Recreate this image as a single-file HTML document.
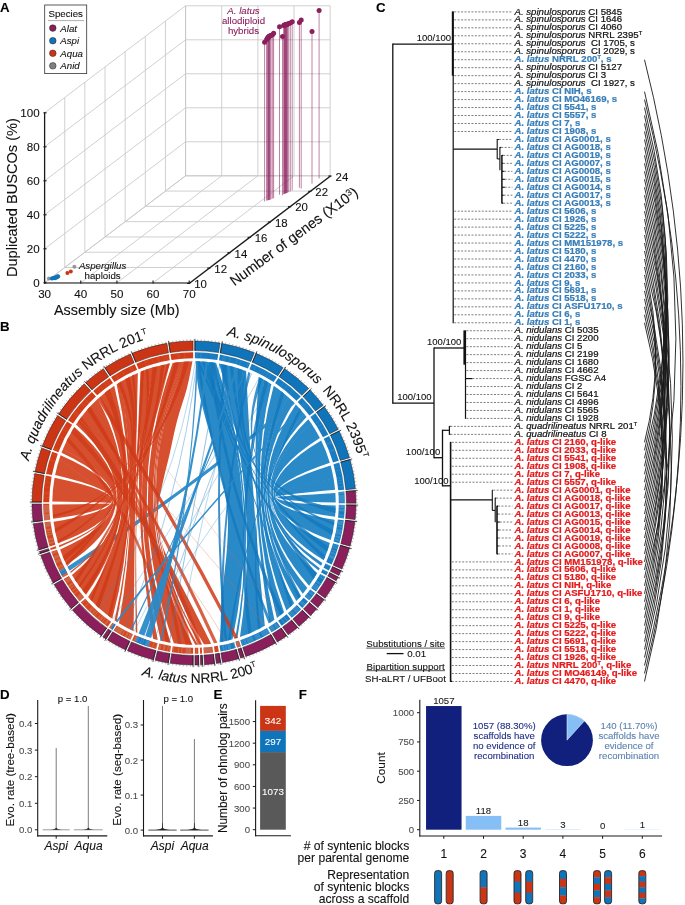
<!DOCTYPE html>
<html><head><meta charset="utf-8"><title>Figure</title>
<style>
html,body{margin:0;padding:0;background:#fff;}
body{width:685px;height:905px;overflow:hidden;font-family:"Liberation Sans",sans-serif;}
svg{display:block;will-change:transform;}
text{font-family:"Liberation Sans",sans-serif;}
</style></head><body>
<svg width="685" height="905" viewBox="0 0 685 905">
<rect width="685" height="905" fill="#fff"/>
<line x1="185.58" y1="175.8" x2="185.58" y2="5.8" stroke="#c8c8c8" stroke-width="0.85" />
<line x1="221.73" y1="175.8" x2="221.73" y2="5.8" stroke="#c8c8c8" stroke-width="0.85" />
<line x1="257.88" y1="175.8" x2="257.88" y2="5.8" stroke="#c8c8c8" stroke-width="0.85" />
<line x1="294.03" y1="175.8" x2="294.03" y2="5.8" stroke="#c8c8c8" stroke-width="0.85" />
<line x1="330.18" y1="175.8" x2="330.18" y2="5.8" stroke="#c8c8c8" stroke-width="0.85" />
<line x1="185.58" y1="175.8" x2="330.18" y2="175.8" stroke="#c8c8c8" stroke-width="0.85" />
<line x1="185.58" y1="141.8" x2="330.18" y2="141.8" stroke="#c8c8c8" stroke-width="0.85" />
<line x1="185.58" y1="107.8" x2="330.18" y2="107.8" stroke="#c8c8c8" stroke-width="0.85" />
<line x1="185.58" y1="73.8" x2="330.18" y2="73.8" stroke="#c8c8c8" stroke-width="0.85" />
<line x1="185.58" y1="39.8" x2="330.18" y2="39.8" stroke="#c8c8c8" stroke-width="0.85" />
<line x1="185.58" y1="5.8" x2="330.18" y2="5.8" stroke="#c8c8c8" stroke-width="0.85" />
<line x1="44.6" y1="282.8" x2="44.6" y2="112.8" stroke="#c8c8c8" stroke-width="0.85" />
<line x1="64.74" y1="267.51" x2="64.74" y2="97.51" stroke="#c8c8c8" stroke-width="0.85" />
<line x1="84.88" y1="252.23" x2="84.88" y2="82.23" stroke="#c8c8c8" stroke-width="0.85" />
<line x1="105.02" y1="236.94" x2="105.02" y2="66.94" stroke="#c8c8c8" stroke-width="0.85" />
<line x1="125.16" y1="221.66" x2="125.16" y2="51.66" stroke="#c8c8c8" stroke-width="0.85" />
<line x1="145.3" y1="206.37" x2="145.3" y2="36.37" stroke="#c8c8c8" stroke-width="0.85" />
<line x1="165.44" y1="191.08" x2="165.44" y2="21.08" stroke="#c8c8c8" stroke-width="0.85" />
<line x1="185.58" y1="175.8" x2="185.58" y2="5.8" stroke="#c8c8c8" stroke-width="0.85" />
<line x1="44.6" y1="282.8" x2="185.58" y2="175.8" stroke="#c8c8c8" stroke-width="0.85" />
<line x1="44.6" y1="248.8" x2="185.58" y2="141.8" stroke="#c8c8c8" stroke-width="0.85" />
<line x1="44.6" y1="214.8" x2="185.58" y2="107.8" stroke="#c8c8c8" stroke-width="0.85" />
<line x1="44.6" y1="180.8" x2="185.58" y2="73.8" stroke="#c8c8c8" stroke-width="0.85" />
<line x1="44.6" y1="146.8" x2="185.58" y2="39.8" stroke="#c8c8c8" stroke-width="0.85" />
<line x1="44.6" y1="112.8" x2="185.58" y2="5.8" stroke="#c8c8c8" stroke-width="0.85" />
<line x1="44.6" y1="282.8" x2="185.58" y2="175.8" stroke="#c8c8c8" stroke-width="0.85" />
<line x1="80.75" y1="282.8" x2="221.73" y2="175.8" stroke="#c8c8c8" stroke-width="0.85" />
<line x1="116.9" y1="282.8" x2="257.88" y2="175.8" stroke="#c8c8c8" stroke-width="0.85" />
<line x1="153.05" y1="282.8" x2="294.03" y2="175.8" stroke="#c8c8c8" stroke-width="0.85" />
<line x1="189.2" y1="282.8" x2="330.18" y2="175.8" stroke="#c8c8c8" stroke-width="0.85" />
<line x1="44.6" y1="282.8" x2="189.2" y2="282.8" stroke="#c8c8c8" stroke-width="0.85" />
<line x1="64.74" y1="267.51" x2="209.34" y2="267.51" stroke="#c8c8c8" stroke-width="0.85" />
<line x1="84.88" y1="252.23" x2="229.48" y2="252.23" stroke="#c8c8c8" stroke-width="0.85" />
<line x1="105.02" y1="236.94" x2="249.62" y2="236.94" stroke="#c8c8c8" stroke-width="0.85" />
<line x1="125.16" y1="221.66" x2="269.76" y2="221.66" stroke="#c8c8c8" stroke-width="0.85" />
<line x1="145.3" y1="206.37" x2="289.9" y2="206.37" stroke="#c8c8c8" stroke-width="0.85" />
<line x1="165.44" y1="191.08" x2="310.04" y2="191.08" stroke="#c8c8c8" stroke-width="0.85" />
<line x1="185.58" y1="175.8" x2="330.18" y2="175.8" stroke="#c8c8c8" stroke-width="0.85" />
<line x1="264.6" y1="42.2" x2="264.6" y2="201.5" stroke="#8a1f5c" stroke-opacity="0.55" stroke-width="1"/>
<line x1="266.7" y1="39.5" x2="266.7" y2="200.6" stroke="#8a1f5c" stroke-opacity="0.55" stroke-width="1"/>
<line x1="268" y1="37.6" x2="268" y2="200.2" stroke="#8a1f5c" stroke-opacity="0.55" stroke-width="1"/>
<line x1="268.8" y1="36.8" x2="268.8" y2="200" stroke="#8a1f5c" stroke-opacity="0.55" stroke-width="1"/>
<line x1="269.6" y1="36" x2="269.6" y2="199.8" stroke="#8a1f5c" stroke-opacity="0.55" stroke-width="1"/>
<line x1="271.1" y1="35.4" x2="271.1" y2="199.3" stroke="#8a1f5c" stroke-opacity="0.55" stroke-width="1"/>
<line x1="272.7" y1="34.5" x2="272.7" y2="198.6" stroke="#8a1f5c" stroke-opacity="0.55" stroke-width="1"/>
<line x1="273.6" y1="33.3" x2="273.6" y2="198.2" stroke="#8a1f5c" stroke-opacity="0.55" stroke-width="1"/>
<line x1="279.5" y1="26.7" x2="279.5" y2="194.7" stroke="#8a1f5c" stroke-opacity="0.55" stroke-width="1"/>
<line x1="282.5" y1="36.6" x2="282.5" y2="195.3" stroke="#8a1f5c" stroke-opacity="0.55" stroke-width="1"/>
<line x1="283.7" y1="25.4" x2="283.7" y2="194.2" stroke="#8a1f5c" stroke-opacity="0.55" stroke-width="1"/>
<line x1="284.6" y1="25.1" x2="284.6" y2="193.8" stroke="#8a1f5c" stroke-opacity="0.55" stroke-width="1"/>
<line x1="285.4" y1="24.8" x2="285.4" y2="193.4" stroke="#8a1f5c" stroke-opacity="0.55" stroke-width="1"/>
<line x1="286.2" y1="24.6" x2="286.2" y2="193.1" stroke="#8a1f5c" stroke-opacity="0.55" stroke-width="1"/>
<line x1="287" y1="24.4" x2="287" y2="192.8" stroke="#8a1f5c" stroke-opacity="0.55" stroke-width="1"/>
<line x1="288.7" y1="23.6" x2="288.7" y2="192.2" stroke="#8a1f5c" stroke-opacity="0.55" stroke-width="1"/>
<line x1="290.3" y1="23" x2="290.3" y2="191.4" stroke="#8a1f5c" stroke-opacity="0.55" stroke-width="1"/>
<line x1="292.2" y1="21.7" x2="292.2" y2="190.3" stroke="#8a1f5c" stroke-opacity="0.55" stroke-width="1"/>
<line x1="267.2" y1="38.6" x2="267.2" y2="200.4" stroke="#8a1f5c" stroke-opacity="0.55" stroke-width="1"/>
<line x1="268.4" y1="37.2" x2="268.4" y2="200.1" stroke="#8a1f5c" stroke-opacity="0.55" stroke-width="1"/>
<line x1="269.2" y1="36.4" x2="269.2" y2="199.9" stroke="#8a1f5c" stroke-opacity="0.55" stroke-width="1"/>
<line x1="270.2" y1="35.8" x2="270.2" y2="199.6" stroke="#8a1f5c" stroke-opacity="0.55" stroke-width="1"/>
<line x1="284.2" y1="25.2" x2="284.2" y2="194" stroke="#8a1f5c" stroke-opacity="0.55" stroke-width="1"/>
<line x1="285" y1="25" x2="285" y2="193.6" stroke="#8a1f5c" stroke-opacity="0.55" stroke-width="1"/>
<line x1="285.8" y1="24.7" x2="285.8" y2="193.3" stroke="#8a1f5c" stroke-opacity="0.55" stroke-width="1"/>
<line x1="286.6" y1="24.5" x2="286.6" y2="193" stroke="#8a1f5c" stroke-opacity="0.55" stroke-width="1"/>
<line x1="287.6" y1="24.1" x2="287.6" y2="192.6" stroke="#8a1f5c" stroke-opacity="0.55" stroke-width="1"/>
<line x1="299.4" y1="22.6" x2="299.4" y2="187.8" stroke="#8a1f5c" stroke-opacity="0.55" stroke-width="1"/>
<line x1="301.2" y1="19.9" x2="301.2" y2="188.7" stroke="#8a1f5c" stroke-opacity="0.55" stroke-width="1"/>
<line x1="312" y1="31.6" x2="312" y2="183.7" stroke="#8a1f5c" stroke-opacity="0.55" stroke-width="1"/>
<line x1="319.1" y1="10.5" x2="319.1" y2="178.5" stroke="#8a1f5c" stroke-opacity="0.55" stroke-width="1"/>
<circle cx="264.6" cy="42.2" r="2.5" fill="#8a1f5c"/>
<circle cx="266.7" cy="39.5" r="2.5" fill="#8a1f5c"/>
<circle cx="268" cy="37.6" r="2.5" fill="#8a1f5c"/>
<circle cx="268.8" cy="36.8" r="2.5" fill="#8a1f5c"/>
<circle cx="269.6" cy="36" r="2.5" fill="#8a1f5c"/>
<circle cx="271.1" cy="35.4" r="2.5" fill="#8a1f5c"/>
<circle cx="272.7" cy="34.5" r="2.5" fill="#8a1f5c"/>
<circle cx="273.6" cy="33.3" r="2.5" fill="#8a1f5c"/>
<circle cx="279.5" cy="26.7" r="2.5" fill="#8a1f5c"/>
<circle cx="282.5" cy="36.6" r="2.5" fill="#8a1f5c"/>
<circle cx="283.7" cy="25.4" r="2.5" fill="#8a1f5c"/>
<circle cx="284.6" cy="25.1" r="2.5" fill="#8a1f5c"/>
<circle cx="285.4" cy="24.8" r="2.5" fill="#8a1f5c"/>
<circle cx="286.2" cy="24.6" r="2.5" fill="#8a1f5c"/>
<circle cx="287" cy="24.4" r="2.5" fill="#8a1f5c"/>
<circle cx="288.7" cy="23.6" r="2.5" fill="#8a1f5c"/>
<circle cx="290.3" cy="23" r="2.5" fill="#8a1f5c"/>
<circle cx="292.2" cy="21.7" r="2.5" fill="#8a1f5c"/>
<circle cx="267.2" cy="38.6" r="2.5" fill="#8a1f5c"/>
<circle cx="268.4" cy="37.2" r="2.5" fill="#8a1f5c"/>
<circle cx="269.2" cy="36.4" r="2.5" fill="#8a1f5c"/>
<circle cx="270.2" cy="35.8" r="2.5" fill="#8a1f5c"/>
<circle cx="284.2" cy="25.2" r="2.5" fill="#8a1f5c"/>
<circle cx="285" cy="25" r="2.5" fill="#8a1f5c"/>
<circle cx="285.8" cy="24.7" r="2.5" fill="#8a1f5c"/>
<circle cx="286.6" cy="24.5" r="2.5" fill="#8a1f5c"/>
<circle cx="287.6" cy="24.1" r="2.5" fill="#8a1f5c"/>
<circle cx="299.4" cy="22.6" r="2.5" fill="#8a1f5c"/>
<circle cx="301.2" cy="19.9" r="2.5" fill="#8a1f5c"/>
<circle cx="312" cy="31.6" r="2.5" fill="#8a1f5c"/>
<circle cx="319.1" cy="10.5" r="2.5" fill="#8a1f5c"/>
<circle cx="48.9" cy="278.5" r="2" fill="#808080" fill-opacity="0.8"/>
<circle cx="57.6" cy="276" r="2" fill="#808080" fill-opacity="0.8"/>
<circle cx="74.4" cy="266.8" r="2" fill="#808080" fill-opacity="0.8"/>
<circle cx="51.8" cy="278.6" r="2" fill="#0f74ba"/>
<circle cx="52.8" cy="278.3" r="2" fill="#0f74ba"/>
<circle cx="53.6" cy="278" r="2" fill="#0f74ba"/>
<circle cx="54.5" cy="277.8" r="2" fill="#0f74ba"/>
<circle cx="55.4" cy="277.4" r="2" fill="#0f74ba"/>
<circle cx="56.3" cy="277.1" r="2" fill="#0f74ba"/>
<circle cx="57.2" cy="276.8" r="2" fill="#0f74ba"/>
<circle cx="58.2" cy="276.4" r="2" fill="#0f74ba"/>
<circle cx="55" cy="278.2" r="2" fill="#0f74ba"/>
<circle cx="56.8" cy="277.6" r="2" fill="#0f74ba"/>
<circle cx="67.4" cy="273.1" r="2" fill="#cb3414"/>
<circle cx="70.8" cy="271.5" r="2" fill="#cb3414"/>
<line x1="44.6" y1="283.4" x2="44.6" y2="112.4" stroke="#1a1a1a" stroke-width="1.3" />
<line x1="43.4" y1="282.8" x2="46.6" y2="282.8" stroke="#1a1a1a" stroke-width="1.1" />
<text x="39.6" y="286.9" font-family="Liberation Sans, sans-serif" font-size="11.6" text-anchor="end" fill="#111" stroke="#111" stroke-width="0.1">0</text>
<line x1="43.4" y1="248.8" x2="46.6" y2="248.8" stroke="#1a1a1a" stroke-width="1.1" />
<text x="39.6" y="252.9" font-family="Liberation Sans, sans-serif" font-size="11.6" text-anchor="end" fill="#111" stroke="#111" stroke-width="0.1">20</text>
<line x1="43.4" y1="214.8" x2="46.6" y2="214.8" stroke="#1a1a1a" stroke-width="1.1" />
<text x="39.6" y="218.9" font-family="Liberation Sans, sans-serif" font-size="11.6" text-anchor="end" fill="#111" stroke="#111" stroke-width="0.1">40</text>
<line x1="43.4" y1="180.8" x2="46.6" y2="180.8" stroke="#1a1a1a" stroke-width="1.1" />
<text x="39.6" y="184.9" font-family="Liberation Sans, sans-serif" font-size="11.6" text-anchor="end" fill="#111" stroke="#111" stroke-width="0.1">60</text>
<line x1="43.4" y1="146.8" x2="46.6" y2="146.8" stroke="#1a1a1a" stroke-width="1.1" />
<text x="39.6" y="150.9" font-family="Liberation Sans, sans-serif" font-size="11.6" text-anchor="end" fill="#111" stroke="#111" stroke-width="0.1">80</text>
<line x1="43.4" y1="112.8" x2="46.6" y2="112.8" stroke="#1a1a1a" stroke-width="1.1" />
<text x="39.6" y="116.9" font-family="Liberation Sans, sans-serif" font-size="11.6" text-anchor="end" fill="#111" stroke="#111" stroke-width="0.1">100</text>
<line x1="44" y1="283" x2="189.8" y2="283" stroke="#1a1a1a" stroke-width="1.1" />
<line x1="44.6" y1="283.6" x2="44.6" y2="280.4" stroke="#1a1a1a" stroke-width="1.1" />
<text x="44.6" y="298.2" font-family="Liberation Sans, sans-serif" font-size="11.6" text-anchor="middle" fill="#111" stroke="#111" stroke-width="0.1">30</text>
<line x1="80.75" y1="283.6" x2="80.75" y2="280.4" stroke="#1a1a1a" stroke-width="1.1" />
<text x="80.75" y="298.2" font-family="Liberation Sans, sans-serif" font-size="11.6" text-anchor="middle" fill="#111" stroke="#111" stroke-width="0.1">40</text>
<line x1="116.9" y1="283.6" x2="116.9" y2="280.4" stroke="#1a1a1a" stroke-width="1.1" />
<text x="116.9" y="298.2" font-family="Liberation Sans, sans-serif" font-size="11.6" text-anchor="middle" fill="#111" stroke="#111" stroke-width="0.1">50</text>
<line x1="153.05" y1="283.6" x2="153.05" y2="280.4" stroke="#1a1a1a" stroke-width="1.1" />
<text x="153.05" y="298.2" font-family="Liberation Sans, sans-serif" font-size="11.6" text-anchor="middle" fill="#111" stroke="#111" stroke-width="0.1">60</text>
<line x1="189.2" y1="283.6" x2="189.2" y2="280.4" stroke="#1a1a1a" stroke-width="1.1" />
<text x="189.2" y="298.2" font-family="Liberation Sans, sans-serif" font-size="11.6" text-anchor="middle" fill="#111" stroke="#111" stroke-width="0.1">70</text>
<line x1="189.2" y1="283.4" x2="330.6" y2="176" stroke="#1a1a1a" stroke-width="1.3" />
<line x1="187" y1="283.4" x2="190.2" y2="283.4" stroke="#1a1a1a" stroke-width="1.1" />
<text x="200.5" y="288.2" font-family="Liberation Sans, sans-serif" font-size="11.4" text-anchor="middle" fill="#111" stroke="#111" stroke-width="0.1">10</text>
<line x1="207.2" y1="268.06" x2="210.4" y2="268.06" stroke="#1a1a1a" stroke-width="1.1" />
<text x="220.7" y="272.86" font-family="Liberation Sans, sans-serif" font-size="11.4" text-anchor="middle" fill="#111" stroke="#111" stroke-width="0.1">12</text>
<line x1="227.4" y1="252.71" x2="230.6" y2="252.71" stroke="#1a1a1a" stroke-width="1.1" />
<text x="240.9" y="257.51" font-family="Liberation Sans, sans-serif" font-size="11.4" text-anchor="middle" fill="#111" stroke="#111" stroke-width="0.1">14</text>
<line x1="247.6" y1="237.37" x2="250.8" y2="237.37" stroke="#1a1a1a" stroke-width="1.1" />
<text x="261.1" y="242.17" font-family="Liberation Sans, sans-serif" font-size="11.4" text-anchor="middle" fill="#111" stroke="#111" stroke-width="0.1">16</text>
<line x1="267.8" y1="222.03" x2="271" y2="222.03" stroke="#1a1a1a" stroke-width="1.1" />
<text x="281.3" y="226.83" font-family="Liberation Sans, sans-serif" font-size="11.4" text-anchor="middle" fill="#111" stroke="#111" stroke-width="0.1">18</text>
<line x1="288" y1="206.69" x2="291.2" y2="206.69" stroke="#1a1a1a" stroke-width="1.1" />
<text x="301.5" y="211.49" font-family="Liberation Sans, sans-serif" font-size="11.4" text-anchor="middle" fill="#111" stroke="#111" stroke-width="0.1">20</text>
<line x1="308.2" y1="191.34" x2="311.4" y2="191.34" stroke="#1a1a1a" stroke-width="1.1" />
<text x="321.7" y="196.14" font-family="Liberation Sans, sans-serif" font-size="11.4" text-anchor="middle" fill="#111" stroke="#111" stroke-width="0.1">22</text>
<line x1="328.4" y1="176" x2="331.6" y2="176" stroke="#1a1a1a" stroke-width="1.1" />
<text x="341.9" y="180.8" font-family="Liberation Sans, sans-serif" font-size="11.4" text-anchor="middle" fill="#111" stroke="#111" stroke-width="0.1">24</text>
<text x="116.8" y="314.9" font-family="Liberation Sans, sans-serif" font-size="14.4" text-anchor="middle" fill="#111" stroke="#111" stroke-width="0.1">Assembly size (Mb)</text>
<text transform="translate(17.3,197.6) rotate(-90)" font-family="Liberation Sans, sans-serif" font-size="14.6" text-anchor="middle" fill="#111" stroke="#111" stroke-width="0.1">Duplicated BUSCOs (%)</text>
<text transform="translate(234.4,286.6) rotate(-36.5)" font-family="Liberation Sans, sans-serif" font-size="14.45" fill="#111" stroke="#111" stroke-width="0.1">Number of genes (X10<tspan font-size="9.2" dy="-4.6">3</tspan><tspan dy="4.6">)</tspan></text>
<rect x="44.7" y="5" width="42" height="68.6" fill="#fff" stroke="#333" stroke-width="0.8"/>
<text x="65.7" y="17.3" font-family="Liberation Sans, sans-serif" font-size="9.7" text-anchor="middle" fill="#111" stroke="#111" stroke-width="0.1">Species</text>
<line x1="48" y1="20.6" x2="84" y2="20.6" stroke="#999" stroke-width="0.8"/>
<circle cx="52.8" cy="28.1" r="3.3" fill="#8a1f5c" stroke="#222" stroke-width="0.5"/>
<text x="60.3" y="31.6" font-family="Liberation Sans, sans-serif" font-size="9.7" font-style="italic" fill="#111" stroke="#111" stroke-width="0.1">Alat</text>
<circle cx="52.8" cy="40.7" r="3.3" fill="#0f74ba" stroke="#222" stroke-width="0.5"/>
<text x="60.3" y="44.2" font-family="Liberation Sans, sans-serif" font-size="9.7" font-style="italic" fill="#111" stroke="#111" stroke-width="0.1">Aspi</text>
<circle cx="52.8" cy="53.3" r="3.3" fill="#cb3414" stroke="#222" stroke-width="0.5"/>
<text x="60.3" y="56.8" font-family="Liberation Sans, sans-serif" font-size="9.7" font-style="italic" fill="#111" stroke="#111" stroke-width="0.1">Aqua</text>
<circle cx="52.8" cy="65.8" r="3.3" fill="#808080" stroke="#222" stroke-width="0.5"/>
<text x="60.3" y="69.3" font-family="Liberation Sans, sans-serif" font-size="9.7" font-style="italic" fill="#111" stroke="#111" stroke-width="0.1">Anid</text>
<text x="243.5" y="14.2" font-family="Liberation Sans, sans-serif" font-size="9.7" text-anchor="middle" fill="#8a1f5c" font-style="italic" stroke="#8a1f5c" stroke-width="0.1">A. latus</text>
<text x="243.5" y="24.1" font-family="Liberation Sans, sans-serif" font-size="9.7" text-anchor="middle" fill="#8a1f5c" stroke="#8a1f5c" stroke-width="0.1">allodiploid</text>
<text x="243.5" y="33.6" font-family="Liberation Sans, sans-serif" font-size="9.7" text-anchor="middle" fill="#8a1f5c" stroke="#8a1f5c" stroke-width="0.1">hybrids</text>
<text x="102.6" y="269.3" font-family="Liberation Sans, sans-serif" font-size="9.7" text-anchor="middle" fill="#111" font-style="italic" stroke="#111" stroke-width="0.1">Aspergillus</text>
<text x="102.6" y="279.0" font-family="Liberation Sans, sans-serif" font-size="9.7" text-anchor="middle" fill="#111" stroke="#111" stroke-width="0.1">haploids</text>
<text x="0" y="11.6" font-family="Liberation Sans, sans-serif" font-size="13.3" font-weight="bold" fill="#000" stroke="#000" stroke-width="0.1">A</text>
<text x="0" y="331.2" font-family="Liberation Sans, sans-serif" font-size="13.3" font-weight="bold" fill="#000" stroke="#000" stroke-width="0.1">B</text>
<text x="376" y="12.3" font-family="Liberation Sans, sans-serif" font-size="13.3" font-weight="bold" fill="#000" stroke="#000" stroke-width="0.1">C</text>
<text x="0" y="699.2" font-family="Liberation Sans, sans-serif" font-size="13.3" font-weight="bold" fill="#000" stroke="#000" stroke-width="0.1">D</text>
<text x="213.6" y="699.2" font-family="Liberation Sans, sans-serif" font-size="13.3" font-weight="bold" fill="#000" stroke="#000" stroke-width="0.1">E</text>
<text x="298.8" y="699.2" font-family="Liberation Sans, sans-serif" font-size="13.3" font-weight="bold" fill="#000" stroke="#000" stroke-width="0.1">F</text>
<path d="M333.52 478.25 A141.7 141.7 0 0 1 335.09 489.86 Q216.6 501.14 335.34 492.92 A141.7 141.7 0 0 1 335.7 502.46 Q216.84 500.95 333.52 478.25 Z" fill="#2a8ac8" fill-opacity="1"/>
<path d="M330.64 465.47 A141.7 141.7 0 0 1 333.59 478.64 Q216.92 501.22 335.68 505.52 A141.7 141.7 0 0 1 335.03 516.78 Q217.76 500.97 330.64 465.47 Z" fill="#2a8ac8" fill-opacity="1"/>
<path d="M321.19 440.53 A141.7 141.7 0 0 1 329.85 462.71 Q218.04 500.96 334.7 519.83 A141.7 141.7 0 0 1 330.76 540.1 Q221.03 500.4 321.19 440.53 Z" fill="#2a8ac8" fill-opacity="1"/>
<path d="M311.11 423.22 A141.7 141.7 0 0 1 319.89 437.97 Q221.56 500.37 329.92 543.06 A141.7 141.7 0 0 1 323.67 560.14 Q225.2 500.14 311.11 423.22 Z" fill="#2a8ac8" fill-opacity="1"/>
<path d="M308.26 419.19 A141.7 141.7 0 0 1 311.33 423.55 Q225.54 500.49 322.4 562.93 A141.7 141.7 0 0 1 321.05 565.74 Q226.53 500.16 308.26 419.19 Z" fill="#2a8ac8" fill-opacity="1"/>
<path d="M304.18 413.89 A141.7 141.7 0 0 1 306.54 416.9 Q227.23 500.09 319.77 568.27 A141.7 141.7 0 0 1 318.56 570.56 Q228.04 499.88 304.18 413.89 Z" fill="#2a8ac8" fill-opacity="1"/>
<path d="M295.83 404.46 A141.7 141.7 0 0 1 304.42 414.2 Q228.39 500.24 317.18 573.03 A141.7 141.7 0 0 1 309.1 585.65 Q232.27 500.2 295.83 404.46 Z" fill="#2a8ac8" fill-opacity="1"/>
<path d="M287.84 396.82 A141.7 141.7 0 0 1 293.81 402.42 Q233.15 500.16 307.29 588.12 A141.7 141.7 0 0 1 302.74 593.86 Q235.48 499.86 287.84 396.82 Z" fill="#2a8ac8" fill-opacity="1"/>
<path d="M282.15 392.06 A141.7 141.7 0 0 1 288.13 397.09 Q235.93 500.34 300.75 596.19 A141.7 141.7 0 0 1 296.31 601.04 Q238.19 500.01 282.15 392.06 Z" fill="#2a8ac8" fill-opacity="1"/>
<path d="M273.73 385.86 A141.7 141.7 0 0 1 282.46 392.31 Q238.65 500.52 294.16 603.23 A141.7 141.7 0 0 1 286.44 610.4 Q242.16 500.27 273.73 385.86 Z" fill="#2a8ac8" fill-opacity="1"/>
<path d="M264.04 379.82 A141.7 141.7 0 0 1 271.34 384.27 Q243.15 500.25 284.09 612.37 A141.7 141.7 0 0 1 276.93 617.9 Q246.11 500.18 264.04 379.82 Z" fill="#2a8ac8" fill-opacity="1"/>
<path d="M258.64 376.9 A141.7 141.7 0 0 1 264.38 380.02 Q246.6 500.8 274.42 619.67 A141.7 141.7 0 0 1 269.55 622.88 Q248.69 500.57 258.64 376.9 Z" fill="#2a8ac8" fill-opacity="1"/>
<path d="M218.95 363.51 A141.7 141.7 0 0 1 246.12 371.23 Q251.86 498.75 264.81 625.74 A141.7 141.7 0 0 1 239.95 637.04 Q260.85 497.87 218.95 363.51 Z" fill="#2a8ac8" fill-opacity="1"/>
<path d="M211.35 362.37 A141.7 141.7 0 0 1 216.12 363.04 Q261.69 497.76 237.38 637.9 A141.7 141.7 0 0 1 235.13 638.6 Q262.7 497.08 211.35 362.37 Z" fill="#2a8ac8" fill-opacity="1"/>
<path d="M195.53 361.31 A141.7 141.7 0 0 1 211.74 362.41 Q263.1 497.81 232.53 639.36 A141.7 141.7 0 0 1 219.63 642.36 C219.86 638.8 220.44 630.23 221 621 C221.56 611.77 222 599.17 223 587 C224 574.83 226.22 560 227 548 C227.78 536 228.3 525.33 227.7 515 C227.1 504.67 225.35 496.08 223.4 486 C221.45 475.92 218.82 465.17 216 454.5 C213.18 443.83 209.42 432.92 206.5 422 C203.58 411.08 200.33 399.12 198.5 389 C196.67 378.88 196.03 365.92 195.53 361.31 Z" fill="#2a8ac8" fill-opacity="1"/>
<path d="M292.43 401.07 A141.7 141.7 0 0 1 294.89 403.5 Q186.95 493.5 69.59 570.83 A141.7 141.7 0 0 1 67.41 566.67 Q185.55 491.52 292.43 401.07 Z" fill="#2a8ac8" fill-opacity="0.95"/>
<path d="M53.18 518.75 A141.7 141.7 0 0 1 52.31 504.53 Q171.32 503 52.31 501.47 A141.7 141.7 0 0 1 54.57 477.76 Q170.6 502.21 53.18 518.75 Z" fill="#d6502f" fill-opacity="1"/>
<path d="M58.12 543.2 A141.7 141.7 0 0 1 53.55 521.79 Q170.37 502.22 55.11 474.94 A141.7 141.7 0 0 1 60.56 455.33 Q167.89 502.28 58.12 543.2 Z" fill="#d6502f" fill-opacity="1"/>
<path d="M59.35 547.14 A141.7 141.7 0 0 1 58.82 545.49 Q167.48 502.22 61.55 452.64 A141.7 141.7 0 0 1 63.03 448.91 Q167.02 501.99 59.35 547.14 Z" fill="#d6502f" fill-opacity="1"/>
<path d="M66.51 564.85 A141.7 141.7 0 0 1 60.12 549.41 Q166.84 502.25 62.88 449.27 A141.7 141.7 0 0 1 72.86 429.49 Q162.96 501.54 66.51 564.85 Z" fill="#d6502f" fill-opacity="1"/>
<path d="M70.82 573.05 A141.7 141.7 0 0 1 70.16 571.86 Q162.06 502.44 72.65 429.83 A141.7 141.7 0 0 1 74.44 426.95 Q161.5 502.2 70.82 573.05 Z" fill="#d6502f" fill-opacity="1"/>
<path d="M86.06 594.8 A141.7 141.7 0 0 1 71.93 574.96 Q160.87 502.1 76 424.54 A141.7 141.7 0 0 1 97.65 399.1 Q152.8 500.56 86.06 594.8 Z" fill="#d6502f" fill-opacity="1"/>
<path d="M112.28 618.76 A141.7 141.7 0 0 1 88.07 597.12 Q151.88 500.53 99.77 397.17 A141.7 141.7 0 0 1 114.27 385.86 Q143.49 502.57 112.28 618.76 Z" fill="#d6502f" fill-opacity="1"/>
<path d="M116.62 621.7 A141.7 141.7 0 0 1 114.56 620.34 Q142.54 502.54 116.66 384.27 A141.7 141.7 0 0 1 120.88 381.63 Q141.28 502.07 116.62 621.7 Z" fill="#d6502f" fill-opacity="1"/>
<path d="M133.62 631.19 A141.7 141.7 0 0 1 118.95 623.19 Q140.87 502.65 120.54 381.83 A141.7 141.7 0 0 1 137.86 372.9 Q134.75 502.03 133.62 631.19 Z" fill="#d6502f" fill-opacity="1"/>
<path d="M137.38 632.9 A141.7 141.7 0 0 1 135.8 632.2 Q133.87 501.91 140.51 371.79 A141.7 141.7 0 0 1 144.65 370.17 Q132.86 501.31 137.38 632.9 Z" fill="#d6502f" fill-opacity="1"/>
<path d="M157.76 639.99 A141.7 141.7 0 0 1 153.09 638.67 Q130.2 505.1 144.27 370.31 A141.7 141.7 0 0 1 153.85 367.11 Q127.81 503.95 157.76 639.99 Z" fill="#d6502f" fill-opacity="1"/>
<path d="M170.81 642.79 A141.7 141.7 0 0 1 160.73 640.74 Q127.41 504.77 153.47 367.22 A141.7 141.7 0 0 1 169.78 363.38 Q123.39 503.26 170.81 642.79 Z" fill="#d6502f" fill-opacity="1"/>
<path d="M192.47 644.69 A141.7 141.7 0 0 1 173.84 643.26 Q122.57 503.31 172.62 362.92 A141.7 141.7 0 0 1 183.44 361.69 Q118.86 505.4 192.47 644.69 Z" fill="#d6502f" fill-opacity="1"/>
<path d="M197.71 644.65 A141.7 141.7 0 0 1 195.24 644.69 Q118.62 506.25 183.04 361.72 A141.7 141.7 0 0 1 185.86 361.53 Q118.02 506.18 197.71 644.65 Z" fill="#d6502f" fill-opacity="1"/>
<path d="M201.54 644.5 A141.7 141.7 0 0 1 199.81 644.58 Q117.87 506.86 185.47 361.56 A141.7 141.7 0 0 1 187.56 361.45 Q117.46 506.78 201.54 644.5 Z" fill="#d6502f" fill-opacity="1"/>
<path d="M211.22 643.65 A141.7 141.7 0 0 1 203.93 644.35 Q117.29 507.55 187.17 361.46 A141.7 141.7 0 0 1 192.47 361.31 C191.56 365.76 189.58 378.05 187 388 C184.42 397.95 179.92 409.92 177 421 C174.08 432.08 172 443.67 169.5 454.5 C167 465.33 163.92 476.58 162 486 C160.08 495.42 158.17 501.83 158 511 C157.83 520.17 158.33 531 161 541 C163.67 551 169.17 560.83 174 571 C178.83 581.17 183.8 589.89 190 602 C196.2 614.11 207.68 636.71 211.22 643.65 Z" fill="#d6502f" fill-opacity="1"/>
<path d="M85.45 594.08 A141.7 141.7 0 0 1 82.34 590.24 Q152.44 498.27 104.83 392.88 A141.7 141.7 0 0 1 109.71 389.09 Q150.73 497.88 85.45 594.08 Z" fill="#cd3816" fill-opacity="0.78"/>
<path d="M64.55 560.63 A141.7 141.7 0 0 1 62.62 556.08 Q156.7 489.79 125.3 379.07 A141.7 141.7 0 0 1 129.67 376.74 Q155.29 489.29 64.55 560.63 Z" fill="#cd3816" fill-opacity="0.78"/>
<path d="M99.18 608.3 A141.7 141.7 0 0 1 95.57 604.93 Q141.44 490.38 152.57 367.49 A141.7 141.7 0 0 1 157.33 366.13 Q139.8 489.99 99.18 608.3 Z" fill="#cd3816" fill-opacity="0.78"/>
<path d="M76.53 582.24 A141.7 141.7 0 0 1 74.49 579.14 Q146.62 481.16 174.28 362.68 A141.7 141.7 0 0 1 179.19 362.08 Q145.39 480.33 76.53 582.24 Z" fill="#cd3816" fill-opacity="0.78"/>
<path d="M55.4 532.46 A141.7 141.7 0 0 1 54.67 528.82 Q158.6 475.59 184.12 361.65 A141.7 141.7 0 0 1 189.05 361.39 Q157.61 474.57 55.4 532.46 Z" fill="#cd3816" fill-opacity="0.78"/>
<path d="M58.14 543.24 A141.7 141.7 0 0 1 57.45 540.87 Q158 484.46 145.54 369.85 A141.7 141.7 0 0 1 148.33 368.86 Q157.29 484.01 58.14 543.24 Z" fill="#cd3816" fill-opacity="0.78"/>
<path d="M53.08 517.81 A141.7 141.7 0 0 1 52.8 514.86 Q164.81 488.54 117.86 383.49 A141.7 141.7 0 0 1 121.02 381.54 Q164.1 488.09 53.08 517.81 Z" fill="#cd3816" fill-opacity="0.78"/>
<path d="M67.19 566.23 A141.7 141.7 0 0 1 65.58 562.89 Q151.86 482.68 160.92 365.22 A141.7 141.7 0 0 1 164.54 364.4 Q150.76 482.14 67.19 566.23 Z" fill="#cd3816" fill-opacity="0.78"/>
<path d="M80.09 587.29 A141.7 141.7 0 0 1 78.64 585.29 Q149.44 491.68 131.88 375.64 A141.7 141.7 0 0 1 134.11 374.58 Q148.66 491.48 80.09 587.29 Z" fill="#cd3816" fill-opacity="0.78"/>
<path d="M92.07 601.43 A141.7 141.7 0 0 1 90.03 599.28 Q141.5 485.84 166.96 363.9 A141.7 141.7 0 0 1 169.88 363.37 Q140.54 485.53 92.07 601.43 Z" fill="#cd3816" fill-opacity="0.78"/>
<path d="M110.71 617.64 A141.7 141.7 0 0 1 107.93 615.57 Q139.77 495.67 140.92 371.62 A141.7 141.7 0 0 1 144.14 370.36 Q138.6 495.51 110.71 617.64 Z" fill="#cd3816" fill-opacity="0.78"/>
<path d="M201.91 644.48 A141.7 141.7 0 0 1 197.46 644.66 Q158.22 524.24 71.28 432.15 A141.7 141.7 0 0 1 74.09 427.49 Q160.4 522.79 201.91 644.48 Z" fill="#cf3a18" fill-opacity="0.72"/>
<path d="M191.53 644.68 A141.7 141.7 0 0 1 185.35 644.44 Q156.58 521.05 77.93 421.72 A141.7 141.7 0 0 1 81.58 416.74 Q159.53 519.63 191.53 644.68 Z" fill="#cf3a18" fill-opacity="0.72"/>
<path d="M181.65 644.16 A141.7 141.7 0 0 1 177.96 643.79 Q157.35 517.07 87.87 409.11 A141.7 141.7 0 0 1 90.37 406.36 Q159.21 516.36 181.65 644.16 Z" fill="#cf3a18" fill-opacity="0.72"/>
<path d="M169.39 642.55 A141.7 141.7 0 0 1 165.51 641.81 Q147.24 526.01 66.64 440.88 A141.7 141.7 0 0 1 68.42 437.35 Q148.95 525.17 169.39 642.55 Z" fill="#cf3a18" fill-opacity="0.72"/>
<path d="M238.02 637.69 A141.7 141.7 0 0 1 234.48 638.79 Q171.54 515.86 97.36 399.37 A141.7 141.7 0 0 1 100.29 396.71 Q174.13 514.36 238.02 637.69 Z" fill="#cf3a18" fill-opacity="0.85"/>
<path d="M217.39 642.76 A141.7 141.7 0 0 1 213.97 643.29 Q159.21 521.93 87.06 410.04 A141.7 141.7 0 0 1 89.36 407.45 Q161.5 520.68 217.39 642.76 Z" fill="#cf3a18" fill-opacity="0.8"/>
<path d="M201.42 361.49 A141.7 141.7 0 0 1 207.58 361.95 Q240.38 479.11 316.72 573.85 A141.7 141.7 0 0 1 313.51 579.14 Q242.24 478.15 201.42 361.49 Z" fill="#1277bd" fill-opacity="0.8"/>
<path d="M221.04 363.9 A141.7 141.7 0 0 1 227.08 365.22 Q228.7 480.68 333.1 530.04 A141.7 141.7 0 0 1 332.07 534.88 Q230.05 479.59 221.04 363.9 Z" fill="#1277bd" fill-opacity="0.8"/>
<path d="M229.48 365.81 A141.7 141.7 0 0 1 233.06 366.79 Q244.22 488.12 300.94 595.96 A141.7 141.7 0 0 1 298.47 598.73 Q245.43 487.77 229.48 365.81 Z" fill="#1277bd" fill-opacity="0.8"/>
<path d="M237.79 368.24 A141.7 141.7 0 0 1 242.46 369.85 Q231.25 484.83 328.76 546.79 A141.7 141.7 0 0 1 327.15 551.46 Q232.64 484.16 237.79 368.24 Z" fill="#1277bd" fill-opacity="0.8"/>
<path d="M259.43 377.31 A141.7 141.7 0 0 1 262.7 379.07 Q222.54 486.85 335.61 507.95 A141.7 141.7 0 0 1 335.35 512.88 Q223.56 486.45 259.43 377.31 Z" fill="#1277bd" fill-opacity="0.8"/>
<path d="M281.24 391.34 A141.7 141.7 0 0 1 284.13 393.66 Q245.07 508.14 260.52 628.11 A141.7 141.7 0 0 1 257.89 629.48 Q246.21 508.12 281.24 391.34 Z" fill="#1277bd" fill-opacity="0.8"/>
<path d="M299.3 408.18 A141.7 141.7 0 0 1 301.27 410.41 Q244.38 518.5 230.67 639.87 A141.7 141.7 0 0 1 227.8 640.61 Q245.34 518.8 299.3 408.18 Z" fill="#1277bd" fill-opacity="0.8"/>
<path d="M211.27 362.36 A141.7 141.7 0 0 1 214.7 362.82 Q235.34 479.32 325.38 556.08 A141.7 141.7 0 0 1 324.05 559.28 Q236.34 478.75 211.27 362.36 Z" fill="#1277bd" fill-opacity="0.8"/>
<path d="M196.97 361.33 A141.7 141.7 0 0 1 199.93 361.42 Q250.23 481.64 292.43 604.93 A141.7 141.7 0 0 1 290.28 606.97 Q251.15 481.29 196.97 361.33 Z" fill="#1277bd" fill-opacity="0.8"/>
<path d="M243.62 370.27 A141.7 141.7 0 0 1 245.7 371.07 Q226.17 484.2 334.32 522.72 A141.7 141.7 0 0 1 333.96 525.17 Q226.77 483.89 243.62 370.27 Z" fill="#1277bd" fill-opacity="0.8"/>
<path d="M208.81 362.08 A141.7 141.7 0 0 1 212.5 362.51 Q226.3 493.89 283.17 613.12 A141.7 141.7 0 0 1 280.26 615.42 Q224.32 494.45 208.81 362.08 Z" fill="#1277bd" fill-opacity="0.8"/>
<path d="M264.85 380.28 A141.7 141.7 0 0 1 268.04 382.18 Q233.5 505.59 251.63 632.45 A141.7 141.7 0 0 1 248.23 633.91 Q231.52 505.46 264.85 380.28 Z" fill="#1277bd" fill-opacity="0.8"/>
<path d="M196.47 361.32 A141.7 141.7 0 0 1 199.44 361.4 Q218.78 496.17 271.18 621.84 A141.7 141.7 0 0 1 268.67 623.43 Q217.14 496.63 196.47 361.32 Z" fill="#1277bd" fill-opacity="0.8"/>
<path d="M223.46 364.4 A141.7 141.7 0 0 1 225.88 364.93 Q213.49 502.91 227.08 640.78 A141.7 141.7 0 0 1 224.67 641.34 Q212.04 502.92 223.46 364.4 Z" fill="#1277bd" fill-opacity="0.8"/>
<path d="M248.23 372.09 A141.7 141.7 0 0 1 250.5 373.05 Q219.79 505.6 223.46 641.6 A141.7 141.7 0 0 1 221.04 642.1 Q218.38 505.45 248.23 372.09 Z" fill="#1277bd" fill-opacity="0.8"/>
<path d="M235.9 367.64 A141.7 141.7 0 0 1 238.02 368.31 Q193.44 502.8 144.38 635.73 A141.7 141.7 0 0 1 138.63 633.44 Q192.65 502.51 235.9 367.64 Z" fill="#2a8ac8" fill-opacity="0.95"/>
<path d="M205.86 361.8 A141.7 141.7 0 0 1 208.07 362 Q191.12 502.41 151.15 638.07 A141.7 141.7 0 0 1 145.3 636.07 Q190.32 502.19 205.86 361.8 Z" fill="#2a8ac8" fill-opacity="0.95"/>
<path d="M299.3 408.18 A141.7 141.7 0 0 1 300.45 409.48 Q202.97 510.72 117.45 622.24 A141.7 141.7 0 0 1 115.79 621.16 Q202.13 510 299.3 408.18 Z" fill="#2a8ac8" fill-opacity="0.95"/>
<path d="M196.47 361.32 A141.7 141.7 0 0 1 198.2 361.36 Q191.21 502.64 161.88 641.01 A141.7 141.7 0 0 1 160.2 640.61 Q190.87 502.59 196.47 361.32 Z" fill="#2a8ac8" fill-opacity="0.9"/>
<path d="M244.78 370.71 A141.7 141.7 0 0 1 246.16 371.25 Q193 502.56 131.88 630.36 A141.7 141.7 0 0 1 130.55 629.7 Q192.73 502.44 244.78 370.71 Z" fill="#2a8ac8" fill-opacity="0.9"/>
<path d="M196.97 361.33 Q180.85 499.45 125.3 626.93" fill="none" stroke="#2a8ac8" stroke-width="0.5" stroke-opacity="0.85"/>
<path d="M219.82 363.67 Q194.24 503.04 169.39 642.55" fill="none" stroke="#2a8ac8" stroke-width="0.6" stroke-opacity="0.85"/>
<path d="M242.46 369.85 Q200.73 504.55 179.19 643.92" fill="none" stroke="#2a8ac8" stroke-width="0.4" stroke-opacity="0.85"/>
<path d="M251.63 373.55 Q197.72 504.35 154.94 639.21" fill="none" stroke="#2a8ac8" stroke-width="0.5" stroke-opacity="0.85"/>
<path d="M259.43 377.31 Q190.83 501.08 112.72 619.07" fill="none" stroke="#2a8ac8" stroke-width="0.4" stroke-opacity="0.85"/>
<path d="M195.48 361.31 Q175.33 495.72 99.18 608.3" fill="none" stroke="#2a8ac8" stroke-width="0.4" stroke-opacity="0.85"/>
<path d="M271.18 384.16 Q197.46 504.92 134.11 631.42" fill="none" stroke="#2a8ac8" stroke-width="0.4" stroke-opacity="0.85"/>
<path d="M305.66 415.76 Q207.11 512.35 147.87 636.98" fill="none" stroke="#2a8ac8" stroke-width="0.4" stroke-opacity="0.85"/>
<path d="M79.36 419.71 Q180.86 514.83 264.85 625.72" fill="none" stroke="#e0694a" stroke-width="0.4" stroke-opacity="0.8"/>
<path d="M106.76 391.34 Q193.41 503.45 279.28 616.17" fill="none" stroke="#e0694a" stroke-width="0.3" stroke-opacity="0.8"/>
<path d="M59.24 459.21 Q163.13 531.28 225.88 641.07" fill="none" stroke="#e0694a" stroke-width="0.4" stroke-opacity="0.8"/>
<path d="M194.87 352.2 A150.8 150.8 0 0 1 218.29 354.17 L217.33 360.09 A144.8 144.8 0 0 0 194.83 358.2 Z" fill="#1a7cc0"/>
<path d="M220 354.46 A150.8 150.8 0 0 1 250.17 363.05 L247.94 368.62 A144.8 144.8 0 0 0 218.97 360.37 Z" fill="#1a7cc0"/>
<path d="M251.78 363.71 A150.8 150.8 0 0 1 276.95 377.06 L273.65 382.07 A144.8 144.8 0 0 0 249.48 369.25 Z" fill="#1a7cc0"/>
<path d="M278.39 378.03 A150.8 150.8 0 0 1 300.76 396.5 L296.51 400.74 A144.8 144.8 0 0 0 275.03 383 Z" fill="#1a7cc0"/>
<path d="M301.98 397.74 A150.8 150.8 0 0 1 314.23 411.97 L309.44 415.6 A144.8 144.8 0 0 0 297.69 401.92 Z" fill="#1a7cc0"/>
<path d="M315.27 413.36 A150.8 150.8 0 0 1 328.33 434.47 L322.98 437.19 A144.8 144.8 0 0 0 310.44 416.93 Z" fill="#1a7cc0"/>
<path d="M329.11 436.02 A150.8 150.8 0 0 1 338.79 460.85 L333.03 462.53 A144.8 144.8 0 0 0 323.73 438.68 Z" fill="#1a7cc0"/>
<path d="M339.27 462.52 A150.8 150.8 0 0 1 344.22 489.78 L338.24 490.3 A144.8 144.8 0 0 0 333.49 464.13 Z" fill="#1a7cc0"/>
<path d="M43.2 502.13 A150.8 150.8 0 0 1 45.71 475.6 L51.61 476.69 A144.8 144.8 0 0 0 49.2 502.17 Z" fill="#d23c19"/>
<path d="M46.04 473.89 A150.8 150.8 0 0 1 52.18 451.75 L57.82 453.78 A144.8 144.8 0 0 0 51.92 475.05 Z" fill="#d23c19"/>
<path d="M52.78 450.11 A150.8 150.8 0 0 1 67.06 421.6 L72.11 424.84 A144.8 144.8 0 0 0 58.4 452.22 Z" fill="#d23c19"/>
<path d="M68 420.14 A150.8 150.8 0 0 1 91.87 392.05 L95.93 396.46 A144.8 144.8 0 0 0 73.02 423.44 Z" fill="#d23c19"/>
<path d="M93.15 390.88 A150.8 150.8 0 0 1 109.61 378.03 L112.97 383 A144.8 144.8 0 0 0 97.17 395.34 Z" fill="#d23c19"/>
<path d="M111.05 377.06 A150.8 150.8 0 0 1 134.76 364.32 L137.12 369.84 A144.8 144.8 0 0 0 114.35 382.07 Z" fill="#d23c19"/>
<path d="M136.36 363.65 A150.8 150.8 0 0 1 168.77 354.32 L169.78 360.24 A144.8 144.8 0 0 0 138.66 369.19 Z" fill="#d23c19"/>
<path d="M170.49 354.04 A150.8 150.8 0 0 1 193.13 352.2 L193.17 358.2 A144.8 144.8 0 0 0 171.42 359.97 Z" fill="#d23c19"/>
<path d="M344.36 491.51 A150.8 150.8 0 0 1 344.8 503.18 L338.8 503.18 A144.8 144.8 0 0 0 338.38 491.97 Z" fill="#1a7cc0"/>
<path d="M344.79 504.92 A150.8 150.8 0 0 1 344.01 518.42 L338.04 517.81 A144.8 144.8 0 0 0 338.79 504.84 Z" fill="#1a7cc0"/>
<path d="M343.82 520.15 A150.8 150.8 0 0 1 339.34 543.22 L333.55 541.62 A144.8 144.8 0 0 0 337.86 519.47 Z" fill="#1a7cc0"/>
<path d="M338.86 544.89 A150.8 150.8 0 0 1 331.69 564.5 L326.21 562.06 A144.8 144.8 0 0 0 333.1 543.23 Z" fill="#1a7cc0"/>
<path d="M330.97 566.09 A150.8 150.8 0 0 1 328.87 570.45 L323.51 567.77 A144.8 144.8 0 0 0 325.52 563.58 Z" fill="#1a7cc0"/>
<path d="M328.09 572 A150.8 150.8 0 0 1 326.31 575.35 L321.05 572.47 A144.8 144.8 0 0 0 322.75 569.26 Z" fill="#1a7cc0"/>
<path d="M325.47 576.87 A150.8 150.8 0 0 1 316.05 591.57 L311.19 588.05 A144.8 144.8 0 0 0 320.24 573.93 Z" fill="#1a7cc0"/>
<path d="M315.02 592.97 A150.8 150.8 0 0 1 309.23 600.27 L304.65 596.4 A144.8 144.8 0 0 0 310.2 589.39 Z" fill="#1a7cc0"/>
<path d="M308.1 601.6 A150.8 150.8 0 0 1 302.35 607.89 L298.04 603.71 A144.8 144.8 0 0 0 303.56 597.67 Z" fill="#1a7cc0"/>
<path d="M301.13 609.13 A150.8 150.8 0 0 1 291.8 617.79 L287.91 613.22 A144.8 144.8 0 0 0 296.87 604.91 Z" fill="#1a7cc0"/>
<path d="M290.47 618.91 A150.8 150.8 0 0 1 281.63 625.72 L278.15 620.84 A144.8 144.8 0 0 0 286.63 614.3 Z" fill="#1a7cc0"/>
<path d="M280.21 626.72 A150.8 150.8 0 0 1 271.51 632.36 L268.43 627.21 A144.8 144.8 0 0 0 276.78 621.8 Z" fill="#1a7cc0"/>
<path d="M270.01 633.24 A150.8 150.8 0 0 1 242.17 645.9 L240.26 640.21 A144.8 144.8 0 0 0 266.99 628.06 Z" fill="#1a7cc0"/>
<path d="M240.52 646.44 A150.8 150.8 0 0 1 237.41 647.42 L235.68 641.67 A144.8 144.8 0 0 0 238.67 640.74 Z" fill="#1a7cc0"/>
<path d="M235.74 647.91 A150.8 150.8 0 0 1 220.52 651.45 L219.47 645.54 A144.8 144.8 0 0 0 234.08 642.14 Z" fill="#1a7cc0"/>
<path d="M218.81 651.74 A150.8 150.8 0 0 1 214.8 652.36 L213.98 646.42 A144.8 144.8 0 0 0 217.82 645.83 Z" fill="#d6461f"/>
<path d="M213.08 652.59 A150.8 150.8 0 0 1 203.81 653.48 L203.42 647.49 A144.8 144.8 0 0 0 212.32 646.64 Z" fill="#d6461f"/>
<path d="M202.08 653.58 A150.8 150.8 0 0 1 200.13 653.68 L199.89 647.68 A144.8 144.8 0 0 0 201.75 647.59 Z" fill="#d6461f"/>
<path d="M198.39 653.74 A150.8 150.8 0 0 1 194.87 653.8 L194.83 647.8 A144.8 144.8 0 0 0 198.22 647.74 Z" fill="#d6461f"/>
<path d="M193.13 653.8 A150.8 150.8 0 0 1 171.79 652.16 L172.67 646.22 A144.8 144.8 0 0 0 193.17 647.8 Z" fill="#d6461f"/>
<path d="M170.07 651.89 A150.8 150.8 0 0 1 157.85 649.4 L159.29 643.58 A144.8 144.8 0 0 0 171.02 645.97 Z" fill="#d6461f"/>
<path d="M156.17 648.98 A150.8 150.8 0 0 1 132.02 640.47 L134.48 635 A144.8 144.8 0 0 0 157.67 643.17 Z" fill="#d6461f"/>
<path d="M130.44 639.75 A150.8 150.8 0 0 1 113.49 630.51 L116.69 625.43 A144.8 144.8 0 0 0 132.97 634.31 Z" fill="#d6461f"/>
<path d="M112.02 629.57 A150.8 150.8 0 0 1 109.09 627.62 L112.46 622.66 A144.8 144.8 0 0 0 115.28 624.54 Z" fill="#d6461f"/>
<path d="M107.66 626.63 A150.8 150.8 0 0 1 80.76 602.59 L85.27 598.63 A144.8 144.8 0 0 0 111.09 621.71 Z" fill="#d6461f"/>
<path d="M79.62 601.28 A150.8 150.8 0 0 1 63.71 578.92 L68.89 575.9 A144.8 144.8 0 0 0 84.17 597.37 Z" fill="#d6461f"/>
<path d="M62.84 577.42 A150.8 150.8 0 0 1 51.27 551.67 L56.95 549.74 A144.8 144.8 0 0 0 68.06 574.46 Z" fill="#d6461f"/>
<path d="M50.72 550.03 A150.8 150.8 0 0 1 50.12 548.17 L55.85 546.37 A144.8 144.8 0 0 0 56.42 548.15 Z" fill="#d6461f"/>
<path d="M49.61 546.51 A150.8 150.8 0 0 1 44.43 522.24 L50.38 521.47 A144.8 144.8 0 0 0 55.36 544.78 Z" fill="#d6461f"/>
<path d="M44.22 520.52 A150.8 150.8 0 0 1 43.2 503.87 L49.2 503.83 A144.8 144.8 0 0 0 50.18 519.82 Z" fill="#d6461f"/>
<path d="M240.85 646.34 A150.8 150.8 0 0 1 237.08 647.52 L235.37 641.77 A144.8 144.8 0 0 0 238.99 640.63 Z" fill="#d6461f"/>
<path d="M148.4 646.74 A150.8 150.8 0 0 1 135.08 641.81 L137.42 636.29 A144.8 144.8 0 0 0 150.22 641.02 Z" fill="#1a7cc0"/>
<path d="M61.73 575.42 A150.8 150.8 0 0 1 59.28 570.76 L64.64 568.06 A144.8 144.8 0 0 0 66.99 572.54 Z" fill="#1a7cc0"/>
<path d="M112.53 629.9 A150.8 150.8 0 0 1 110.55 628.6 L113.87 623.61 A144.8 144.8 0 0 0 115.77 624.85 Z" fill="#1a7cc0"/>
<line x1="344.1" y1="492.06" x2="338.72" y2="492.45" stroke="#7fb6dd" stroke-width="0.45" stroke-opacity="0.8"/>
<line x1="344.18" y1="493.16" x2="338.79" y2="493.51" stroke="#7fb6dd" stroke-width="0.45" stroke-opacity="0.8"/>
<line x1="344.31" y1="495.36" x2="338.91" y2="495.63" stroke="#7fb6dd" stroke-width="0.45" stroke-opacity="0.8"/>
<line x1="344.36" y1="496.46" x2="338.96" y2="496.7" stroke="#7fb6dd" stroke-width="0.45" stroke-opacity="0.8"/>
<line x1="344.4" y1="497.56" x2="339.01" y2="497.76" stroke="#7fb6dd" stroke-width="0.45" stroke-opacity="0.8"/>
<line x1="344.44" y1="498.67" x2="339.04" y2="498.82" stroke="#7fb6dd" stroke-width="0.45" stroke-opacity="0.8"/>
<line x1="344.47" y1="499.77" x2="339.07" y2="499.89" stroke="#7fb6dd" stroke-width="0.45" stroke-opacity="0.8"/>
<line x1="344.48" y1="500.87" x2="339.09" y2="500.95" stroke="#7fb6dd" stroke-width="0.45" stroke-opacity="0.8"/>
<line x1="344.5" y1="501.98" x2="339.1" y2="502.01" stroke="#7fb6dd" stroke-width="0.45" stroke-opacity="0.8"/>
<line x1="344.48" y1="505.44" x2="339.08" y2="505.36" stroke="#7fb6dd" stroke-width="0.45" stroke-opacity="0.8"/>
<line x1="344.46" y1="506.55" x2="339.06" y2="506.42" stroke="#7fb6dd" stroke-width="0.45" stroke-opacity="0.8"/>
<line x1="344.43" y1="507.65" x2="339.03" y2="507.48" stroke="#7fb6dd" stroke-width="0.45" stroke-opacity="0.8"/>
<line x1="344.34" y1="509.85" x2="338.95" y2="509.61" stroke="#7fb6dd" stroke-width="0.45" stroke-opacity="0.8"/>
<line x1="344.29" y1="510.96" x2="338.9" y2="510.67" stroke="#7fb6dd" stroke-width="0.45" stroke-opacity="0.8"/>
<line x1="343.99" y1="515.36" x2="338.61" y2="514.91" stroke="#7fb6dd" stroke-width="0.45" stroke-opacity="0.8"/>
<line x1="343.79" y1="517.56" x2="338.42" y2="517.03" stroke="#7fb6dd" stroke-width="0.45" stroke-opacity="0.8"/>
<line x1="343.33" y1="521.73" x2="337.97" y2="521.06" stroke="#7fb6dd" stroke-width="0.45" stroke-opacity="0.8"/>
<line x1="343.19" y1="522.83" x2="337.84" y2="522.12" stroke="#7fb6dd" stroke-width="0.45" stroke-opacity="0.8"/>
<line x1="343.04" y1="523.92" x2="337.69" y2="523.17" stroke="#7fb6dd" stroke-width="0.45" stroke-opacity="0.8"/>
<line x1="342.88" y1="525.01" x2="337.54" y2="524.22" stroke="#7fb6dd" stroke-width="0.45" stroke-opacity="0.8"/>
<line x1="342.54" y1="527.19" x2="337.21" y2="526.32" stroke="#7fb6dd" stroke-width="0.45" stroke-opacity="0.8"/>
<line x1="341.98" y1="530.45" x2="336.67" y2="529.47" stroke="#7fb6dd" stroke-width="0.45" stroke-opacity="0.8"/>
<line x1="341.77" y1="531.54" x2="336.47" y2="530.51" stroke="#7fb6dd" stroke-width="0.45" stroke-opacity="0.8"/>
<line x1="341.56" y1="532.62" x2="336.26" y2="531.56" stroke="#7fb6dd" stroke-width="0.45" stroke-opacity="0.8"/>
<line x1="341.34" y1="533.7" x2="336.05" y2="532.6" stroke="#7fb6dd" stroke-width="0.45" stroke-opacity="0.8"/>
<line x1="341.11" y1="534.78" x2="335.83" y2="533.64" stroke="#7fb6dd" stroke-width="0.45" stroke-opacity="0.8"/>
<line x1="340.62" y1="536.93" x2="335.36" y2="535.71" stroke="#7fb6dd" stroke-width="0.45" stroke-opacity="0.8"/>
<line x1="340.37" y1="538.01" x2="335.12" y2="536.75" stroke="#7fb6dd" stroke-width="0.45" stroke-opacity="0.8"/>
<line x1="339.84" y1="540.15" x2="334.61" y2="538.82" stroke="#7fb6dd" stroke-width="0.45" stroke-opacity="0.8"/>
<line x1="339.57" y1="541.22" x2="334.34" y2="539.84" stroke="#7fb6dd" stroke-width="0.45" stroke-opacity="0.8"/>
<line x1="338.11" y1="546.37" x2="332.94" y2="544.82" stroke="#7fb6dd" stroke-width="0.45" stroke-opacity="0.8"/>
<line x1="337.46" y1="548.48" x2="332.32" y2="546.85" stroke="#7fb6dd" stroke-width="0.45" stroke-opacity="0.8"/>
<line x1="336.43" y1="551.63" x2="331.32" y2="549.88" stroke="#7fb6dd" stroke-width="0.45" stroke-opacity="0.8"/>
<line x1="335.7" y1="553.71" x2="330.62" y2="551.89" stroke="#7fb6dd" stroke-width="0.45" stroke-opacity="0.8"/>
<line x1="335.32" y1="554.75" x2="330.25" y2="552.89" stroke="#7fb6dd" stroke-width="0.45" stroke-opacity="0.8"/>
<line x1="334.55" y1="556.81" x2="329.51" y2="554.88" stroke="#7fb6dd" stroke-width="0.45" stroke-opacity="0.8"/>
<line x1="334.15" y1="557.84" x2="329.12" y2="555.87" stroke="#7fb6dd" stroke-width="0.45" stroke-opacity="0.8"/>
<line x1="333.75" y1="558.87" x2="328.73" y2="556.86" stroke="#7fb6dd" stroke-width="0.45" stroke-opacity="0.8"/>
<line x1="330.48" y1="566.44" x2="325.58" y2="564.16" stroke="#7fb6dd" stroke-width="0.45" stroke-opacity="0.8"/>
<line x1="327.58" y1="572.33" x2="322.79" y2="569.84" stroke="#7fb6dd" stroke-width="0.45" stroke-opacity="0.8"/>
<line x1="324.95" y1="577.18" x2="320.25" y2="574.52" stroke="#7fb6dd" stroke-width="0.45" stroke-opacity="0.8"/>
<line x1="323.85" y1="579.09" x2="319.19" y2="576.36" stroke="#7fb6dd" stroke-width="0.45" stroke-opacity="0.8"/>
<line x1="320.97" y1="583.8" x2="316.42" y2="580.9" stroke="#7fb6dd" stroke-width="0.45" stroke-opacity="0.8"/>
<line x1="320.38" y1="584.73" x2="315.84" y2="581.79" stroke="#7fb6dd" stroke-width="0.45" stroke-opacity="0.8"/>
<line x1="319.17" y1="586.57" x2="314.67" y2="583.57" stroke="#7fb6dd" stroke-width="0.45" stroke-opacity="0.8"/>
<line x1="318.55" y1="587.48" x2="314.08" y2="584.45" stroke="#7fb6dd" stroke-width="0.45" stroke-opacity="0.8"/>
<line x1="317.93" y1="588.4" x2="313.48" y2="585.33" stroke="#7fb6dd" stroke-width="0.45" stroke-opacity="0.8"/>
<line x1="317.3" y1="589.3" x2="312.87" y2="586.21" stroke="#7fb6dd" stroke-width="0.45" stroke-opacity="0.8"/>
<line x1="316.66" y1="590.2" x2="312.26" y2="587.07" stroke="#7fb6dd" stroke-width="0.45" stroke-opacity="0.8"/>
<line x1="313.8" y1="594.1" x2="309.5" y2="590.83" stroke="#7fb6dd" stroke-width="0.45" stroke-opacity="0.8"/>
<line x1="313.13" y1="594.97" x2="308.85" y2="591.67" stroke="#7fb6dd" stroke-width="0.45" stroke-opacity="0.8"/>
<line x1="312.45" y1="595.84" x2="308.2" y2="592.51" stroke="#7fb6dd" stroke-width="0.45" stroke-opacity="0.8"/>
<line x1="311.08" y1="597.57" x2="306.88" y2="594.18" stroke="#7fb6dd" stroke-width="0.45" stroke-opacity="0.8"/>
<line x1="310.38" y1="598.43" x2="306.2" y2="595" stroke="#7fb6dd" stroke-width="0.45" stroke-opacity="0.8"/>
<line x1="309.68" y1="599.28" x2="305.53" y2="595.82" stroke="#7fb6dd" stroke-width="0.45" stroke-opacity="0.8"/>
<line x1="305.33" y1="604.27" x2="301.34" y2="600.64" stroke="#7fb6dd" stroke-width="0.45" stroke-opacity="0.8"/>
<line x1="304.59" y1="605.08" x2="300.62" y2="601.42" stroke="#7fb6dd" stroke-width="0.45" stroke-opacity="0.8"/>
<line x1="303.84" y1="605.89" x2="299.89" y2="602.2" stroke="#7fb6dd" stroke-width="0.45" stroke-opacity="0.8"/>
<line x1="299.77" y1="610.07" x2="295.97" y2="606.23" stroke="#7fb6dd" stroke-width="0.45" stroke-opacity="0.8"/>
<line x1="298.98" y1="610.84" x2="295.21" y2="606.97" stroke="#7fb6dd" stroke-width="0.45" stroke-opacity="0.8"/>
<line x1="298.19" y1="611.61" x2="294.45" y2="607.71" stroke="#7fb6dd" stroke-width="0.45" stroke-opacity="0.8"/>
<line x1="297.39" y1="612.37" x2="293.68" y2="608.44" stroke="#7fb6dd" stroke-width="0.45" stroke-opacity="0.8"/>
<line x1="296.58" y1="613.12" x2="292.9" y2="609.17" stroke="#7fb6dd" stroke-width="0.45" stroke-opacity="0.8"/>
<line x1="294.96" y1="614.61" x2="291.34" y2="610.61" stroke="#7fb6dd" stroke-width="0.45" stroke-opacity="0.8"/>
<line x1="294.14" y1="615.35" x2="290.54" y2="611.32" stroke="#7fb6dd" stroke-width="0.45" stroke-opacity="0.8"/>
<line x1="293.31" y1="616.08" x2="289.75" y2="612.03" stroke="#7fb6dd" stroke-width="0.45" stroke-opacity="0.8"/>
<line x1="292.48" y1="616.81" x2="288.95" y2="612.72" stroke="#7fb6dd" stroke-width="0.45" stroke-opacity="0.8"/>
<line x1="287.3" y1="621.09" x2="283.95" y2="616.86" stroke="#7fb6dd" stroke-width="0.45" stroke-opacity="0.8"/>
<line x1="284.68" y1="623.12" x2="281.42" y2="618.81" stroke="#7fb6dd" stroke-width="0.45" stroke-opacity="0.8"/>
<line x1="278.7" y1="627.4" x2="275.66" y2="622.94" stroke="#7fb6dd" stroke-width="0.45" stroke-opacity="0.8"/>
<line x1="277.79" y1="628.02" x2="274.78" y2="623.53" stroke="#7fb6dd" stroke-width="0.45" stroke-opacity="0.8"/>
<line x1="276.87" y1="628.63" x2="273.9" y2="624.12" stroke="#7fb6dd" stroke-width="0.45" stroke-opacity="0.8"/>
<line x1="275.02" y1="629.83" x2="272.11" y2="625.28" stroke="#7fb6dd" stroke-width="0.45" stroke-opacity="0.8"/>
<line x1="274.09" y1="630.42" x2="271.21" y2="625.85" stroke="#7fb6dd" stroke-width="0.45" stroke-opacity="0.8"/>
<line x1="273.15" y1="631.01" x2="270.31" y2="626.41" stroke="#7fb6dd" stroke-width="0.45" stroke-opacity="0.8"/>
<line x1="272.21" y1="631.58" x2="269.4" y2="626.97" stroke="#7fb6dd" stroke-width="0.45" stroke-opacity="0.8"/>
<line x1="269.41" y1="633.24" x2="266.7" y2="628.57" stroke="#7fb6dd" stroke-width="0.45" stroke-opacity="0.8"/>
<line x1="268.45" y1="633.79" x2="265.78" y2="629.1" stroke="#7fb6dd" stroke-width="0.45" stroke-opacity="0.8"/>
<line x1="267.49" y1="634.34" x2="264.85" y2="629.62" stroke="#7fb6dd" stroke-width="0.45" stroke-opacity="0.8"/>
<line x1="266.53" y1="634.87" x2="263.92" y2="630.14" stroke="#7fb6dd" stroke-width="0.45" stroke-opacity="0.8"/>
<line x1="265.56" y1="635.4" x2="262.99" y2="630.65" stroke="#7fb6dd" stroke-width="0.45" stroke-opacity="0.8"/>
<line x1="264.59" y1="635.92" x2="262.05" y2="631.15" stroke="#7fb6dd" stroke-width="0.45" stroke-opacity="0.8"/>
<line x1="263.61" y1="636.43" x2="261.11" y2="631.65" stroke="#7fb6dd" stroke-width="0.45" stroke-opacity="0.8"/>
<line x1="260.66" y1="637.93" x2="258.27" y2="633.09" stroke="#7fb6dd" stroke-width="0.45" stroke-opacity="0.8"/>
<line x1="259.67" y1="638.42" x2="257.31" y2="633.56" stroke="#7fb6dd" stroke-width="0.45" stroke-opacity="0.8"/>
<line x1="258.67" y1="638.9" x2="256.35" y2="634.02" stroke="#7fb6dd" stroke-width="0.45" stroke-opacity="0.8"/>
<line x1="257.68" y1="639.37" x2="255.39" y2="634.47" stroke="#7fb6dd" stroke-width="0.45" stroke-opacity="0.8"/>
<line x1="256.67" y1="639.83" x2="254.43" y2="634.92" stroke="#7fb6dd" stroke-width="0.45" stroke-opacity="0.8"/>
<line x1="253.65" y1="641.17" x2="251.51" y2="636.22" stroke="#7fb6dd" stroke-width="0.45" stroke-opacity="0.8"/>
<line x1="252.64" y1="641.61" x2="250.53" y2="636.63" stroke="#7fb6dd" stroke-width="0.45" stroke-opacity="0.8"/>
<line x1="251.62" y1="642.03" x2="249.55" y2="637.05" stroke="#7fb6dd" stroke-width="0.45" stroke-opacity="0.8"/>
<line x1="250.6" y1="642.45" x2="248.57" y2="637.45" stroke="#7fb6dd" stroke-width="0.45" stroke-opacity="0.8"/>
<line x1="249.57" y1="642.86" x2="247.58" y2="637.85" stroke="#7fb6dd" stroke-width="0.45" stroke-opacity="0.8"/>
<line x1="248.55" y1="643.27" x2="246.59" y2="638.23" stroke="#7fb6dd" stroke-width="0.45" stroke-opacity="0.8"/>
<line x1="246.48" y1="644.05" x2="244.6" y2="638.99" stroke="#7fb6dd" stroke-width="0.45" stroke-opacity="0.8"/>
<line x1="245.45" y1="644.43" x2="243.6" y2="639.36" stroke="#7fb6dd" stroke-width="0.45" stroke-opacity="0.8"/>
<line x1="243.37" y1="645.17" x2="241.6" y2="640.07" stroke="#7fb6dd" stroke-width="0.45" stroke-opacity="0.8"/>
<line x1="239.93" y1="646.32" x2="238.28" y2="641.18" stroke="#7fb6dd" stroke-width="0.45" stroke-opacity="0.8"/>
<line x1="238.88" y1="646.65" x2="237.27" y2="641.5" stroke="#7fb6dd" stroke-width="0.45" stroke-opacity="0.8"/>
<line x1="237.83" y1="646.98" x2="236.25" y2="641.81" stroke="#7fb6dd" stroke-width="0.45" stroke-opacity="0.8"/>
<line x1="235.16" y1="647.76" x2="233.68" y2="642.57" stroke="#7fb6dd" stroke-width="0.45" stroke-opacity="0.8"/>
<line x1="230.89" y1="648.91" x2="229.57" y2="643.67" stroke="#7fb6dd" stroke-width="0.45" stroke-opacity="0.8"/>
<line x1="229.82" y1="649.17" x2="228.54" y2="643.93" stroke="#7fb6dd" stroke-width="0.45" stroke-opacity="0.8"/>
<line x1="228.75" y1="649.43" x2="227.5" y2="644.18" stroke="#7fb6dd" stroke-width="0.45" stroke-opacity="0.8"/>
<line x1="226.6" y1="649.93" x2="225.43" y2="644.66" stroke="#7fb6dd" stroke-width="0.45" stroke-opacity="0.8"/>
<line x1="224.44" y1="650.39" x2="223.35" y2="645.1" stroke="#7fb6dd" stroke-width="0.45" stroke-opacity="0.8"/>
<line x1="223.36" y1="650.61" x2="222.31" y2="645.31" stroke="#7fb6dd" stroke-width="0.45" stroke-opacity="0.8"/>
<line x1="211.43" y1="652.49" x2="210.8" y2="647.12" stroke="#b9b0b0" stroke-width="0.45" stroke-opacity="0.8"/>
<line x1="210.33" y1="652.61" x2="209.75" y2="647.24" stroke="#b9b0b0" stroke-width="0.45" stroke-opacity="0.8"/>
<line x1="209.24" y1="652.73" x2="208.69" y2="647.35" stroke="#b9b0b0" stroke-width="0.45" stroke-opacity="0.8"/>
<line x1="208.14" y1="652.83" x2="207.63" y2="647.46" stroke="#b9b0b0" stroke-width="0.45" stroke-opacity="0.8"/>
<line x1="207.04" y1="652.93" x2="206.57" y2="647.55" stroke="#b9b0b0" stroke-width="0.45" stroke-opacity="0.8"/>
<line x1="205.94" y1="653.03" x2="205.51" y2="647.64" stroke="#b9b0b0" stroke-width="0.45" stroke-opacity="0.8"/>
<line x1="204.84" y1="653.11" x2="204.45" y2="647.72" stroke="#b9b0b0" stroke-width="0.45" stroke-opacity="0.8"/>
<line x1="196.76" y1="653.47" x2="196.66" y2="648.08" stroke="#b9b0b0" stroke-width="0.45" stroke-opacity="0.8"/>
<line x1="190.4" y1="653.46" x2="190.53" y2="648.06" stroke="#b9b0b0" stroke-width="0.45" stroke-opacity="0.8"/>
<line x1="189.3" y1="653.43" x2="189.47" y2="648.03" stroke="#b9b0b0" stroke-width="0.45" stroke-opacity="0.8"/>
<line x1="188.2" y1="653.39" x2="188.4" y2="647.99" stroke="#b9b0b0" stroke-width="0.45" stroke-opacity="0.8"/>
<line x1="187.09" y1="653.34" x2="187.34" y2="647.95" stroke="#b9b0b0" stroke-width="0.45" stroke-opacity="0.8"/>
<line x1="185.99" y1="653.29" x2="186.28" y2="647.89" stroke="#b9b0b0" stroke-width="0.45" stroke-opacity="0.8"/>
<line x1="181.59" y1="652.99" x2="182.04" y2="647.61" stroke="#b9b0b0" stroke-width="0.45" stroke-opacity="0.8"/>
<line x1="178.29" y1="652.68" x2="178.86" y2="647.31" stroke="#b9b0b0" stroke-width="0.45" stroke-opacity="0.8"/>
<line x1="172.82" y1="652" x2="173.58" y2="646.66" stroke="#b9b0b0" stroke-width="0.45" stroke-opacity="0.8"/>
<line x1="169.6" y1="651.51" x2="170.48" y2="646.18" stroke="#b9b0b0" stroke-width="0.45" stroke-opacity="0.8"/>
<line x1="167.43" y1="651.14" x2="168.38" y2="645.82" stroke="#b9b0b0" stroke-width="0.45" stroke-opacity="0.8"/>
<line x1="164.18" y1="650.52" x2="165.25" y2="645.22" stroke="#b9b0b0" stroke-width="0.45" stroke-opacity="0.8"/>
<line x1="163.09" y1="650.29" x2="164.2" y2="645.01" stroke="#b9b0b0" stroke-width="0.45" stroke-opacity="0.8"/>
<line x1="159.86" y1="649.58" x2="161.09" y2="644.32" stroke="#b9b0b0" stroke-width="0.45" stroke-opacity="0.8"/>
<line x1="158.79" y1="649.32" x2="160.05" y2="644.07" stroke="#b9b0b0" stroke-width="0.45" stroke-opacity="0.8"/>
<line x1="155.73" y1="648.55" x2="157.11" y2="643.33" stroke="#b9b0b0" stroke-width="0.45" stroke-opacity="0.8"/>
<line x1="152.54" y1="647.68" x2="154.03" y2="642.49" stroke="#b9b0b0" stroke-width="0.45" stroke-opacity="0.8"/>
<line x1="148.32" y1="646.4" x2="149.96" y2="641.25" stroke="#7fb6dd" stroke-width="0.45" stroke-opacity="0.8"/>
<line x1="147.27" y1="646.06" x2="148.94" y2="640.93" stroke="#7fb6dd" stroke-width="0.45" stroke-opacity="0.8"/>
<line x1="146.22" y1="645.71" x2="147.94" y2="640.59" stroke="#7fb6dd" stroke-width="0.45" stroke-opacity="0.8"/>
<line x1="145.18" y1="645.36" x2="146.93" y2="640.25" stroke="#7fb6dd" stroke-width="0.45" stroke-opacity="0.8"/>
<line x1="142.06" y1="644.25" x2="143.92" y2="639.18" stroke="#7fb6dd" stroke-width="0.45" stroke-opacity="0.8"/>
<line x1="139.99" y1="643.48" x2="141.93" y2="638.44" stroke="#7fb6dd" stroke-width="0.45" stroke-opacity="0.8"/>
<line x1="136.92" y1="642.25" x2="138.96" y2="637.26" stroke="#7fb6dd" stroke-width="0.45" stroke-opacity="0.8"/>
<line x1="135.9" y1="641.83" x2="137.98" y2="636.85" stroke="#7fb6dd" stroke-width="0.45" stroke-opacity="0.8"/>
<line x1="134.88" y1="641.4" x2="137" y2="636.44" stroke="#b9b0b0" stroke-width="0.45" stroke-opacity="0.8"/>
<line x1="133.87" y1="640.97" x2="136.03" y2="636.01" stroke="#b9b0b0" stroke-width="0.45" stroke-opacity="0.8"/>
<line x1="130.09" y1="639.25" x2="132.38" y2="634.37" stroke="#b9b0b0" stroke-width="0.45" stroke-opacity="0.8"/>
<line x1="129.09" y1="638.78" x2="131.42" y2="633.91" stroke="#b9b0b0" stroke-width="0.45" stroke-opacity="0.8"/>
<line x1="128.1" y1="638.3" x2="130.46" y2="633.45" stroke="#b9b0b0" stroke-width="0.45" stroke-opacity="0.8"/>
<line x1="126.12" y1="637.32" x2="128.56" y2="632.5" stroke="#b9b0b0" stroke-width="0.45" stroke-opacity="0.8"/>
<line x1="125.14" y1="636.82" x2="127.61" y2="632.02" stroke="#b9b0b0" stroke-width="0.45" stroke-opacity="0.8"/>
<line x1="122.21" y1="635.27" x2="124.79" y2="630.53" stroke="#b9b0b0" stroke-width="0.45" stroke-opacity="0.8"/>
<line x1="120.28" y1="634.21" x2="122.92" y2="629.5" stroke="#b9b0b0" stroke-width="0.45" stroke-opacity="0.8"/>
<line x1="119.32" y1="633.66" x2="122" y2="628.98" stroke="#b9b0b0" stroke-width="0.45" stroke-opacity="0.8"/>
<line x1="118.36" y1="633.11" x2="121.08" y2="628.44" stroke="#b9b0b0" stroke-width="0.45" stroke-opacity="0.8"/>
<line x1="117.41" y1="632.56" x2="120.16" y2="627.91" stroke="#b9b0b0" stroke-width="0.45" stroke-opacity="0.8"/>
<line x1="116.46" y1="631.99" x2="119.25" y2="627.36" stroke="#b9b0b0" stroke-width="0.45" stroke-opacity="0.8"/>
<line x1="115.52" y1="631.42" x2="118.34" y2="626.81" stroke="#b9b0b0" stroke-width="0.45" stroke-opacity="0.8"/>
<line x1="114.58" y1="630.84" x2="117.43" y2="626.25" stroke="#b9b0b0" stroke-width="0.45" stroke-opacity="0.8"/>
<line x1="110.82" y1="628.43" x2="113.81" y2="623.93" stroke="#b9b0b0" stroke-width="0.45" stroke-opacity="0.8"/>
<line x1="109.91" y1="627.81" x2="112.92" y2="623.34" stroke="#b9b0b0" stroke-width="0.45" stroke-opacity="0.8"/>
<line x1="105.6" y1="624.8" x2="108.77" y2="620.43" stroke="#b9b0b0" stroke-width="0.45" stroke-opacity="0.8"/>
<line x1="104.71" y1="624.15" x2="107.92" y2="619.81" stroke="#b9b0b0" stroke-width="0.45" stroke-opacity="0.8"/>
<line x1="102.07" y1="622.16" x2="105.37" y2="617.88" stroke="#b9b0b0" stroke-width="0.45" stroke-opacity="0.8"/>
<line x1="100.33" y1="620.8" x2="103.69" y2="616.57" stroke="#b9b0b0" stroke-width="0.45" stroke-opacity="0.8"/>
<line x1="99.47" y1="620.11" x2="102.86" y2="615.91" stroke="#b9b0b0" stroke-width="0.45" stroke-opacity="0.8"/>
<line x1="97.76" y1="618.71" x2="101.22" y2="614.56" stroke="#b9b0b0" stroke-width="0.45" stroke-opacity="0.8"/>
<line x1="94.41" y1="615.84" x2="97.99" y2="611.79" stroke="#b9b0b0" stroke-width="0.45" stroke-opacity="0.8"/>
<line x1="92.77" y1="614.37" x2="96.4" y2="610.37" stroke="#b9b0b0" stroke-width="0.45" stroke-opacity="0.8"/>
<line x1="91.96" y1="613.62" x2="95.62" y2="609.65" stroke="#b9b0b0" stroke-width="0.45" stroke-opacity="0.8"/>
<line x1="90.35" y1="612.11" x2="94.06" y2="608.2" stroke="#b9b0b0" stroke-width="0.45" stroke-opacity="0.8"/>
<line x1="89.55" y1="611.35" x2="93.3" y2="607.46" stroke="#b9b0b0" stroke-width="0.45" stroke-opacity="0.8"/>
<line x1="88.76" y1="610.58" x2="92.53" y2="606.72" stroke="#b9b0b0" stroke-width="0.45" stroke-opacity="0.8"/>
<line x1="84.89" y1="606.65" x2="88.8" y2="602.94" stroke="#b9b0b0" stroke-width="0.45" stroke-opacity="0.8"/>
<line x1="81.89" y1="603.41" x2="85.92" y2="599.81" stroke="#b9b0b0" stroke-width="0.45" stroke-opacity="0.8"/>
<line x1="79.51" y1="600.68" x2="83.62" y2="597.18" stroke="#b9b0b0" stroke-width="0.45" stroke-opacity="0.8"/>
<line x1="78.79" y1="599.84" x2="82.93" y2="596.37" stroke="#b9b0b0" stroke-width="0.45" stroke-opacity="0.8"/>
<line x1="78.09" y1="598.99" x2="82.25" y2="595.55" stroke="#b9b0b0" stroke-width="0.45" stroke-opacity="0.8"/>
<line x1="77.39" y1="598.14" x2="81.57" y2="594.73" stroke="#b9b0b0" stroke-width="0.45" stroke-opacity="0.8"/>
<line x1="76.69" y1="597.28" x2="80.9" y2="593.9" stroke="#b9b0b0" stroke-width="0.45" stroke-opacity="0.8"/>
<line x1="73.98" y1="593.8" x2="78.29" y2="590.55" stroke="#b9b0b0" stroke-width="0.45" stroke-opacity="0.8"/>
<line x1="72.01" y1="591.14" x2="76.39" y2="587.98" stroke="#b9b0b0" stroke-width="0.45" stroke-opacity="0.8"/>
<line x1="70.1" y1="588.44" x2="74.55" y2="585.37" stroke="#b9b0b0" stroke-width="0.45" stroke-opacity="0.8"/>
<line x1="68.86" y1="586.61" x2="73.35" y2="583.61" stroke="#b9b0b0" stroke-width="0.45" stroke-opacity="0.8"/>
<line x1="68.25" y1="585.69" x2="72.77" y2="582.73" stroke="#b9b0b0" stroke-width="0.45" stroke-opacity="0.8"/>
<line x1="66.47" y1="582.91" x2="71.04" y2="580.04" stroke="#b9b0b0" stroke-width="0.45" stroke-opacity="0.8"/>
<line x1="65.88" y1="581.97" x2="70.48" y2="579.14" stroke="#b9b0b0" stroke-width="0.45" stroke-opacity="0.8"/>
<line x1="65.31" y1="581.03" x2="69.93" y2="578.23" stroke="#b9b0b0" stroke-width="0.45" stroke-opacity="0.8"/>
<line x1="64.74" y1="580.09" x2="69.38" y2="577.32" stroke="#b9b0b0" stroke-width="0.45" stroke-opacity="0.8"/>
<line x1="62.84" y1="576.81" x2="67.55" y2="574.16" stroke="#b9b0b0" stroke-width="0.45" stroke-opacity="0.8"/>
<line x1="62.31" y1="575.85" x2="67.03" y2="573.24" stroke="#b9b0b0" stroke-width="0.45" stroke-opacity="0.8"/>
<line x1="61.25" y1="573.91" x2="66.02" y2="571.37" stroke="#7fb6dd" stroke-width="0.45" stroke-opacity="0.8"/>
<line x1="60.23" y1="571.96" x2="65.03" y2="569.48" stroke="#7fb6dd" stroke-width="0.45" stroke-opacity="0.8"/>
<line x1="59.73" y1="570.97" x2="64.54" y2="568.54" stroke="#7fb6dd" stroke-width="0.45" stroke-opacity="0.8"/>
<line x1="59.23" y1="569.99" x2="64.07" y2="567.58" stroke="#b9b0b0" stroke-width="0.45" stroke-opacity="0.8"/>
<line x1="58.26" y1="568.01" x2="63.13" y2="565.67" stroke="#b9b0b0" stroke-width="0.45" stroke-opacity="0.8"/>
<line x1="57.79" y1="567.01" x2="62.68" y2="564.71" stroke="#b9b0b0" stroke-width="0.45" stroke-opacity="0.8"/>
<line x1="55.97" y1="562.99" x2="60.92" y2="560.84" stroke="#b9b0b0" stroke-width="0.45" stroke-opacity="0.8"/>
<line x1="55.54" y1="561.97" x2="60.5" y2="559.86" stroke="#b9b0b0" stroke-width="0.45" stroke-opacity="0.8"/>
<line x1="55.11" y1="560.96" x2="60.09" y2="558.88" stroke="#b9b0b0" stroke-width="0.45" stroke-opacity="0.8"/>
<line x1="54.27" y1="558.92" x2="59.29" y2="556.91" stroke="#b9b0b0" stroke-width="0.45" stroke-opacity="0.8"/>
<line x1="53.87" y1="557.89" x2="58.89" y2="555.92" stroke="#b9b0b0" stroke-width="0.45" stroke-opacity="0.8"/>
<line x1="53.47" y1="556.86" x2="58.51" y2="554.93" stroke="#b9b0b0" stroke-width="0.45" stroke-opacity="0.8"/>
<line x1="52.32" y1="553.76" x2="57.4" y2="551.94" stroke="#b9b0b0" stroke-width="0.45" stroke-opacity="0.8"/>
<line x1="51.95" y1="552.72" x2="57.05" y2="550.93" stroke="#b9b0b0" stroke-width="0.45" stroke-opacity="0.8"/>
<line x1="49.14" y1="543.8" x2="54.33" y2="542.34" stroke="#b9b0b0" stroke-width="0.45" stroke-opacity="0.8"/>
<line x1="48.84" y1="542.74" x2="54.05" y2="541.31" stroke="#b9b0b0" stroke-width="0.45" stroke-opacity="0.8"/>
<line x1="48.27" y1="540.61" x2="53.5" y2="539.26" stroke="#b9b0b0" stroke-width="0.45" stroke-opacity="0.8"/>
<line x1="48" y1="539.54" x2="53.24" y2="538.23" stroke="#b9b0b0" stroke-width="0.45" stroke-opacity="0.8"/>
<line x1="46.99" y1="535.24" x2="52.27" y2="534.08" stroke="#b9b0b0" stroke-width="0.45" stroke-opacity="0.8"/>
<line x1="46.54" y1="533.08" x2="51.83" y2="532" stroke="#b9b0b0" stroke-width="0.45" stroke-opacity="0.8"/>
<line x1="46.11" y1="530.92" x2="51.42" y2="529.92" stroke="#b9b0b0" stroke-width="0.45" stroke-opacity="0.8"/>
<line x1="45.91" y1="529.83" x2="51.22" y2="528.87" stroke="#b9b0b0" stroke-width="0.45" stroke-opacity="0.8"/>
<line x1="45.36" y1="526.57" x2="50.69" y2="525.72" stroke="#b9b0b0" stroke-width="0.45" stroke-opacity="0.8"/>
<line x1="45.19" y1="525.48" x2="50.53" y2="524.67" stroke="#b9b0b0" stroke-width="0.45" stroke-opacity="0.8"/>
<line x1="45.03" y1="524.39" x2="50.37" y2="523.62" stroke="#b9b0b0" stroke-width="0.45" stroke-opacity="0.8"/>
<line x1="44.87" y1="523.3" x2="50.23" y2="522.57" stroke="#b9b0b0" stroke-width="0.45" stroke-opacity="0.8"/>
<line x1="44.46" y1="519.96" x2="49.82" y2="519.35" stroke="#b9b0b0" stroke-width="0.45" stroke-opacity="0.8"/>
<line x1="44.34" y1="518.86" x2="49.71" y2="518.29" stroke="#b9b0b0" stroke-width="0.45" stroke-opacity="0.8"/>
<line x1="44.23" y1="517.76" x2="49.6" y2="517.23" stroke="#b9b0b0" stroke-width="0.45" stroke-opacity="0.8"/>
<line x1="44.12" y1="516.67" x2="49.5" y2="516.18" stroke="#b9b0b0" stroke-width="0.45" stroke-opacity="0.8"/>
<line x1="44.03" y1="515.57" x2="49.41" y2="515.12" stroke="#b9b0b0" stroke-width="0.45" stroke-opacity="0.8"/>
<line x1="43.94" y1="514.47" x2="49.32" y2="514.06" stroke="#b9b0b0" stroke-width="0.45" stroke-opacity="0.8"/>
<line x1="43.79" y1="512.27" x2="49.18" y2="511.93" stroke="#b9b0b0" stroke-width="0.45" stroke-opacity="0.8"/>
<line x1="43.72" y1="511.17" x2="49.11" y2="510.87" stroke="#b9b0b0" stroke-width="0.45" stroke-opacity="0.8"/>
<line x1="43.67" y1="510.06" x2="49.06" y2="509.81" stroke="#b9b0b0" stroke-width="0.45" stroke-opacity="0.8"/>
<line x1="43.62" y1="508.96" x2="49.01" y2="508.75" stroke="#b9b0b0" stroke-width="0.45" stroke-opacity="0.8"/>
<line x1="43.58" y1="507.86" x2="48.98" y2="507.68" stroke="#b9b0b0" stroke-width="0.45" stroke-opacity="0.8"/>
<line x1="43.55" y1="506.76" x2="48.95" y2="506.62" stroke="#b9b0b0" stroke-width="0.45" stroke-opacity="0.8"/>
<line x1="43.52" y1="505.65" x2="48.92" y2="505.56" stroke="#b9b0b0" stroke-width="0.45" stroke-opacity="0.8"/>
<line x1="196.97" y1="352.53" x2="196.86" y2="357.93" stroke="#4f9fd4" stroke-width="0.45" stroke-opacity="0.7"/>
<line x1="200.91" y1="352.66" x2="200.66" y2="358.05" stroke="#4f9fd4" stroke-width="0.45" stroke-opacity="0.7"/>
<line x1="223.31" y1="355.38" x2="222.26" y2="360.68" stroke="#4f9fd4" stroke-width="0.45" stroke-opacity="0.7"/>
<line x1="224.6" y1="355.64" x2="223.5" y2="360.93" stroke="#4f9fd4" stroke-width="0.45" stroke-opacity="0.7"/>
<line x1="225.88" y1="355.92" x2="224.74" y2="361.19" stroke="#4f9fd4" stroke-width="0.45" stroke-opacity="0.7"/>
<line x1="229.72" y1="356.8" x2="228.44" y2="362.05" stroke="#4f9fd4" stroke-width="0.45" stroke-opacity="0.7"/>
<line x1="231" y1="357.12" x2="229.67" y2="362.35" stroke="#4f9fd4" stroke-width="0.45" stroke-opacity="0.7"/>
<line x1="237.32" y1="358.87" x2="235.77" y2="364.04" stroke="#4f9fd4" stroke-width="0.45" stroke-opacity="0.7"/>
<line x1="241.08" y1="360.05" x2="239.39" y2="365.18" stroke="#4f9fd4" stroke-width="0.45" stroke-opacity="0.7"/>
<line x1="248.5" y1="362.71" x2="246.54" y2="367.75" stroke="#4f9fd4" stroke-width="0.45" stroke-opacity="0.7"/>
<line x1="256" y1="365.87" x2="253.78" y2="370.79" stroke="#4f9fd4" stroke-width="0.45" stroke-opacity="0.7"/>
<line x1="260.75" y1="368.11" x2="258.36" y2="372.95" stroke="#4f9fd4" stroke-width="0.45" stroke-opacity="0.7"/>
<line x1="263.1" y1="369.3" x2="260.62" y2="374.1" stroke="#4f9fd4" stroke-width="0.45" stroke-opacity="0.7"/>
<line x1="265.42" y1="370.53" x2="262.86" y2="375.28" stroke="#4f9fd4" stroke-width="0.45" stroke-opacity="0.7"/>
<line x1="267.72" y1="371.79" x2="265.08" y2="376.5" stroke="#4f9fd4" stroke-width="0.45" stroke-opacity="0.7"/>
<line x1="268.86" y1="372.44" x2="266.18" y2="377.13" stroke="#4f9fd4" stroke-width="0.45" stroke-opacity="0.7"/>
<line x1="271.13" y1="373.77" x2="268.36" y2="378.4" stroke="#4f9fd4" stroke-width="0.45" stroke-opacity="0.7"/>
<line x1="284.22" y1="382.54" x2="280.98" y2="386.86" stroke="#4f9fd4" stroke-width="0.45" stroke-opacity="0.7"/>
<line x1="287.34" y1="384.94" x2="283.99" y2="389.18" stroke="#4f9fd4" stroke-width="0.45" stroke-opacity="0.7"/>
<line x1="293.39" y1="389.99" x2="289.82" y2="394.04" stroke="#4f9fd4" stroke-width="0.45" stroke-opacity="0.7"/>
<line x1="305.01" y1="401.38" x2="301.03" y2="405.03" stroke="#4f9fd4" stroke-width="0.45" stroke-opacity="0.7"/>
<line x1="305.9" y1="402.35" x2="301.88" y2="405.97" stroke="#4f9fd4" stroke-width="0.45" stroke-opacity="0.7"/>
<line x1="306.77" y1="403.33" x2="302.72" y2="406.91" stroke="#4f9fd4" stroke-width="0.45" stroke-opacity="0.7"/>
<line x1="308.49" y1="405.32" x2="304.38" y2="408.82" stroke="#4f9fd4" stroke-width="0.45" stroke-opacity="0.7"/>
<line x1="315.49" y1="414.18" x2="311.13" y2="417.36" stroke="#4f9fd4" stroke-width="0.45" stroke-opacity="0.7"/>
<line x1="319.98" y1="420.66" x2="315.46" y2="423.61" stroke="#4f9fd4" stroke-width="0.45" stroke-opacity="0.7"/>
<line x1="322.09" y1="423.98" x2="317.49" y2="426.82" stroke="#4f9fd4" stroke-width="0.45" stroke-opacity="0.7"/>
<line x1="324.11" y1="427.36" x2="319.44" y2="430.08" stroke="#4f9fd4" stroke-width="0.45" stroke-opacity="0.7"/>
<line x1="331.41" y1="441.62" x2="326.48" y2="443.82" stroke="#4f9fd4" stroke-width="0.45" stroke-opacity="0.7"/>
<line x1="331.94" y1="442.82" x2="326.99" y2="444.98" stroke="#4f9fd4" stroke-width="0.45" stroke-opacity="0.7"/>
<line x1="334.44" y1="448.89" x2="329.4" y2="450.84" stroke="#4f9fd4" stroke-width="0.45" stroke-opacity="0.7"/>
<line x1="334.9" y1="450.12" x2="329.85" y2="452.02" stroke="#4f9fd4" stroke-width="0.45" stroke-opacity="0.7"/>
<line x1="339.19" y1="463.36" x2="333.98" y2="464.79" stroke="#4f9fd4" stroke-width="0.45" stroke-opacity="0.7"/>
<line x1="339.86" y1="465.9" x2="334.62" y2="467.23" stroke="#4f9fd4" stroke-width="0.45" stroke-opacity="0.7"/>
<line x1="340.78" y1="469.73" x2="335.51" y2="470.93" stroke="#4f9fd4" stroke-width="0.45" stroke-opacity="0.7"/>
<line x1="342.32" y1="477.46" x2="337" y2="478.38" stroke="#4f9fd4" stroke-width="0.45" stroke-opacity="0.7"/>
<line x1="342.74" y1="480.05" x2="337.4" y2="480.88" stroke="#4f9fd4" stroke-width="0.45" stroke-opacity="0.7"/>
<line x1="343.12" y1="482.65" x2="337.77" y2="483.38" stroke="#4f9fd4" stroke-width="0.45" stroke-opacity="0.7"/>
<line x1="343.6" y1="486.56" x2="338.23" y2="487.15" stroke="#4f9fd4" stroke-width="0.45" stroke-opacity="0.7"/>
<line x1="43.6" y1="497.41" x2="49" y2="497.61" stroke="#e2643f" stroke-width="0.45" stroke-opacity="0.7"/>
<line x1="43.8" y1="493.47" x2="49.19" y2="493.81" stroke="#e2643f" stroke-width="0.45" stroke-opacity="0.7"/>
<line x1="43.89" y1="492.16" x2="49.28" y2="492.55" stroke="#e2643f" stroke-width="0.45" stroke-opacity="0.7"/>
<line x1="44.36" y1="486.93" x2="49.73" y2="487.51" stroke="#e2643f" stroke-width="0.45" stroke-opacity="0.7"/>
<line x1="45.01" y1="481.72" x2="50.36" y2="482.48" stroke="#e2643f" stroke-width="0.45" stroke-opacity="0.7"/>
<line x1="45.62" y1="477.82" x2="50.94" y2="478.73" stroke="#e2643f" stroke-width="0.45" stroke-opacity="0.7"/>
<line x1="49.65" y1="460.43" x2="54.83" y2="461.96" stroke="#e2643f" stroke-width="0.45" stroke-opacity="0.7"/>
<line x1="50.02" y1="459.17" x2="55.19" y2="460.75" stroke="#e2643f" stroke-width="0.45" stroke-opacity="0.7"/>
<line x1="51.64" y1="454.18" x2="56.75" y2="455.93" stroke="#e2643f" stroke-width="0.45" stroke-opacity="0.7"/>
<line x1="53.81" y1="448.26" x2="58.84" y2="450.22" stroke="#e2643f" stroke-width="0.45" stroke-opacity="0.7"/>
<line x1="59.11" y1="436.25" x2="63.95" y2="438.64" stroke="#e2643f" stroke-width="0.45" stroke-opacity="0.7"/>
<line x1="62.79" y1="429.28" x2="67.5" y2="431.92" stroke="#e2643f" stroke-width="0.45" stroke-opacity="0.7"/>
<line x1="64.1" y1="427" x2="68.76" y2="429.73" stroke="#e2643f" stroke-width="0.45" stroke-opacity="0.7"/>
<line x1="73.22" y1="413.2" x2="77.56" y2="416.43" stroke="#e2643f" stroke-width="0.45" stroke-opacity="0.7"/>
<line x1="74.01" y1="412.15" x2="78.32" y2="415.41" stroke="#e2643f" stroke-width="0.45" stroke-opacity="0.7"/>
<line x1="74.81" y1="411.11" x2="79.09" y2="414.41" stroke="#e2643f" stroke-width="0.45" stroke-opacity="0.7"/>
<line x1="77.25" y1="408.02" x2="81.44" y2="411.43" stroke="#e2643f" stroke-width="0.45" stroke-opacity="0.7"/>
<line x1="80.64" y1="404.01" x2="84.71" y2="407.56" stroke="#e2643f" stroke-width="0.45" stroke-opacity="0.7"/>
<line x1="81.51" y1="403.02" x2="85.54" y2="406.61" stroke="#e2643f" stroke-width="0.45" stroke-opacity="0.7"/>
<line x1="82.39" y1="402.04" x2="86.39" y2="405.66" stroke="#e2643f" stroke-width="0.45" stroke-opacity="0.7"/>
<line x1="84.16" y1="400.11" x2="88.11" y2="403.8" stroke="#e2643f" stroke-width="0.45" stroke-opacity="0.7"/>
<line x1="85.07" y1="399.16" x2="88.98" y2="402.88" stroke="#e2643f" stroke-width="0.45" stroke-opacity="0.7"/>
<line x1="96.92" y1="388" x2="100.4" y2="392.12" stroke="#e2643f" stroke-width="0.45" stroke-opacity="0.7"/>
<line x1="99.96" y1="385.5" x2="103.34" y2="389.71" stroke="#e2643f" stroke-width="0.45" stroke-opacity="0.7"/>
<line x1="104.12" y1="382.29" x2="107.35" y2="386.62" stroke="#e2643f" stroke-width="0.45" stroke-opacity="0.7"/>
<line x1="106.24" y1="380.74" x2="109.39" y2="385.12" stroke="#e2643f" stroke-width="0.45" stroke-opacity="0.7"/>
<line x1="115.21" y1="374.77" x2="118.03" y2="379.37" stroke="#e2643f" stroke-width="0.45" stroke-opacity="0.7"/>
<line x1="116.33" y1="374.09" x2="119.12" y2="378.72" stroke="#e2643f" stroke-width="0.45" stroke-opacity="0.7"/>
<line x1="122.03" y1="370.83" x2="124.61" y2="375.57" stroke="#e2643f" stroke-width="0.45" stroke-opacity="0.7"/>
<line x1="129.04" y1="367.24" x2="131.37" y2="372.11" stroke="#e2643f" stroke-width="0.45" stroke-opacity="0.7"/>
<line x1="130.23" y1="366.68" x2="132.52" y2="371.57" stroke="#e2643f" stroke-width="0.45" stroke-opacity="0.7"/>
<line x1="131.42" y1="366.13" x2="133.67" y2="371.04" stroke="#e2643f" stroke-width="0.45" stroke-opacity="0.7"/>
<line x1="144.58" y1="360.85" x2="146.35" y2="365.95" stroke="#e2643f" stroke-width="0.45" stroke-opacity="0.7"/>
<line x1="147.07" y1="360" x2="148.75" y2="365.14" stroke="#e2643f" stroke-width="0.45" stroke-opacity="0.7"/>
<line x1="152.09" y1="358.45" x2="153.59" y2="363.64" stroke="#e2643f" stroke-width="0.45" stroke-opacity="0.7"/>
<line x1="157.16" y1="357.08" x2="158.48" y2="362.31" stroke="#e2643f" stroke-width="0.45" stroke-opacity="0.7"/>
<line x1="158.43" y1="356.76" x2="159.71" y2="362.01" stroke="#e2643f" stroke-width="0.45" stroke-opacity="0.7"/>
<line x1="163.56" y1="355.61" x2="164.65" y2="360.9" stroke="#e2643f" stroke-width="0.45" stroke-opacity="0.7"/>
<line x1="166.13" y1="355.1" x2="167.13" y2="360.41" stroke="#e2643f" stroke-width="0.45" stroke-opacity="0.7"/>
<line x1="177.82" y1="353.37" x2="178.4" y2="358.74" stroke="#e2643f" stroke-width="0.45" stroke-opacity="0.7"/>
<line x1="179.13" y1="353.24" x2="179.66" y2="358.61" stroke="#e2643f" stroke-width="0.45" stroke-opacity="0.7"/>
<line x1="184.37" y1="352.81" x2="184.71" y2="358.2" stroke="#e2643f" stroke-width="0.45" stroke-opacity="0.7"/>
<path d="M194.93 341 A162.0 162.0 0 0 1 220.1 343.12 L218.55 352.59 A152.4 152.4 0 0 0 194.88 350.6 Z" fill="#0f74ba" stroke="#1a1a1a" stroke-width="0.5"/>
<line x1="194.95" y1="338.8" x2="194.88" y2="350.9" stroke="#1a1a1a" stroke-width="0.7"/>
<path d="M221.94 343.43 A162.0 162.0 0 0 1 254.35 352.66 L250.77 361.57 A152.4 152.4 0 0 0 220.28 352.88 Z" fill="#0f74ba" stroke="#1a1a1a" stroke-width="0.5"/>
<line x1="222.32" y1="341.26" x2="220.23" y2="353.18" stroke="#1a1a1a" stroke-width="0.7"/>
<path d="M256.07 353.36 A162.0 162.0 0 0 1 283.11 367.71 L277.83 375.73 A152.4 152.4 0 0 0 252.39 362.23 Z" fill="#0f74ba" stroke="#1a1a1a" stroke-width="0.5"/>
<line x1="256.92" y1="351.33" x2="252.28" y2="362.51" stroke="#1a1a1a" stroke-width="0.7"/>
<path d="M284.66 368.74 A162.0 162.0 0 0 1 308.69 388.59 L301.89 395.37 A152.4 152.4 0 0 0 279.29 376.7 Z" fill="#0f74ba" stroke="#1a1a1a" stroke-width="0.5"/>
<line x1="285.89" y1="366.92" x2="279.12" y2="376.95" stroke="#1a1a1a" stroke-width="0.7"/>
<path d="M310 389.92 A162.0 162.0 0 0 1 323.16 405.21 L315.5 411.01 A152.4 152.4 0 0 0 303.13 396.62 Z" fill="#0f74ba" stroke="#1a1a1a" stroke-width="0.5"/>
<line x1="311.58" y1="388.38" x2="302.91" y2="396.83" stroke="#1a1a1a" stroke-width="0.7"/>
<path d="M324.28 406.71 A162.0 162.0 0 0 1 338.3 429.38 L329.75 433.74 A152.4 152.4 0 0 0 316.56 412.41 Z" fill="#0f74ba" stroke="#1a1a1a" stroke-width="0.5"/>
<line x1="326.04" y1="405.4" x2="316.31" y2="412.59" stroke="#1a1a1a" stroke-width="0.7"/>
<path d="M339.14 431.05 A162.0 162.0 0 0 1 349.54 457.72 L340.33 460.41 A152.4 152.4 0 0 0 330.54 435.31 Z" fill="#0f74ba" stroke="#1a1a1a" stroke-width="0.5"/>
<line x1="341.11" y1="430.07" x2="330.27" y2="435.44" stroke="#1a1a1a" stroke-width="0.7"/>
<path d="M350.06 459.52 A162.0 162.0 0 0 1 355.38 488.8 L345.81 489.64 A152.4 152.4 0 0 0 340.81 462.09 Z" fill="#0f74ba" stroke="#1a1a1a" stroke-width="0.5"/>
<line x1="352.17" y1="458.93" x2="340.52" y2="462.17" stroke="#1a1a1a" stroke-width="0.7"/>
<path d="M32 502.07 A162.0 162.0 0 0 1 34.7 473.56 L44.14 475.31 A152.4 152.4 0 0 0 41.6 502.12 Z" fill="#cb3414" stroke="#1a1a1a" stroke-width="0.5"/>
<line x1="29.8" y1="502.05" x2="41.9" y2="502.12" stroke="#1a1a1a" stroke-width="0.7"/>
<path d="M35.05 471.73 A162.0 162.0 0 0 1 41.64 447.94 L50.67 451.2 A152.4 152.4 0 0 0 44.47 473.58 Z" fill="#cb3414" stroke="#1a1a1a" stroke-width="0.5"/>
<line x1="32.89" y1="471.3" x2="44.76" y2="473.64" stroke="#1a1a1a" stroke-width="0.7"/>
<path d="M42.29 446.19 A162.0 162.0 0 0 1 57.63 415.55 L65.71 420.73 A152.4 152.4 0 0 0 51.28 449.55 Z" fill="#cb3414" stroke="#1a1a1a" stroke-width="0.5"/>
<line x1="40.23" y1="445.42" x2="51.56" y2="449.66" stroke="#1a1a1a" stroke-width="0.7"/>
<path d="M58.65 413.99 A162.0 162.0 0 0 1 84.28 383.81 L90.79 390.87 A152.4 152.4 0 0 0 66.67 419.26 Z" fill="#cb3414" stroke="#1a1a1a" stroke-width="0.5"/>
<line x1="56.81" y1="412.78" x2="66.92" y2="419.43" stroke="#1a1a1a" stroke-width="0.7"/>
<path d="M85.66 382.55 A162.0 162.0 0 0 1 103.34 368.74 L108.71 376.7 A152.4 152.4 0 0 0 92.08 389.69 Z" fill="#cb3414" stroke="#1a1a1a" stroke-width="0.5"/>
<line x1="84.19" y1="380.92" x2="92.28" y2="389.91" stroke="#1a1a1a" stroke-width="0.7"/>
<path d="M104.89 367.71 A162.0 162.0 0 0 1 130.36 354.02 L134.13 362.85 A152.4 152.4 0 0 0 110.17 375.73 Z" fill="#cb3414" stroke="#1a1a1a" stroke-width="0.5"/>
<line x1="103.68" y1="365.87" x2="110.34" y2="375.98" stroke="#1a1a1a" stroke-width="0.7"/>
<path d="M132.08 353.3 A162.0 162.0 0 0 1 166.9 343.28 L168.51 352.75 A152.4 152.4 0 0 0 135.75 362.17 Z" fill="#cb3414" stroke="#1a1a1a" stroke-width="0.5"/>
<line x1="131.24" y1="351.27" x2="135.87" y2="362.45" stroke="#1a1a1a" stroke-width="0.7"/>
<path d="M168.74 342.98 A162.0 162.0 0 0 1 193.07 341 L193.12 350.6 A152.4 152.4 0 0 0 170.24 352.46 Z" fill="#cb3414" stroke="#1a1a1a" stroke-width="0.5"/>
<line x1="168.4" y1="340.81" x2="170.28" y2="352.76" stroke="#1a1a1a" stroke-width="0.7"/>
<path d="M355.53 490.66 A162.0 162.0 0 0 1 356 503.2 L346.4 503.19 A152.4 152.4 0 0 0 345.96 491.39 Z" fill="#8a1f5c" stroke="#1a1a1a" stroke-width="0.5"/>
<line x1="357.72" y1="490.49" x2="345.66" y2="491.41" stroke="#1a1a1a" stroke-width="0.7"/>
<path d="M355.99 505.06 A162.0 162.0 0 0 1 355.15 519.57 L345.6 518.59 A152.4 152.4 0 0 0 346.39 504.94 Z" fill="#8a1f5c" stroke="#1a1a1a" stroke-width="0.5"/>
<line x1="358.19" y1="505.09" x2="346.09" y2="504.94" stroke="#1a1a1a" stroke-width="0.7"/>
<path d="M354.95 521.42 A162.0 162.0 0 0 1 350.13 546.21 L340.88 543.65 A152.4 152.4 0 0 0 345.41 520.33 Z" fill="#8a1f5c" stroke="#1a1a1a" stroke-width="0.5"/>
<line x1="357.13" y1="521.67" x2="345.11" y2="520.3" stroke="#1a1a1a" stroke-width="0.7"/>
<path d="M349.62 548.01 A162.0 162.0 0 0 1 341.91 569.07 L333.15 565.16 A152.4 152.4 0 0 0 340.4 545.34 Z" fill="#8a1f5c" stroke="#1a1a1a" stroke-width="0.5"/>
<line x1="351.74" y1="548.62" x2="340.11" y2="545.26" stroke="#1a1a1a" stroke-width="0.7"/>
<path d="M341.14 570.77 A162.0 162.0 0 0 1 338.89 575.46 L330.3 571.17 A152.4 152.4 0 0 0 332.42 566.76 Z" fill="#8a1f5c" stroke="#1a1a1a" stroke-width="0.5"/>
<line x1="343.14" y1="571.69" x2="332.15" y2="566.63" stroke="#1a1a1a" stroke-width="0.7"/>
<path d="M338.05 577.13 A162.0 162.0 0 0 1 336.14 580.72 L327.72 576.12 A152.4 152.4 0 0 0 329.51 572.73 Z" fill="#8a1f5c" stroke="#1a1a1a" stroke-width="0.5"/>
<line x1="340" y1="578.13" x2="329.24" y2="572.6" stroke="#1a1a1a" stroke-width="0.7"/>
<path d="M335.23 582.35 A162.0 162.0 0 0 1 325.11 598.15 L317.34 592.51 A152.4 152.4 0 0 0 326.86 577.65 Z" fill="#8a1f5c" stroke="#1a1a1a" stroke-width="0.5"/>
<line x1="337.15" y1="583.43" x2="326.6" y2="577.5" stroke="#1a1a1a" stroke-width="0.7"/>
<path d="M324.01 599.66 A162.0 162.0 0 0 1 317.79 607.5 L310.45 601.31 A152.4 152.4 0 0 0 316.3 593.93 Z" fill="#8a1f5c" stroke="#1a1a1a" stroke-width="0.5"/>
<line x1="325.77" y1="600.97" x2="316.06" y2="593.75" stroke="#1a1a1a" stroke-width="0.7"/>
<path d="M316.58 608.92 A162.0 162.0 0 0 1 310.4 615.68 L303.5 609 A152.4 152.4 0 0 0 309.31 602.64 Z" fill="#8a1f5c" stroke="#1a1a1a" stroke-width="0.5"/>
<line x1="318.24" y1="610.36" x2="309.09" y2="602.45" stroke="#1a1a1a" stroke-width="0.7"/>
<path d="M309.09 617.01 A162.0 162.0 0 0 1 299.06 626.31 L292.83 619.01 A152.4 152.4 0 0 0 302.27 610.25 Z" fill="#8a1f5c" stroke="#1a1a1a" stroke-width="0.5"/>
<line x1="310.65" y1="618.56" x2="302.06" y2="610.04" stroke="#1a1a1a" stroke-width="0.7"/>
<path d="M297.63 627.52 A162.0 162.0 0 0 1 288.14 634.84 L282.56 627.02 A152.4 152.4 0 0 0 291.49 620.14 Z" fill="#8a1f5c" stroke="#1a1a1a" stroke-width="0.5"/>
<line x1="299.04" y1="629.21" x2="291.3" y2="619.91" stroke="#1a1a1a" stroke-width="0.7"/>
<path d="M286.62 635.91 A162.0 162.0 0 0 1 277.27 641.96 L272.33 633.73 A152.4 152.4 0 0 0 281.13 628.04 Z" fill="#8a1f5c" stroke="#1a1a1a" stroke-width="0.5"/>
<line x1="287.88" y1="637.72" x2="280.96" y2="627.79" stroke="#1a1a1a" stroke-width="0.7"/>
<path d="M275.66 642.91 A162.0 162.0 0 0 1 245.75 656.51 L242.69 647.41 A152.4 152.4 0 0 0 270.82 634.62 Z" fill="#8a1f5c" stroke="#1a1a1a" stroke-width="0.5"/>
<line x1="276.77" y1="644.81" x2="270.67" y2="634.36" stroke="#1a1a1a" stroke-width="0.7"/>
<path d="M243.98 657.1 A162.0 162.0 0 0 1 240.63 658.14 L237.87 648.95 A152.4 152.4 0 0 0 241.02 647.97 Z" fill="#8a1f5c" stroke="#1a1a1a" stroke-width="0.5"/>
<line x1="244.66" y1="659.19" x2="240.93" y2="647.68" stroke="#1a1a1a" stroke-width="0.7"/>
<path d="M238.84 658.67 A162.0 162.0 0 0 1 222.49 662.47 L220.8 653.02 A152.4 152.4 0 0 0 236.19 649.44 Z" fill="#8a1f5c" stroke="#1a1a1a" stroke-width="0.5"/>
<line x1="239.45" y1="660.78" x2="236.1" y2="649.16" stroke="#1a1a1a" stroke-width="0.7"/>
<path d="M220.65 662.79 A162.0 162.0 0 0 1 216.35 663.45 L215.03 653.94 A152.4 152.4 0 0 0 219.07 653.32 Z" fill="#8a1f5c" stroke="#1a1a1a" stroke-width="0.5"/>
<line x1="221.02" y1="664.96" x2="219.03" y2="653.03" stroke="#1a1a1a" stroke-width="0.7"/>
<path d="M214.5 663.7 A162.0 162.0 0 0 1 204.54 664.66 L203.91 655.08 A152.4 152.4 0 0 0 213.29 654.17 Z" fill="#8a1f5c" stroke="#1a1a1a" stroke-width="0.5"/>
<line x1="214.78" y1="665.88" x2="213.25" y2="653.88" stroke="#1a1a1a" stroke-width="0.7"/>
<path d="M202.68 664.77 A162.0 162.0 0 0 1 200.59 664.87 L200.2 655.27 A152.4 152.4 0 0 0 202.16 655.18 Z" fill="#8a1f5c" stroke="#1a1a1a" stroke-width="0.5"/>
<line x1="202.79" y1="666.96" x2="202.15" y2="654.88" stroke="#1a1a1a" stroke-width="0.7"/>
<path d="M198.72 664.93 A162.0 162.0 0 0 1 194.93 665 L194.88 655.4 A152.4 152.4 0 0 0 198.44 655.34 Z" fill="#8a1f5c" stroke="#1a1a1a" stroke-width="0.5"/>
<line x1="198.79" y1="667.13" x2="198.43" y2="655.04" stroke="#1a1a1a" stroke-width="0.7"/>
<path d="M193.07 665 A162.0 162.0 0 0 1 170.14 663.23 L171.55 653.74 A152.4 152.4 0 0 0 193.12 655.4 Z" fill="#8a1f5c" stroke="#1a1a1a" stroke-width="0.5"/>
<line x1="193.05" y1="667.2" x2="193.12" y2="655.1" stroke="#1a1a1a" stroke-width="0.7"/>
<path d="M168.29 662.95 A162.0 162.0 0 0 1 155.17 660.28 L157.47 650.96 A152.4 152.4 0 0 0 169.82 653.47 Z" fill="#8a1f5c" stroke="#1a1a1a" stroke-width="0.5"/>
<line x1="167.95" y1="665.12" x2="169.87" y2="653.17" stroke="#1a1a1a" stroke-width="0.7"/>
<path d="M153.36 659.82 A162.0 162.0 0 0 1 127.41 650.68 L131.36 641.93 A152.4 152.4 0 0 0 155.76 650.53 Z" fill="#8a1f5c" stroke="#1a1a1a" stroke-width="0.5"/>
<line x1="152.8" y1="661.95" x2="155.84" y2="650.24" stroke="#1a1a1a" stroke-width="0.7"/>
<path d="M125.72 649.91 A162.0 162.0 0 0 1 107.51 639.98 L112.63 631.86 A152.4 152.4 0 0 0 129.76 641.2 Z" fill="#8a1f5c" stroke="#1a1a1a" stroke-width="0.5"/>
<line x1="124.79" y1="651.9" x2="129.89" y2="640.93" stroke="#1a1a1a" stroke-width="0.7"/>
<path d="M105.93 638.97 A162.0 162.0 0 0 1 102.78 636.88 L108.18 628.94 A152.4 152.4 0 0 0 111.15 630.91 Z" fill="#8a1f5c" stroke="#1a1a1a" stroke-width="0.5"/>
<line x1="104.74" y1="640.82" x2="111.32" y2="630.66" stroke="#1a1a1a" stroke-width="0.7"/>
<path d="M101.24 635.82 A162.0 162.0 0 0 1 72.35 609.98 L79.56 603.64 A152.4 152.4 0 0 0 106.74 627.95 Z" fill="#8a1f5c" stroke="#1a1a1a" stroke-width="0.5"/>
<line x1="99.98" y1="637.62" x2="106.91" y2="627.7" stroke="#1a1a1a" stroke-width="0.7"/>
<path d="M71.13 608.58 A162.0 162.0 0 0 1 54.03 584.56 L62.32 579.73 A152.4 152.4 0 0 0 78.41 602.32 Z" fill="#8a1f5c" stroke="#1a1a1a" stroke-width="0.5"/>
<line x1="69.46" y1="610.01" x2="78.64" y2="602.12" stroke="#1a1a1a" stroke-width="0.7"/>
<path d="M53.1 582.94 A162.0 162.0 0 0 1 40.67 555.29 L49.76 552.19 A152.4 152.4 0 0 0 61.45 578.21 Z" fill="#8a1f5c" stroke="#1a1a1a" stroke-width="0.5"/>
<line x1="51.19" y1="584.03" x2="61.71" y2="578.06" stroke="#1a1a1a" stroke-width="0.7"/>
<path d="M40.08 553.52 A162.0 162.0 0 0 1 39.44 551.53 L48.6 548.65 A152.4 152.4 0 0 0 49.2 550.52 Z" fill="#8a1f5c" stroke="#1a1a1a" stroke-width="0.5"/>
<line x1="37.99" y1="554.2" x2="49.48" y2="550.43" stroke="#1a1a1a" stroke-width="0.7"/>
<path d="M38.89 549.74 A162.0 162.0 0 0 1 33.32 523.67 L42.85 522.44 A152.4 152.4 0 0 0 48.08 546.97 Z" fill="#8a1f5c" stroke="#1a1a1a" stroke-width="0.5"/>
<line x1="36.78" y1="550.38" x2="48.37" y2="546.89" stroke="#1a1a1a" stroke-width="0.7"/>
<path d="M33.1 521.82 A162.0 162.0 0 0 1 32 503.93 L41.6 503.88 A152.4 152.4 0 0 0 42.63 520.7 Z" fill="#8a1f5c" stroke="#1a1a1a" stroke-width="0.5"/>
<line x1="30.91" y1="522.07" x2="42.93" y2="520.67" stroke="#1a1a1a" stroke-width="0.7"/>
<path d="M194 340.8L194 339.3M197.54 340.84L197.57 339.34M201.08 340.95L201.14 339.46M204.61 341.15L204.71 339.65M208.14 341.42L208.27 339.92M211.66 341.76L211.82 340.27M215.17 342.19L215.37 340.7M218.67 342.69L218.9 341.21M222.17 343.26L222.43 341.79M225.64 343.92L225.94 342.45M229.11 344.64L229.43 343.18M232.55 345.45L232.91 343.99M235.98 346.33L236.37 344.88M239.39 347.28L239.81 345.84M242.77 348.31L243.23 346.88M246.14 349.41L246.62 347.99M249.48 350.58L249.99 349.17M252.79 351.83L253.33 350.43M256.07 353.15L256.65 351.76M259.33 354.54L259.93 353.16M262.55 356L263.18 354.64M265.74 357.53L266.4 356.18M268.9 359.13L269.59 357.8M272.02 360.79L272.74 359.48M275.1 362.53L275.85 361.23M278.15 364.33L278.92 363.05M281.15 366.2L281.96 364.94M284.11 368.14L284.95 366.89M287.03 370.13L287.89 368.9M289.91 372.19L290.8 370.99M292.74 374.32L293.65 373.13M295.52 376.5L296.46 375.33M298.26 378.75L299.22 377.6M300.95 381.05L301.93 379.92M303.58 383.41L304.59 382.31M306.16 385.83L307.2 384.75M308.69 388.31L309.75 387.25M311.17 390.84L312.25 389.8M313.59 393.42L314.69 392.41M315.95 396.05L317.08 395.07M318.25 398.74L319.4 397.78M320.5 401.48L321.67 400.54M322.68 404.26L323.87 403.35M324.81 407.09L326.01 406.2M326.87 409.97L328.1 409.11M328.86 412.89L330.11 412.05M330.8 415.85L332.06 415.04M332.67 418.85L333.95 418.08M334.47 421.9L335.77 421.15M336.21 424.98L337.52 424.26M337.87 428.1L339.2 427.41M339.47 431.26L340.82 430.6M341 434.45L342.36 433.82M342.46 437.67L343.84 437.07M343.85 440.93L345.24 440.35M345.17 444.21L346.57 443.67M346.42 447.52L347.83 447.01M347.59 450.86L349.01 450.38M348.69 454.23L350.12 453.77M349.72 457.61L351.16 457.19M350.67 461.02L352.12 460.63M351.55 464.45L353.01 464.09M352.36 467.89L353.82 467.57M353.08 471.36L354.55 471.06M353.74 474.83L355.21 474.57M354.31 478.33L355.79 478.1M354.81 481.83L356.3 481.63M355.24 485.34L356.73 485.18M355.58 488.86L357.08 488.73M355.85 492.39L357.35 492.29M356.05 495.92L357.54 495.86M356.16 499.46L357.66 499.43M356.2 503L357.7 503M356.16 506.54L357.66 506.57M356.05 510.08L357.54 510.14M355.85 513.61L357.35 513.71M355.58 517.14L357.08 517.27M355.24 520.66L356.73 520.82M354.81 524.17L356.3 524.37M354.31 527.67L355.79 527.9M353.74 531.17L355.21 531.43M353.08 534.64L354.55 534.94M352.36 538.11L353.82 538.43M351.55 541.55L353.01 541.91M350.67 544.98L352.12 545.37M349.72 548.39L351.16 548.81M348.69 551.77L350.12 552.23M347.59 555.14L349.01 555.62M346.42 558.48L347.83 558.99M345.17 561.79L346.57 562.33M343.85 565.07L345.24 565.65M342.46 568.33L343.84 568.93M341 571.55L342.36 572.18M339.47 574.74L340.82 575.4M337.87 577.9L339.2 578.59M336.21 581.02L337.52 581.74M334.47 584.1L335.77 584.85M332.67 587.15L333.95 587.92M330.8 590.15L332.06 590.96M328.86 593.11L330.11 593.95M326.87 596.03L328.1 596.89M324.81 598.91L326.01 599.8M322.68 601.74L323.87 602.65M320.5 604.52L321.67 605.46M318.25 607.26L319.4 608.22M315.95 609.95L317.08 610.93M313.59 612.58L314.69 613.59M311.17 615.16L312.25 616.2M308.69 617.69L309.75 618.75M306.16 620.17L307.2 621.25M303.58 622.59L304.59 623.69M300.95 624.95L301.93 626.08M298.26 627.25L299.22 628.4M295.52 629.5L296.46 630.67M292.74 631.68L293.65 632.87M289.91 633.81L290.8 635.01M287.03 635.87L287.89 637.1M284.11 637.86L284.95 639.11M281.15 639.8L281.96 641.06M278.15 641.67L278.92 642.95M275.1 643.47L275.85 644.77M272.02 645.21L272.74 646.52M268.9 646.87L269.59 648.2M265.74 648.47L266.4 649.82M262.55 650L263.18 651.36M259.33 651.46L259.93 652.84M256.07 652.85L256.65 654.24M252.79 654.17L253.33 655.57M249.48 655.42L249.99 656.83M246.14 656.59L246.62 658.01M242.77 657.69L243.23 659.12M239.39 658.72L239.81 660.16M235.98 659.67L236.37 661.12M232.55 660.55L232.91 662.01M229.11 661.36L229.43 662.82M225.64 662.08L225.94 663.55M222.17 662.74L222.43 664.21M218.67 663.31L218.9 664.79M215.17 663.81L215.37 665.3M211.66 664.24L211.82 665.73M208.14 664.58L208.27 666.08M204.61 664.85L204.71 666.35M201.08 665.05L201.14 666.54M197.54 665.16L197.57 666.66M194 665.2L194 666.7M190.46 665.16L190.43 666.66M186.92 665.05L186.86 666.54M183.39 664.85L183.29 666.35M179.86 664.58L179.73 666.08M176.34 664.24L176.18 665.73M172.83 663.81L172.63 665.3M169.33 663.31L169.1 664.79M165.83 662.74L165.57 664.21M162.36 662.08L162.06 663.55M158.89 661.36L158.57 662.82M155.45 660.55L155.09 662.01M152.02 659.67L151.63 661.12M148.61 658.72L148.19 660.16M145.23 657.69L144.77 659.12M141.86 656.59L141.38 658.01M138.52 655.42L138.01 656.83M135.21 654.17L134.67 655.57M131.93 652.85L131.35 654.24M128.67 651.46L128.07 652.84M125.45 650L124.82 651.36M122.26 648.47L121.6 649.82M119.1 646.87L118.41 648.2M115.98 645.21L115.26 646.52M112.9 643.47L112.15 644.77M109.85 641.67L109.08 642.95M106.85 639.8L106.04 641.06M103.89 637.86L103.05 639.11M100.97 635.87L100.11 637.1M98.09 633.81L97.2 635.01M95.26 631.68L94.35 632.87M92.48 629.5L91.54 630.67M89.74 627.25L88.78 628.4M87.05 624.95L86.07 626.08M84.42 622.59L83.41 623.69M81.84 620.17L80.8 621.25M79.31 617.69L78.25 618.75M76.83 615.16L75.75 616.2M74.41 612.58L73.31 613.59M72.05 609.95L70.92 610.93M69.75 607.26L68.6 608.22M67.5 604.52L66.33 605.46M65.32 601.74L64.13 602.65M63.19 598.91L61.99 599.8M61.13 596.03L59.9 596.89M59.14 593.11L57.89 593.95M57.2 590.15L55.94 590.96M55.33 587.15L54.05 587.92M53.53 584.1L52.23 584.85M51.79 581.02L50.48 581.74M50.13 577.9L48.8 578.59M48.53 574.74L47.18 575.4M47 571.55L45.64 572.18M45.54 568.33L44.16 568.93M44.15 565.07L42.76 565.65M42.83 561.79L41.43 562.33M41.58 558.48L40.17 558.99M40.41 555.14L38.99 555.62M39.31 551.77L37.88 552.23M38.28 548.39L36.84 548.81M37.33 544.98L35.88 545.37M36.45 541.55L34.99 541.91M35.64 538.11L34.18 538.43M34.92 534.64L33.45 534.94M34.26 531.17L32.79 531.43M33.69 527.67L32.21 527.9M33.19 524.17L31.7 524.37M32.76 520.66L31.27 520.82M32.42 517.14L30.92 517.27M32.15 513.61L30.65 513.71M31.95 510.08L30.46 510.14M31.84 506.54L30.34 506.57M31.8 503L30.3 503M31.84 499.46L30.34 499.43M31.95 495.92L30.46 495.86M32.15 492.39L30.65 492.29M32.42 488.86L30.92 488.73M32.76 485.34L31.27 485.18M33.19 481.83L31.7 481.63M33.69 478.33L32.21 478.1M34.26 474.83L32.79 474.57M34.92 471.36L33.45 471.06M35.64 467.89L34.18 467.57M36.45 464.45L34.99 464.09M37.33 461.02L35.88 460.63M38.28 457.61L36.84 457.19M39.31 454.23L37.88 453.77M40.41 450.86L38.99 450.38M41.58 447.52L40.17 447.01M42.83 444.21L41.43 443.67M44.15 440.93L42.76 440.35M45.54 437.67L44.16 437.07M47 434.45L45.64 433.82M48.53 431.26L47.18 430.6M50.13 428.1L48.8 427.41M51.79 424.98L50.48 424.26M53.53 421.9L52.23 421.15M55.33 418.85L54.05 418.08M57.2 415.85L55.94 415.04M59.14 412.89L57.89 412.05M61.13 409.97L59.9 409.11M63.19 407.09L61.99 406.2M65.32 404.26L64.13 403.35M67.5 401.48L66.33 400.54M69.75 398.74L68.6 397.78M72.05 396.05L70.92 395.07M74.41 393.42L73.31 392.41M76.83 390.84L75.75 389.8M79.31 388.31L78.25 387.25M81.84 385.83L80.8 384.75M84.42 383.41L83.41 382.31M87.05 381.05L86.07 379.92M89.74 378.75L88.78 377.6M92.48 376.5L91.54 375.33M95.26 374.32L94.35 373.13M98.09 372.19L97.2 370.99M100.97 370.13L100.11 368.9M103.89 368.14L103.05 366.89M106.85 366.2L106.04 364.94M109.85 364.33L109.08 363.05M112.9 362.53L112.15 361.23M115.98 360.79L115.26 359.48M119.1 359.13L118.41 357.8M122.26 357.53L121.6 356.18M125.45 356L124.82 354.64M128.67 354.54L128.07 353.16M131.93 353.15L131.35 351.76M135.21 351.83L134.67 350.43M138.52 350.58L138.01 349.17M141.86 349.41L141.38 347.99M145.23 348.31L144.77 346.88M148.61 347.28L148.19 345.84M152.02 346.33L151.63 344.88M155.45 345.45L155.09 343.99M158.89 344.64L158.57 343.18M162.36 343.92L162.06 342.45M165.83 343.26L165.57 341.79M169.33 342.69L169.1 341.21M172.83 342.19L172.63 340.7M176.34 341.76L176.18 340.27M179.86 341.42L179.73 339.92M183.39 341.15L183.29 339.65M186.92 340.95L186.86 339.46M190.46 340.84L190.43 339.34" stroke="#333" stroke-width="0.35" fill="none"/>
<defs><path id="tq" d="M24.77 482.22 A170.5 170.5 0 0 1 191.02 332.53" fill="none"/><path id="ts" d="M202.92 332.73 A170.5 170.5 0 0 1 364.4 497.05" fill="none"/><path id="tl" d="M115.09 664.78 A180.0 180.0 0 0 0 284 658.88" fill="none"/></defs>
<text font-family="Liberation Sans, sans-serif" font-size="14.1" fill="#111" stroke="#111" stroke-width="0.1"><textPath href="#tq" startOffset="21.6"><tspan font-style="italic">A. quadrilineatus</tspan> NRRL 201<tspan font-size="8.2" dy="-5.4">T</tspan></textPath></text>
<text font-family="Liberation Sans, sans-serif" font-size="14.1" fill="#111" stroke="#111" stroke-width="0.1"><textPath href="#ts" startOffset="24.1"><tspan font-style="italic">A. spinulosporus</tspan>&#160;&#160;NRRL 2395<tspan font-size="8.2" dy="-5.4">T</tspan></textPath></text>
<text font-family="Liberation Sans, sans-serif" font-size="13.8" fill="#111" stroke="#111" stroke-width="0.1"><textPath href="#tl" startOffset="50%" text-anchor="middle"><tspan font-style="italic">A. latus</tspan> NRRL 200<tspan font-size="8.2" dy="-5.4">T</tspan></textPath></text>
<line x1="454.2" y1="11.9" x2="512.4" y2="11.9" stroke="#7d7d7d" stroke-width="1" stroke-dasharray="2 1.45"/>
<line x1="454.2" y1="19.87" x2="512.4" y2="19.87" stroke="#7d7d7d" stroke-width="1" stroke-dasharray="2 1.45"/>
<line x1="454.2" y1="27.84" x2="512.4" y2="27.84" stroke="#7d7d7d" stroke-width="1" stroke-dasharray="2 1.45"/>
<line x1="454.2" y1="35.81" x2="512.4" y2="35.81" stroke="#7d7d7d" stroke-width="1" stroke-dasharray="2 1.45"/>
<line x1="454.2" y1="43.78" x2="512.4" y2="43.78" stroke="#7d7d7d" stroke-width="1" stroke-dasharray="2 1.45"/>
<line x1="454.2" y1="51.76" x2="512.4" y2="51.76" stroke="#7d7d7d" stroke-width="1" stroke-dasharray="2 1.45"/>
<line x1="454.2" y1="59.73" x2="512.4" y2="59.73" stroke="#7d7d7d" stroke-width="1" stroke-dasharray="2 1.45"/>
<line x1="454.2" y1="67.7" x2="512.4" y2="67.7" stroke="#7d7d7d" stroke-width="1" stroke-dasharray="2 1.45"/>
<line x1="454.2" y1="75.67" x2="512.4" y2="75.67" stroke="#7d7d7d" stroke-width="1" stroke-dasharray="2 1.45"/>
<line x1="454.2" y1="83.64" x2="512.4" y2="83.64" stroke="#7d7d7d" stroke-width="1" stroke-dasharray="2 1.45"/>
<line x1="454.2" y1="91.61" x2="512.4" y2="91.61" stroke="#7d7d7d" stroke-width="1" stroke-dasharray="2 1.45"/>
<line x1="454.2" y1="99.58" x2="512.4" y2="99.58" stroke="#7d7d7d" stroke-width="1" stroke-dasharray="2 1.45"/>
<line x1="454.2" y1="107.55" x2="512.4" y2="107.55" stroke="#7d7d7d" stroke-width="1" stroke-dasharray="2 1.45"/>
<line x1="454.2" y1="115.52" x2="512.4" y2="115.52" stroke="#7d7d7d" stroke-width="1" stroke-dasharray="2 1.45"/>
<line x1="454.2" y1="123.49" x2="512.4" y2="123.49" stroke="#7d7d7d" stroke-width="1" stroke-dasharray="2 1.45"/>
<line x1="454.2" y1="131.47" x2="512.4" y2="131.47" stroke="#7d7d7d" stroke-width="1" stroke-dasharray="2 1.45"/>
<line x1="498.9" y1="139.44" x2="512.4" y2="139.44" stroke="#7d7d7d" stroke-width="1" stroke-dasharray="2 1.45"/>
<line x1="501.2" y1="147.41" x2="512.4" y2="147.41" stroke="#7d7d7d" stroke-width="1" stroke-dasharray="2 1.45"/>
<line x1="503.2" y1="155.38" x2="512.4" y2="155.38" stroke="#7d7d7d" stroke-width="1" stroke-dasharray="2 1.45"/>
<line x1="503.2" y1="163.35" x2="512.4" y2="163.35" stroke="#7d7d7d" stroke-width="1" stroke-dasharray="2 1.45"/>
<line x1="504.2" y1="171.32" x2="512.4" y2="171.32" stroke="#7d7d7d" stroke-width="1" stroke-dasharray="2 1.45"/>
<line x1="504.8" y1="179.29" x2="512.4" y2="179.29" stroke="#7d7d7d" stroke-width="1" stroke-dasharray="2 1.45"/>
<line x1="504.8" y1="187.26" x2="512.4" y2="187.26" stroke="#7d7d7d" stroke-width="1" stroke-dasharray="2 1.45"/>
<line x1="503.7" y1="195.23" x2="512.4" y2="195.23" stroke="#7d7d7d" stroke-width="1" stroke-dasharray="2 1.45"/>
<line x1="503.2" y1="203.2" x2="512.4" y2="203.2" stroke="#7d7d7d" stroke-width="1" stroke-dasharray="2 1.45"/>
<line x1="454.2" y1="211.18" x2="512.4" y2="211.18" stroke="#7d7d7d" stroke-width="1" stroke-dasharray="2 1.45"/>
<line x1="454.2" y1="219.15" x2="512.4" y2="219.15" stroke="#7d7d7d" stroke-width="1" stroke-dasharray="2 1.45"/>
<line x1="454.2" y1="227.12" x2="512.4" y2="227.12" stroke="#7d7d7d" stroke-width="1" stroke-dasharray="2 1.45"/>
<line x1="454.2" y1="235.09" x2="512.4" y2="235.09" stroke="#7d7d7d" stroke-width="1" stroke-dasharray="2 1.45"/>
<line x1="454.2" y1="243.06" x2="512.4" y2="243.06" stroke="#7d7d7d" stroke-width="1" stroke-dasharray="2 1.45"/>
<line x1="454.2" y1="251.03" x2="512.4" y2="251.03" stroke="#7d7d7d" stroke-width="1" stroke-dasharray="2 1.45"/>
<line x1="454.2" y1="259" x2="512.4" y2="259" stroke="#7d7d7d" stroke-width="1" stroke-dasharray="2 1.45"/>
<line x1="454.2" y1="266.97" x2="512.4" y2="266.97" stroke="#7d7d7d" stroke-width="1" stroke-dasharray="2 1.45"/>
<line x1="454.2" y1="274.94" x2="512.4" y2="274.94" stroke="#7d7d7d" stroke-width="1" stroke-dasharray="2 1.45"/>
<line x1="454.2" y1="282.91" x2="512.4" y2="282.91" stroke="#7d7d7d" stroke-width="1" stroke-dasharray="2 1.45"/>
<line x1="454.2" y1="290.88" x2="512.4" y2="290.88" stroke="#7d7d7d" stroke-width="1" stroke-dasharray="2 1.45"/>
<line x1="454.2" y1="298.86" x2="512.4" y2="298.86" stroke="#7d7d7d" stroke-width="1" stroke-dasharray="2 1.45"/>
<line x1="454.2" y1="306.83" x2="512.4" y2="306.83" stroke="#7d7d7d" stroke-width="1" stroke-dasharray="2 1.45"/>
<line x1="454.2" y1="314.8" x2="512.4" y2="314.8" stroke="#7d7d7d" stroke-width="1" stroke-dasharray="2 1.45"/>
<line x1="454.2" y1="322.77" x2="512.4" y2="322.77" stroke="#7d7d7d" stroke-width="1" stroke-dasharray="2 1.45"/>
<line x1="466.4" y1="330.74" x2="512.4" y2="330.74" stroke="#7d7d7d" stroke-width="1" stroke-dasharray="2 1.45"/>
<line x1="466.4" y1="338.71" x2="512.4" y2="338.71" stroke="#7d7d7d" stroke-width="1" stroke-dasharray="2 1.45"/>
<line x1="466.4" y1="346.68" x2="512.4" y2="346.68" stroke="#7d7d7d" stroke-width="1" stroke-dasharray="2 1.45"/>
<line x1="466.4" y1="354.65" x2="512.4" y2="354.65" stroke="#7d7d7d" stroke-width="1" stroke-dasharray="2 1.45"/>
<line x1="466.4" y1="362.62" x2="512.4" y2="362.62" stroke="#7d7d7d" stroke-width="1" stroke-dasharray="2 1.45"/>
<line x1="466.4" y1="370.59" x2="512.4" y2="370.59" stroke="#7d7d7d" stroke-width="1" stroke-dasharray="2 1.45"/>
<line x1="472.4" y1="378.57" x2="512.4" y2="378.57" stroke="#7d7d7d" stroke-width="1" stroke-dasharray="2 1.45"/>
<line x1="466.4" y1="386.54" x2="512.4" y2="386.54" stroke="#7d7d7d" stroke-width="1" stroke-dasharray="2 1.45"/>
<line x1="466.4" y1="394.51" x2="512.4" y2="394.51" stroke="#7d7d7d" stroke-width="1" stroke-dasharray="2 1.45"/>
<line x1="466.4" y1="402.48" x2="512.4" y2="402.48" stroke="#7d7d7d" stroke-width="1" stroke-dasharray="2 1.45"/>
<line x1="466.4" y1="410.45" x2="512.4" y2="410.45" stroke="#7d7d7d" stroke-width="1" stroke-dasharray="2 1.45"/>
<line x1="466.4" y1="418.42" x2="512.4" y2="418.42" stroke="#7d7d7d" stroke-width="1" stroke-dasharray="2 1.45"/>
<line x1="450.4" y1="426.39" x2="512.4" y2="426.39" stroke="#7d7d7d" stroke-width="1" stroke-dasharray="2 1.45"/>
<line x1="450.4" y1="434.36" x2="512.4" y2="434.36" stroke="#7d7d7d" stroke-width="1" stroke-dasharray="2 1.45"/>
<line x1="451.8" y1="442.33" x2="512.4" y2="442.33" stroke="#7d7d7d" stroke-width="1" stroke-dasharray="2 1.45"/>
<line x1="451.8" y1="450.31" x2="512.4" y2="450.31" stroke="#7d7d7d" stroke-width="1" stroke-dasharray="2 1.45"/>
<line x1="451.8" y1="458.28" x2="512.4" y2="458.28" stroke="#7d7d7d" stroke-width="1" stroke-dasharray="2 1.45"/>
<line x1="451.8" y1="466.25" x2="512.4" y2="466.25" stroke="#7d7d7d" stroke-width="1" stroke-dasharray="2 1.45"/>
<line x1="451.8" y1="474.22" x2="512.4" y2="474.22" stroke="#7d7d7d" stroke-width="1" stroke-dasharray="2 1.45"/>
<line x1="451.8" y1="482.19" x2="512.4" y2="482.19" stroke="#7d7d7d" stroke-width="1" stroke-dasharray="2 1.45"/>
<line x1="493.2" y1="490.16" x2="512.4" y2="490.16" stroke="#7d7d7d" stroke-width="1" stroke-dasharray="2 1.45"/>
<line x1="496.2" y1="498.13" x2="512.4" y2="498.13" stroke="#7d7d7d" stroke-width="1" stroke-dasharray="2 1.45"/>
<line x1="498" y1="506.1" x2="512.4" y2="506.1" stroke="#7d7d7d" stroke-width="1" stroke-dasharray="2 1.45"/>
<line x1="498" y1="514.07" x2="512.4" y2="514.07" stroke="#7d7d7d" stroke-width="1" stroke-dasharray="2 1.45"/>
<line x1="499.8" y1="522.04" x2="512.4" y2="522.04" stroke="#7d7d7d" stroke-width="1" stroke-dasharray="2 1.45"/>
<line x1="498.8" y1="530.01" x2="512.4" y2="530.01" stroke="#7d7d7d" stroke-width="1" stroke-dasharray="2 1.45"/>
<line x1="498.3" y1="537.99" x2="512.4" y2="537.99" stroke="#7d7d7d" stroke-width="1" stroke-dasharray="2 1.45"/>
<line x1="498.6" y1="545.96" x2="512.4" y2="545.96" stroke="#7d7d7d" stroke-width="1" stroke-dasharray="2 1.45"/>
<line x1="498" y1="553.93" x2="512.4" y2="553.93" stroke="#7d7d7d" stroke-width="1" stroke-dasharray="2 1.45"/>
<line x1="451.8" y1="561.9" x2="512.4" y2="561.9" stroke="#7d7d7d" stroke-width="1" stroke-dasharray="2 1.45"/>
<line x1="451.8" y1="569.87" x2="512.4" y2="569.87" stroke="#7d7d7d" stroke-width="1" stroke-dasharray="2 1.45"/>
<line x1="451.8" y1="577.84" x2="512.4" y2="577.84" stroke="#7d7d7d" stroke-width="1" stroke-dasharray="2 1.45"/>
<line x1="451.8" y1="585.81" x2="512.4" y2="585.81" stroke="#7d7d7d" stroke-width="1" stroke-dasharray="2 1.45"/>
<line x1="451.8" y1="593.78" x2="512.4" y2="593.78" stroke="#7d7d7d" stroke-width="1" stroke-dasharray="2 1.45"/>
<line x1="451.8" y1="601.75" x2="512.4" y2="601.75" stroke="#7d7d7d" stroke-width="1" stroke-dasharray="2 1.45"/>
<line x1="451.8" y1="609.73" x2="512.4" y2="609.73" stroke="#7d7d7d" stroke-width="1" stroke-dasharray="2 1.45"/>
<line x1="451.8" y1="617.7" x2="512.4" y2="617.7" stroke="#7d7d7d" stroke-width="1" stroke-dasharray="2 1.45"/>
<line x1="451.8" y1="625.67" x2="512.4" y2="625.67" stroke="#7d7d7d" stroke-width="1" stroke-dasharray="2 1.45"/>
<line x1="451.8" y1="633.64" x2="512.4" y2="633.64" stroke="#7d7d7d" stroke-width="1" stroke-dasharray="2 1.45"/>
<line x1="451.8" y1="641.61" x2="512.4" y2="641.61" stroke="#7d7d7d" stroke-width="1" stroke-dasharray="2 1.45"/>
<line x1="451.8" y1="649.58" x2="512.4" y2="649.58" stroke="#7d7d7d" stroke-width="1" stroke-dasharray="2 1.45"/>
<line x1="451.8" y1="657.55" x2="512.4" y2="657.55" stroke="#7d7d7d" stroke-width="1" stroke-dasharray="2 1.45"/>
<line x1="451.8" y1="665.52" x2="512.4" y2="665.52" stroke="#7d7d7d" stroke-width="1" stroke-dasharray="2 1.45"/>
<line x1="451.8" y1="673.49" x2="512.4" y2="673.49" stroke="#7d7d7d" stroke-width="1" stroke-dasharray="2 1.45"/>
<line x1="451.8" y1="681.46" x2="512.4" y2="681.46" stroke="#7d7d7d" stroke-width="1" stroke-dasharray="2 1.45"/>
<line x1="392.8" y1="43.6" x2="392.8" y2="403.7" stroke="#111" stroke-width="1.3"/>
<line x1="392.8" y1="44.2" x2="453.2" y2="44.2" stroke="#111" stroke-width="1.3"/>
<line x1="453.2" y1="11.4" x2="453.2" y2="323.27" stroke="#111" stroke-width="1.2"/>
<line x1="452.7" y1="11.4" x2="452.7" y2="75.7" stroke="#111" stroke-width="1.8"/>
<line x1="453.2" y1="149.2" x2="497.2" y2="149.2" stroke="#111" stroke-width="1.3"/>
<line x1="497.2" y1="139.04" x2="497.2" y2="158.9" stroke="#111" stroke-width="1.1"/>
<line x1="497.2" y1="139.44" x2="498.9" y2="139.44" stroke="#111" stroke-width="1.1"/>
<line x1="497.2" y1="158.9" x2="499.9" y2="158.9" stroke="#111" stroke-width="1.1"/>
<line x1="499.9" y1="147.01" x2="499.9" y2="170.3" stroke="#111" stroke-width="1.1"/>
<line x1="499.9" y1="147.41" x2="501.2" y2="147.41" stroke="#111" stroke-width="1.1"/>
<line x1="501.9" y1="154.98" x2="501.9" y2="203.6" stroke="#111" stroke-width="1.5"/>
<line x1="501.9" y1="155.38" x2="503.2" y2="155.38" stroke="#111" stroke-width="1.1"/>
<line x1="501.9" y1="163.35" x2="503.2" y2="163.35" stroke="#111" stroke-width="1.1"/>
<line x1="501.9" y1="171.32" x2="504.2" y2="171.32" stroke="#111" stroke-width="1.1"/>
<line x1="501.9" y1="179.29" x2="504.8" y2="179.29" stroke="#111" stroke-width="1.1"/>
<line x1="501.9" y1="187.26" x2="504.8" y2="187.26" stroke="#111" stroke-width="1.1"/>
<line x1="501.9" y1="195.23" x2="503.7" y2="195.23" stroke="#111" stroke-width="1.1"/>
<line x1="501.9" y1="203.2" x2="503.2" y2="203.2" stroke="#111" stroke-width="1.1"/>
<line x1="392.8" y1="403.1" x2="434" y2="403.1" stroke="#111" stroke-width="1.3"/>
<line x1="434" y1="347.4" x2="434" y2="458.3" stroke="#111" stroke-width="1.3"/>
<line x1="434" y1="348" x2="464.3" y2="348" stroke="#111" stroke-width="1.3"/>
<line x1="464.3" y1="330.34" x2="464.3" y2="364.7" stroke="#111" stroke-width="1.8"/>
<line x1="465.5" y1="330.34" x2="465.5" y2="418.82" stroke="#111" stroke-width="1.2"/>
<line x1="465.5" y1="378.57" x2="472.4" y2="378.57" stroke="#111" stroke-width="1.2"/>
<line x1="434" y1="457.7" x2="442.5" y2="457.7" stroke="#111" stroke-width="1.3"/>
<line x1="442.5" y1="429.7" x2="442.5" y2="486.4" stroke="#111" stroke-width="1.3"/>
<line x1="442.5" y1="430.3" x2="449.4" y2="430.3" stroke="#111" stroke-width="1.2"/>
<line x1="449.4" y1="425.89" x2="449.4" y2="434.86" stroke="#111" stroke-width="1.2"/>
<line x1="449.4" y1="426.39" x2="450.4" y2="426.39" stroke="#111" stroke-width="1.1"/>
<line x1="449.4" y1="434.36" x2="450.4" y2="434.36" stroke="#111" stroke-width="1.1"/>
<line x1="442.5" y1="485.8" x2="450.6" y2="485.8" stroke="#111" stroke-width="1.3"/>
<line x1="450.6" y1="441.83" x2="450.6" y2="681.96" stroke="#111" stroke-width="1.6"/>
<line x1="450.6" y1="681.46" x2="452" y2="681.46" stroke="#111" stroke-width="1.2"/>
<line x1="450.6" y1="499.9" x2="492.3" y2="499.9" stroke="#111" stroke-width="1.3"/>
<line x1="492.3" y1="489.76" x2="492.3" y2="510.4" stroke="#111" stroke-width="1.1"/>
<line x1="492.3" y1="510.4" x2="495.2" y2="510.4" stroke="#111" stroke-width="1.1"/>
<line x1="495.2" y1="497.73" x2="495.2" y2="522.3" stroke="#111" stroke-width="1.1"/>
<line x1="497" y1="505.7" x2="497" y2="554.33" stroke="#111" stroke-width="1.6"/>
<line x1="497" y1="506.1" x2="498" y2="506.1" stroke="#111" stroke-width="1.1"/>
<line x1="497" y1="514.07" x2="498" y2="514.07" stroke="#111" stroke-width="1.1"/>
<line x1="497" y1="522.04" x2="499.8" y2="522.04" stroke="#111" stroke-width="1.1"/>
<line x1="497" y1="530.01" x2="498.8" y2="530.01" stroke="#111" stroke-width="1.1"/>
<line x1="497" y1="537.99" x2="498.3" y2="537.99" stroke="#111" stroke-width="1.1"/>
<line x1="497" y1="545.96" x2="498.6" y2="545.96" stroke="#111" stroke-width="1.1"/>
<line x1="497" y1="553.93" x2="498" y2="553.93" stroke="#111" stroke-width="1.1"/>
<line x1="495.2" y1="498.13" x2="496.2" y2="498.13" stroke="#111" stroke-width="1.1"/>
<text x="451" y="41.2" font-family="Liberation Sans, sans-serif" font-size="9.5" text-anchor="end" fill="#111" stroke="#111" stroke-width="0.1">100/100</text>
<text x="431.6" y="399.8" font-family="Liberation Sans, sans-serif" font-size="9.5" text-anchor="end" fill="#111" stroke="#111" stroke-width="0.1">100/100</text>
<text x="461.4" y="344.7" font-family="Liberation Sans, sans-serif" font-size="9.5" text-anchor="end" fill="#111" stroke="#111" stroke-width="0.1">100/100</text>
<text x="440.2" y="455.0" font-family="Liberation Sans, sans-serif" font-size="9.5" text-anchor="end" fill="#111" stroke="#111" stroke-width="0.1">100/100</text>
<text x="448.6" y="483.6" font-family="Liberation Sans, sans-serif" font-size="9.5" text-anchor="end" fill="#111" stroke="#111" stroke-width="0.1">100/100</text>
<text x="514.5" y="14.5" font-family="Liberation Sans, sans-serif" font-size="9.65" fill="#111" stroke="#111" stroke-width="0.22" xml:space="preserve"><tspan font-style="italic">A. spinulosporus</tspan>&#160;CI&#160;5845</text>
<text x="514.5" y="22.47" font-family="Liberation Sans, sans-serif" font-size="9.65" fill="#111" stroke="#111" stroke-width="0.22" xml:space="preserve"><tspan font-style="italic">A. spinulosporus</tspan>&#160;CI&#160;1646</text>
<text x="514.5" y="30.44" font-family="Liberation Sans, sans-serif" font-size="9.65" fill="#111" stroke="#111" stroke-width="0.22" xml:space="preserve"><tspan font-style="italic">A. spinulosporus</tspan>&#160;CI&#160;4060</text>
<text x="514.5" y="38.41" font-family="Liberation Sans, sans-serif" font-size="9.65" fill="#111" stroke="#111" stroke-width="0.22" xml:space="preserve"><tspan font-style="italic">A. spinulosporus</tspan>&#160;NRRL&#160;2395<tspan font-size="5.6" dy="-3.4">T</tspan><tspan dy="3.4"></tspan></text>
<text x="514.5" y="46.38" font-family="Liberation Sans, sans-serif" font-size="9.65" fill="#111" stroke="#111" stroke-width="0.22" xml:space="preserve"><tspan font-style="italic">A. spinulosporus</tspan>&#160;&#160;CI&#160;1705,&#160;s</text>
<text x="514.5" y="54.36" font-family="Liberation Sans, sans-serif" font-size="9.65" fill="#111" stroke="#111" stroke-width="0.22" xml:space="preserve"><tspan font-style="italic">A. spinulosporus</tspan>&#160;&#160;CI&#160;2029,&#160;s</text>
<text x="514.5" y="62.33" font-family="Liberation Sans, sans-serif" font-size="9.65" fill="#377eb8" stroke="#377eb8" stroke-width="0.22" font-weight="bold" xml:space="preserve"><tspan font-style="italic">A. latus</tspan>&#160;NRRL&#160;200<tspan font-size="5.6" dy="-3.4">T</tspan><tspan dy="3.4">,&#160;s</tspan></text>
<text x="514.5" y="70.3" font-family="Liberation Sans, sans-serif" font-size="9.65" fill="#111" stroke="#111" stroke-width="0.22" xml:space="preserve"><tspan font-style="italic">A. spinulosporus</tspan>&#160;CI&#160;5127</text>
<text x="514.5" y="78.27" font-family="Liberation Sans, sans-serif" font-size="9.65" fill="#111" stroke="#111" stroke-width="0.22" xml:space="preserve"><tspan font-style="italic">A. spinulosporus</tspan>&#160;CI&#160;3</text>
<text x="514.5" y="86.24" font-family="Liberation Sans, sans-serif" font-size="9.65" fill="#111" stroke="#111" stroke-width="0.22" xml:space="preserve"><tspan font-style="italic">A. spinulosporus</tspan>&#160;&#160;CI&#160;1927,&#160;s</text>
<text x="514.5" y="94.21" font-family="Liberation Sans, sans-serif" font-size="9.65" fill="#377eb8" stroke="#377eb8" stroke-width="0.22" font-weight="bold" xml:space="preserve"><tspan font-style="italic">A. latus</tspan>&#160;CI&#160;NIH,&#160;s</text>
<text x="514.5" y="102.18" font-family="Liberation Sans, sans-serif" font-size="9.65" fill="#377eb8" stroke="#377eb8" stroke-width="0.22" font-weight="bold" xml:space="preserve"><tspan font-style="italic">A. latus</tspan>&#160;CI&#160;MO46169,&#160;s</text>
<text x="514.5" y="110.15" font-family="Liberation Sans, sans-serif" font-size="9.65" fill="#377eb8" stroke="#377eb8" stroke-width="0.22" font-weight="bold" xml:space="preserve"><tspan font-style="italic">A. latus</tspan>&#160;CI&#160;5541,&#160;s</text>
<text x="514.5" y="118.12" font-family="Liberation Sans, sans-serif" font-size="9.65" fill="#377eb8" stroke="#377eb8" stroke-width="0.22" font-weight="bold" xml:space="preserve"><tspan font-style="italic">A. latus</tspan>&#160;CI&#160;5557,&#160;s</text>
<text x="514.5" y="126.09" font-family="Liberation Sans, sans-serif" font-size="9.65" fill="#377eb8" stroke="#377eb8" stroke-width="0.22" font-weight="bold" xml:space="preserve"><tspan font-style="italic">A. latus</tspan>&#160;CI&#160;7,&#160;s</text>
<text x="514.5" y="134.06" font-family="Liberation Sans, sans-serif" font-size="9.65" fill="#377eb8" stroke="#377eb8" stroke-width="0.22" font-weight="bold" xml:space="preserve"><tspan font-style="italic">A. latus</tspan>&#160;CI&#160;1908,&#160;s</text>
<text x="514.5" y="142.04" font-family="Liberation Sans, sans-serif" font-size="9.65" fill="#377eb8" stroke="#377eb8" stroke-width="0.22" font-weight="bold" xml:space="preserve"><tspan font-style="italic">A. latus</tspan>&#160;CI&#160;AG0001,&#160;s</text>
<text x="514.5" y="150.01" font-family="Liberation Sans, sans-serif" font-size="9.65" fill="#377eb8" stroke="#377eb8" stroke-width="0.22" font-weight="bold" xml:space="preserve"><tspan font-style="italic">A. latus</tspan>&#160;CI&#160;AG0018,&#160;s</text>
<text x="514.5" y="157.98" font-family="Liberation Sans, sans-serif" font-size="9.65" fill="#377eb8" stroke="#377eb8" stroke-width="0.22" font-weight="bold" xml:space="preserve"><tspan font-style="italic">A. latus</tspan>&#160;CI&#160;AG0019,&#160;s</text>
<text x="514.5" y="165.95" font-family="Liberation Sans, sans-serif" font-size="9.65" fill="#377eb8" stroke="#377eb8" stroke-width="0.22" font-weight="bold" xml:space="preserve"><tspan font-style="italic">A. latus</tspan>&#160;CI&#160;AG0007,&#160;s</text>
<text x="514.5" y="173.92" font-family="Liberation Sans, sans-serif" font-size="9.65" fill="#377eb8" stroke="#377eb8" stroke-width="0.22" font-weight="bold" xml:space="preserve"><tspan font-style="italic">A. latus</tspan>&#160;CI&#160;AG0008,&#160;s</text>
<text x="514.5" y="181.89" font-family="Liberation Sans, sans-serif" font-size="9.65" fill="#377eb8" stroke="#377eb8" stroke-width="0.22" font-weight="bold" xml:space="preserve"><tspan font-style="italic">A. latus</tspan>&#160;CI&#160;AG0015,&#160;s</text>
<text x="514.5" y="189.86" font-family="Liberation Sans, sans-serif" font-size="9.65" fill="#377eb8" stroke="#377eb8" stroke-width="0.22" font-weight="bold" xml:space="preserve"><tspan font-style="italic">A. latus</tspan>&#160;CI&#160;AG0014,&#160;s</text>
<text x="514.5" y="197.83" font-family="Liberation Sans, sans-serif" font-size="9.65" fill="#377eb8" stroke="#377eb8" stroke-width="0.22" font-weight="bold" xml:space="preserve"><tspan font-style="italic">A. latus</tspan>&#160;CI&#160;AG0017,&#160;s</text>
<text x="514.5" y="205.8" font-family="Liberation Sans, sans-serif" font-size="9.65" fill="#377eb8" stroke="#377eb8" stroke-width="0.22" font-weight="bold" xml:space="preserve"><tspan font-style="italic">A. latus</tspan>&#160;CI&#160;AG0013,&#160;s</text>
<text x="514.5" y="213.78" font-family="Liberation Sans, sans-serif" font-size="9.65" fill="#377eb8" stroke="#377eb8" stroke-width="0.22" font-weight="bold" xml:space="preserve"><tspan font-style="italic">A. latus</tspan>&#160;CI&#160;5606,&#160;s</text>
<text x="514.5" y="221.75" font-family="Liberation Sans, sans-serif" font-size="9.65" fill="#377eb8" stroke="#377eb8" stroke-width="0.22" font-weight="bold" xml:space="preserve"><tspan font-style="italic">A. latus</tspan>&#160;CI&#160;1926,&#160;s</text>
<text x="514.5" y="229.72" font-family="Liberation Sans, sans-serif" font-size="9.65" fill="#377eb8" stroke="#377eb8" stroke-width="0.22" font-weight="bold" xml:space="preserve"><tspan font-style="italic">A. latus</tspan>&#160;CI&#160;5225,&#160;s</text>
<text x="514.5" y="237.69" font-family="Liberation Sans, sans-serif" font-size="9.65" fill="#377eb8" stroke="#377eb8" stroke-width="0.22" font-weight="bold" xml:space="preserve"><tspan font-style="italic">A. latus</tspan>&#160;CI&#160;5222,&#160;s</text>
<text x="514.5" y="245.66" font-family="Liberation Sans, sans-serif" font-size="9.65" fill="#377eb8" stroke="#377eb8" stroke-width="0.22" font-weight="bold" xml:space="preserve"><tspan font-style="italic">A. latus</tspan>&#160;CI&#160;MM151978,&#160;s</text>
<text x="514.5" y="253.63" font-family="Liberation Sans, sans-serif" font-size="9.65" fill="#377eb8" stroke="#377eb8" stroke-width="0.22" font-weight="bold" xml:space="preserve"><tspan font-style="italic">A. latus</tspan>&#160;CI&#160;5180,&#160;s</text>
<text x="514.5" y="261.6" font-family="Liberation Sans, sans-serif" font-size="9.65" fill="#377eb8" stroke="#377eb8" stroke-width="0.22" font-weight="bold" xml:space="preserve"><tspan font-style="italic">A. latus</tspan>&#160;CI&#160;4470,&#160;s</text>
<text x="514.5" y="269.57" font-family="Liberation Sans, sans-serif" font-size="9.65" fill="#377eb8" stroke="#377eb8" stroke-width="0.22" font-weight="bold" xml:space="preserve"><tspan font-style="italic">A. latus</tspan>&#160;CI&#160;2160,&#160;s</text>
<text x="514.5" y="277.54" font-family="Liberation Sans, sans-serif" font-size="9.65" fill="#377eb8" stroke="#377eb8" stroke-width="0.22" font-weight="bold" xml:space="preserve"><tspan font-style="italic">A. latus</tspan>&#160;CI&#160;2033,&#160;s</text>
<text x="514.5" y="285.51" font-family="Liberation Sans, sans-serif" font-size="9.65" fill="#377eb8" stroke="#377eb8" stroke-width="0.22" font-weight="bold" xml:space="preserve"><tspan font-style="italic">A. latus</tspan>&#160;CI&#160;9,&#160;s</text>
<text x="514.5" y="293.49" font-family="Liberation Sans, sans-serif" font-size="9.65" fill="#377eb8" stroke="#377eb8" stroke-width="0.22" font-weight="bold" xml:space="preserve"><tspan font-style="italic">A. latus</tspan>&#160;CI&#160;5691,&#160;s</text>
<text x="514.5" y="301.46" font-family="Liberation Sans, sans-serif" font-size="9.65" fill="#377eb8" stroke="#377eb8" stroke-width="0.22" font-weight="bold" xml:space="preserve"><tspan font-style="italic">A. latus</tspan>&#160;CI&#160;5518,&#160;s</text>
<text x="514.5" y="309.43" font-family="Liberation Sans, sans-serif" font-size="9.65" fill="#377eb8" stroke="#377eb8" stroke-width="0.22" font-weight="bold" xml:space="preserve"><tspan font-style="italic">A. latus</tspan>&#160;CI&#160;ASFU1710,&#160;s</text>
<text x="514.5" y="317.4" font-family="Liberation Sans, sans-serif" font-size="9.65" fill="#377eb8" stroke="#377eb8" stroke-width="0.22" font-weight="bold" xml:space="preserve"><tspan font-style="italic">A. latus</tspan>&#160;CI&#160;6,&#160;s</text>
<text x="514.5" y="325.37" font-family="Liberation Sans, sans-serif" font-size="9.65" fill="#377eb8" stroke="#377eb8" stroke-width="0.22" font-weight="bold" xml:space="preserve"><tspan font-style="italic">A. latus</tspan>&#160;CI&#160;1,&#160;s</text>
<text x="514.5" y="333.34" font-family="Liberation Sans, sans-serif" font-size="9.65" fill="#111" stroke="#111" stroke-width="0.22" xml:space="preserve"><tspan font-style="italic">A. nidulans</tspan>&#160;CI&#160;5035</text>
<text x="514.5" y="341.31" font-family="Liberation Sans, sans-serif" font-size="9.65" fill="#111" stroke="#111" stroke-width="0.22" xml:space="preserve"><tspan font-style="italic">A. nidulans</tspan>&#160;CI&#160;2200</text>
<text x="514.5" y="349.28" font-family="Liberation Sans, sans-serif" font-size="9.65" fill="#111" stroke="#111" stroke-width="0.22" xml:space="preserve"><tspan font-style="italic">A. nidulans</tspan>&#160;CI&#160;5</text>
<text x="514.5" y="357.25" font-family="Liberation Sans, sans-serif" font-size="9.65" fill="#111" stroke="#111" stroke-width="0.22" xml:space="preserve"><tspan font-style="italic">A. nidulans</tspan>&#160;CI&#160;2199</text>
<text x="514.5" y="365.22" font-family="Liberation Sans, sans-serif" font-size="9.65" fill="#111" stroke="#111" stroke-width="0.22" xml:space="preserve"><tspan font-style="italic">A. nidulans</tspan>&#160;CI&#160;1680</text>
<text x="514.5" y="373.19" font-family="Liberation Sans, sans-serif" font-size="9.65" fill="#111" stroke="#111" stroke-width="0.22" xml:space="preserve"><tspan font-style="italic">A. nidulans</tspan>&#160;CI&#160;4662</text>
<text x="514.5" y="381.17" font-family="Liberation Sans, sans-serif" font-size="9.65" fill="#111" stroke="#111" stroke-width="0.22" xml:space="preserve"><tspan font-style="italic">A. nidulans</tspan>&#160;FGSC&#160;A4</text>
<text x="514.5" y="389.14" font-family="Liberation Sans, sans-serif" font-size="9.65" fill="#111" stroke="#111" stroke-width="0.22" xml:space="preserve"><tspan font-style="italic">A. nidulans</tspan>&#160;CI&#160;2</text>
<text x="514.5" y="397.11" font-family="Liberation Sans, sans-serif" font-size="9.65" fill="#111" stroke="#111" stroke-width="0.22" xml:space="preserve"><tspan font-style="italic">A. nidulans</tspan>&#160;CI&#160;5641</text>
<text x="514.5" y="405.08" font-family="Liberation Sans, sans-serif" font-size="9.65" fill="#111" stroke="#111" stroke-width="0.22" xml:space="preserve"><tspan font-style="italic">A. nidulans</tspan>&#160;CI&#160;4996</text>
<text x="514.5" y="413.05" font-family="Liberation Sans, sans-serif" font-size="9.65" fill="#111" stroke="#111" stroke-width="0.22" xml:space="preserve"><tspan font-style="italic">A. nidulans</tspan>&#160;CI&#160;5565</text>
<text x="514.5" y="421.02" font-family="Liberation Sans, sans-serif" font-size="9.65" fill="#111" stroke="#111" stroke-width="0.22" xml:space="preserve"><tspan font-style="italic">A. nidulans</tspan>&#160;CI&#160;1928</text>
<text x="514.5" y="428.99" font-family="Liberation Sans, sans-serif" font-size="9.65" fill="#111" stroke="#111" stroke-width="0.22" xml:space="preserve"><tspan font-style="italic">A. quadrilineatus</tspan>&#160;NRRL&#160;201<tspan font-size="5.6" dy="-3.4">T</tspan><tspan dy="3.4"></tspan></text>
<text x="514.5" y="436.96" font-family="Liberation Sans, sans-serif" font-size="9.65" fill="#111" stroke="#111" stroke-width="0.22" xml:space="preserve"><tspan font-style="italic">A. quadrilineatus</tspan>&#160;CI&#160;8</text>
<text x="514.5" y="444.93" font-family="Liberation Sans, sans-serif" font-size="9.65" fill="#e41a1c" stroke="#e41a1c" stroke-width="0.22" font-weight="bold" xml:space="preserve"><tspan font-style="italic">A. latus</tspan>&#160;CI&#160;2160,&#160;q-like</text>
<text x="514.5" y="452.91" font-family="Liberation Sans, sans-serif" font-size="9.65" fill="#e41a1c" stroke="#e41a1c" stroke-width="0.22" font-weight="bold" xml:space="preserve"><tspan font-style="italic">A. latus</tspan>&#160;CI&#160;2033,&#160;q-like</text>
<text x="514.5" y="460.88" font-family="Liberation Sans, sans-serif" font-size="9.65" fill="#e41a1c" stroke="#e41a1c" stroke-width="0.22" font-weight="bold" xml:space="preserve"><tspan font-style="italic">A. latus</tspan>&#160;CI&#160;5541,&#160;q-like</text>
<text x="514.5" y="468.85" font-family="Liberation Sans, sans-serif" font-size="9.65" fill="#e41a1c" stroke="#e41a1c" stroke-width="0.22" font-weight="bold" xml:space="preserve"><tspan font-style="italic">A. latus</tspan>&#160;CI&#160;1908,&#160;q-like</text>
<text x="514.5" y="476.82" font-family="Liberation Sans, sans-serif" font-size="9.65" fill="#e41a1c" stroke="#e41a1c" stroke-width="0.22" font-weight="bold" xml:space="preserve"><tspan font-style="italic">A. latus</tspan>&#160;CI&#160;7,&#160;q-like</text>
<text x="514.5" y="484.79" font-family="Liberation Sans, sans-serif" font-size="9.65" fill="#e41a1c" stroke="#e41a1c" stroke-width="0.22" font-weight="bold" xml:space="preserve"><tspan font-style="italic">A. latus</tspan>&#160;CI&#160;5557,&#160;q-like</text>
<text x="514.5" y="492.76" font-family="Liberation Sans, sans-serif" font-size="9.65" fill="#e41a1c" stroke="#e41a1c" stroke-width="0.22" font-weight="bold" xml:space="preserve"><tspan font-style="italic">A. latus</tspan>&#160;CI&#160;AG0001,&#160;q-like</text>
<text x="514.5" y="500.73" font-family="Liberation Sans, sans-serif" font-size="9.65" fill="#e41a1c" stroke="#e41a1c" stroke-width="0.22" font-weight="bold" xml:space="preserve"><tspan font-style="italic">A. latus</tspan>&#160;CI&#160;AG0018,&#160;q-like</text>
<text x="514.5" y="508.7" font-family="Liberation Sans, sans-serif" font-size="9.65" fill="#e41a1c" stroke="#e41a1c" stroke-width="0.22" font-weight="bold" xml:space="preserve"><tspan font-style="italic">A. latus</tspan>&#160;CI&#160;AG0017,&#160;q-like</text>
<text x="514.5" y="516.67" font-family="Liberation Sans, sans-serif" font-size="9.65" fill="#e41a1c" stroke="#e41a1c" stroke-width="0.22" font-weight="bold" xml:space="preserve"><tspan font-style="italic">A. latus</tspan>&#160;CI&#160;AG0013,&#160;q-like</text>
<text x="514.5" y="524.64" font-family="Liberation Sans, sans-serif" font-size="9.65" fill="#e41a1c" stroke="#e41a1c" stroke-width="0.22" font-weight="bold" xml:space="preserve"><tspan font-style="italic">A. latus</tspan>&#160;CI&#160;AG0015,&#160;q-like</text>
<text x="514.5" y="532.62" font-family="Liberation Sans, sans-serif" font-size="9.65" fill="#e41a1c" stroke="#e41a1c" stroke-width="0.22" font-weight="bold" xml:space="preserve"><tspan font-style="italic">A. latus</tspan>&#160;CI&#160;AG0014,&#160;q-like</text>
<text x="514.5" y="540.59" font-family="Liberation Sans, sans-serif" font-size="9.65" fill="#e41a1c" stroke="#e41a1c" stroke-width="0.22" font-weight="bold" xml:space="preserve"><tspan font-style="italic">A. latus</tspan>&#160;CI&#160;AG0019,&#160;q-like</text>
<text x="514.5" y="548.56" font-family="Liberation Sans, sans-serif" font-size="9.65" fill="#e41a1c" stroke="#e41a1c" stroke-width="0.22" font-weight="bold" xml:space="preserve"><tspan font-style="italic">A. latus</tspan>&#160;CI&#160;AG0008,&#160;q-like</text>
<text x="514.5" y="556.53" font-family="Liberation Sans, sans-serif" font-size="9.65" fill="#e41a1c" stroke="#e41a1c" stroke-width="0.22" font-weight="bold" xml:space="preserve"><tspan font-style="italic">A. latus</tspan>&#160;CI&#160;AG0007,&#160;q-like</text>
<text x="514.5" y="564.5" font-family="Liberation Sans, sans-serif" font-size="9.65" fill="#e41a1c" stroke="#e41a1c" stroke-width="0.22" font-weight="bold" xml:space="preserve"><tspan font-style="italic">A. latus</tspan>&#160;CI&#160;MM151978,&#160;q-like</text>
<text x="514.5" y="572.47" font-family="Liberation Sans, sans-serif" font-size="9.65" fill="#e41a1c" stroke="#e41a1c" stroke-width="0.22" font-weight="bold" xml:space="preserve"><tspan font-style="italic">A. latus</tspan>&#160;CI&#160;5606,&#160;q-like</text>
<text x="514.5" y="580.44" font-family="Liberation Sans, sans-serif" font-size="9.65" fill="#e41a1c" stroke="#e41a1c" stroke-width="0.22" font-weight="bold" xml:space="preserve"><tspan font-style="italic">A. latus</tspan>&#160;CI&#160;5180,&#160;q-like</text>
<text x="514.5" y="588.41" font-family="Liberation Sans, sans-serif" font-size="9.65" fill="#e41a1c" stroke="#e41a1c" stroke-width="0.22" font-weight="bold" xml:space="preserve"><tspan font-style="italic">A. latus</tspan>&#160;CI&#160;NIH,&#160;q-like</text>
<text x="514.5" y="596.38" font-family="Liberation Sans, sans-serif" font-size="9.65" fill="#e41a1c" stroke="#e41a1c" stroke-width="0.22" font-weight="bold" xml:space="preserve"><tspan font-style="italic">A. latus</tspan>&#160;CI&#160;ASFU1710,&#160;q-like</text>
<text x="514.5" y="604.35" font-family="Liberation Sans, sans-serif" font-size="9.65" fill="#e41a1c" stroke="#e41a1c" stroke-width="0.22" font-weight="bold" xml:space="preserve"><tspan font-style="italic">A. latus</tspan>&#160;CI&#160;6,&#160;q-like</text>
<text x="514.5" y="612.33" font-family="Liberation Sans, sans-serif" font-size="9.65" fill="#e41a1c" stroke="#e41a1c" stroke-width="0.22" font-weight="bold" xml:space="preserve"><tspan font-style="italic">A. latus</tspan>&#160;CI&#160;1,&#160;q-like</text>
<text x="514.5" y="620.3" font-family="Liberation Sans, sans-serif" font-size="9.65" fill="#e41a1c" stroke="#e41a1c" stroke-width="0.22" font-weight="bold" xml:space="preserve"><tspan font-style="italic">A. latus</tspan>&#160;CI&#160;9,&#160;q-like</text>
<text x="514.5" y="628.27" font-family="Liberation Sans, sans-serif" font-size="9.65" fill="#e41a1c" stroke="#e41a1c" stroke-width="0.22" font-weight="bold" xml:space="preserve"><tspan font-style="italic">A. latus</tspan>&#160;CI&#160;5225,&#160;q-like</text>
<text x="514.5" y="636.24" font-family="Liberation Sans, sans-serif" font-size="9.65" fill="#e41a1c" stroke="#e41a1c" stroke-width="0.22" font-weight="bold" xml:space="preserve"><tspan font-style="italic">A. latus</tspan>&#160;CI&#160;5222,&#160;q-like</text>
<text x="514.5" y="644.21" font-family="Liberation Sans, sans-serif" font-size="9.65" fill="#e41a1c" stroke="#e41a1c" stroke-width="0.22" font-weight="bold" xml:space="preserve"><tspan font-style="italic">A. latus</tspan>&#160;CI&#160;5691,&#160;q-like</text>
<text x="514.5" y="652.18" font-family="Liberation Sans, sans-serif" font-size="9.65" fill="#e41a1c" stroke="#e41a1c" stroke-width="0.22" font-weight="bold" xml:space="preserve"><tspan font-style="italic">A. latus</tspan>&#160;CI&#160;5518,&#160;q-like</text>
<text x="514.5" y="660.15" font-family="Liberation Sans, sans-serif" font-size="9.65" fill="#e41a1c" stroke="#e41a1c" stroke-width="0.22" font-weight="bold" xml:space="preserve"><tspan font-style="italic">A. latus</tspan>&#160;CI&#160;1926,&#160;q-like</text>
<text x="514.5" y="668.12" font-family="Liberation Sans, sans-serif" font-size="9.65" fill="#e41a1c" stroke="#e41a1c" stroke-width="0.22" font-weight="bold" xml:space="preserve"><tspan font-style="italic">A. latus</tspan>&#160;NRRL&#160;200<tspan font-size="5.6" dy="-3.4">T</tspan><tspan dy="3.4">,&#160;q-like</tspan></text>
<text x="514.5" y="676.09" font-family="Liberation Sans, sans-serif" font-size="9.65" fill="#e41a1c" stroke="#e41a1c" stroke-width="0.22" font-weight="bold" xml:space="preserve"><tspan font-style="italic">A. latus</tspan>&#160;CI&#160;MO46149,&#160;q-like</text>
<text x="514.5" y="684.06" font-family="Liberation Sans, sans-serif" font-size="9.65" fill="#e41a1c" stroke="#e41a1c" stroke-width="0.22" font-weight="bold" xml:space="preserve"><tspan font-style="italic">A. latus</tspan>&#160;CI&#160;4470,&#160;q-like</text>
<path d="M644.5 59.73 Q721.44 362.62 644.5 665.52" fill="none" stroke="#1a1a1a" stroke-width="0.9"/>
<path d="M644.5 91.61 Q707.26 338.71 644.5 585.81" fill="none" stroke="#1a1a1a" stroke-width="0.9"/>
<path d="M644.5 99.58 Q717.39 386.54 644.5 673.49" fill="none" stroke="#1a1a1a" stroke-width="0.9"/>
<path d="M644.5 107.55 Q689.04 282.91 644.5 458.28" fill="none" stroke="#1a1a1a" stroke-width="0.9"/>
<path d="M644.5 115.52 Q691.07 298.86 644.5 482.19" fill="none" stroke="#1a1a1a" stroke-width="0.9"/>
<path d="M644.5 123.49 Q689.04 298.86 644.5 474.22" fill="none" stroke="#1a1a1a" stroke-width="0.9"/>
<path d="M644.5 131.47 Q687.02 298.86 644.5 466.25" fill="none" stroke="#1a1a1a" stroke-width="0.9"/>
<path d="M644.5 139.44 Q689.04 314.8 644.5 490.16" fill="none" stroke="#1a1a1a" stroke-width="0.9"/>
<path d="M644.5 147.41 Q689.04 322.77 644.5 498.13" fill="none" stroke="#1a1a1a" stroke-width="0.9"/>
<path d="M644.5 155.38 Q693.09 346.68 644.5 537.99" fill="none" stroke="#1a1a1a" stroke-width="0.9"/>
<path d="M644.5 163.35 Q694.1 358.64 644.5 553.93" fill="none" stroke="#1a1a1a" stroke-width="0.9"/>
<path d="M644.5 171.32 Q692.08 358.64 644.5 545.96" fill="none" stroke="#1a1a1a" stroke-width="0.9"/>
<path d="M644.5 179.29 Q688.03 350.67 644.5 522.04" fill="none" stroke="#1a1a1a" stroke-width="0.9"/>
<path d="M644.5 187.26 Q688.03 358.64 644.5 530.01" fill="none" stroke="#1a1a1a" stroke-width="0.9"/>
<path d="M644.5 195.23 Q683.98 350.67 644.5 506.1" fill="none" stroke="#1a1a1a" stroke-width="0.9"/>
<path d="M644.5 203.2 Q683.98 358.64 644.5 514.07" fill="none" stroke="#1a1a1a" stroke-width="0.9"/>
<path d="M644.5 211.18 Q690.05 390.52 644.5 569.87" fill="none" stroke="#1a1a1a" stroke-width="0.9"/>
<path d="M644.5 219.15 Q700.18 438.35 644.5 657.55" fill="none" stroke="#1a1a1a" stroke-width="0.9"/>
<path d="M644.5 227.12 Q695.12 426.39 644.5 625.67" fill="none" stroke="#1a1a1a" stroke-width="0.9"/>
<path d="M644.5 235.09 Q695.12 434.36 644.5 633.64" fill="none" stroke="#1a1a1a" stroke-width="0.9"/>
<path d="M644.5 243.06 Q684.99 402.48 644.5 561.9" fill="none" stroke="#1a1a1a" stroke-width="0.9"/>
<path d="M644.5 251.03 Q686 414.44 644.5 577.84" fill="none" stroke="#1a1a1a" stroke-width="0.9"/>
<path d="M644.5 259 Q698.15 470.23 644.5 681.46" fill="none" stroke="#1a1a1a" stroke-width="0.9"/>
<path d="M644.5 266.97 Q666.77 354.65 644.5 442.33" fill="none" stroke="#1a1a1a" stroke-width="0.9"/>
<path d="M644.5 274.94 Q666.77 362.62 644.5 450.31" fill="none" stroke="#1a1a1a" stroke-width="0.9"/>
<path d="M644.5 282.91 Q687.02 450.31 644.5 617.7" fill="none" stroke="#1a1a1a" stroke-width="0.9"/>
<path d="M644.5 290.88 Q689.04 466.25 644.5 641.61" fill="none" stroke="#1a1a1a" stroke-width="0.9"/>
<path d="M644.5 298.86 Q689.04 474.22 644.5 649.58" fill="none" stroke="#1a1a1a" stroke-width="0.9"/>
<path d="M644.5 306.83 Q680.94 450.31 644.5 593.78" fill="none" stroke="#1a1a1a" stroke-width="0.9"/>
<path d="M644.5 314.8 Q680.94 458.28 644.5 601.75" fill="none" stroke="#1a1a1a" stroke-width="0.9"/>
<path d="M644.5 322.77 Q680.94 466.25 644.5 609.73" fill="none" stroke="#1a1a1a" stroke-width="0.9"/>
<text x="405.6" y="646.8" font-family="Liberation Sans, sans-serif" font-size="9.7" text-anchor="middle" fill="#111" stroke="#111" stroke-width="0.1">Substitutions / site</text>
<line x1="366.2" y1="648.1" x2="445" y2="648.1" stroke="#111" stroke-width="0.7"/>
<line x1="386.7" y1="653.6" x2="403.5" y2="653.6" stroke="#111" stroke-width="1.3"/>
<text x="407.2" y="657.3" font-family="Liberation Sans, sans-serif" font-size="9.7" fill="#111" stroke="#111" stroke-width="0.1">0.01</text>
<text x="405.6" y="669.8" font-family="Liberation Sans, sans-serif" font-size="9.7" text-anchor="middle" fill="#111" stroke="#111" stroke-width="0.1">Bipartition support</text>
<line x1="366.2" y1="670.7" x2="445" y2="670.7" stroke="#111" stroke-width="0.7"/>
<text x="405.4" y="681.8" font-family="Liberation Sans, sans-serif" font-size="9.7" text-anchor="middle" fill="#111" stroke="#111" stroke-width="0.1">SH-aLRT / UFBoot</text>
<line x1="37.7" y1="700" x2="37.7" y2="836.4" stroke="#1a1a1a" stroke-width="1.1"/>
<line x1="37.2" y1="835.9" x2="107.3" y2="835.9" stroke="#1a1a1a" stroke-width="1.1"/>
<line x1="34.9" y1="829.8" x2="37.7" y2="829.8" stroke="#1a1a1a" stroke-width="1"/>
<text x="32.3" y="833.25" font-family="Liberation Sans, sans-serif" font-size="9.6" text-anchor="end" fill="#4d4d4d" stroke="#4d4d4d" stroke-width="0.1">0.0</text>
<line x1="34.9" y1="803.3" x2="37.7" y2="803.3" stroke="#1a1a1a" stroke-width="1"/>
<text x="32.3" y="806.75" font-family="Liberation Sans, sans-serif" font-size="9.6" text-anchor="end" fill="#4d4d4d" stroke="#4d4d4d" stroke-width="0.1">0.1</text>
<line x1="34.9" y1="776.7" x2="37.7" y2="776.7" stroke="#1a1a1a" stroke-width="1"/>
<text x="32.3" y="780.15" font-family="Liberation Sans, sans-serif" font-size="9.6" text-anchor="end" fill="#4d4d4d" stroke="#4d4d4d" stroke-width="0.1">0.2</text>
<line x1="34.9" y1="750.1" x2="37.7" y2="750.1" stroke="#1a1a1a" stroke-width="1"/>
<text x="32.3" y="753.55" font-family="Liberation Sans, sans-serif" font-size="9.6" text-anchor="end" fill="#4d4d4d" stroke="#4d4d4d" stroke-width="0.1">0.3</text>
<line x1="34.9" y1="723.5" x2="37.7" y2="723.5" stroke="#1a1a1a" stroke-width="1"/>
<text x="32.3" y="726.95" font-family="Liberation Sans, sans-serif" font-size="9.6" text-anchor="end" fill="#4d4d4d" stroke="#4d4d4d" stroke-width="0.1">0.4</text>
<line x1="56.2" y1="835.9" x2="56.2" y2="838.7" stroke="#1a1a1a" stroke-width="1"/>
<line x1="88.3" y1="835.9" x2="88.3" y2="838.7" stroke="#1a1a1a" stroke-width="1"/>
<text x="56.2" y="850" font-family="Liberation Sans, sans-serif" font-size="12" font-style="italic" text-anchor="middle" fill="#111" stroke="#111" stroke-width="0.1">Aspi</text>
<text x="88.6" y="850" font-family="Liberation Sans, sans-serif" font-size="12" font-style="italic" text-anchor="middle" fill="#111" stroke="#111" stroke-width="0.1">Aqua</text>
<text x="72.6" y="702.2" font-family="Liberation Sans, sans-serif" font-size="9.6" text-anchor="middle" fill="#111" stroke="#111" stroke-width="0.1">p = 1.0</text>
<text transform="translate(14.4,769.8) rotate(-90)" font-family="Liberation Sans, sans-serif" font-size="11.65" text-anchor="middle" fill="#111" stroke="#111" stroke-width="0.1">Evo. rate (tree-based)</text>
<line x1="42.7" y1="829.8" x2="69.7" y2="829.8" stroke="#555" stroke-width="0.6"/>
<line x1="56.2" y1="748.1" x2="56.2" y2="829.8" stroke="#222" stroke-width="0.6"/>
<path d="M50.2 829.8 Q55.6 829.5 55.9 827.8 L56.5 827.8 Q56.8 829.5 62.2 829.8 Z" fill="#222"/>
<line x1="73.9" y1="829.8" x2="102.7" y2="829.8" stroke="#555" stroke-width="0.6"/>
<line x1="88.3" y1="706" x2="88.3" y2="829.8" stroke="#222" stroke-width="0.6"/>
<path d="M82.3 829.8 Q87.7 829.5 88 827.8 L88.6 827.8 Q88.9 829.5 94.3 829.8 Z" fill="#222"/>
<line x1="143.5" y1="700" x2="143.5" y2="836.4" stroke="#1a1a1a" stroke-width="1.1"/>
<line x1="143" y1="835.9" x2="212.9" y2="835.9" stroke="#1a1a1a" stroke-width="1.1"/>
<line x1="140.7" y1="830.1" x2="143.5" y2="830.1" stroke="#1a1a1a" stroke-width="1"/>
<text x="138.1" y="833.55" font-family="Liberation Sans, sans-serif" font-size="9.6" text-anchor="end" fill="#4d4d4d" stroke="#4d4d4d" stroke-width="0.1">0.0</text>
<line x1="140.7" y1="795.1" x2="143.5" y2="795.1" stroke="#1a1a1a" stroke-width="1"/>
<text x="138.1" y="798.55" font-family="Liberation Sans, sans-serif" font-size="9.6" text-anchor="end" fill="#4d4d4d" stroke="#4d4d4d" stroke-width="0.1">0.1</text>
<line x1="140.7" y1="760.1" x2="143.5" y2="760.1" stroke="#1a1a1a" stroke-width="1"/>
<text x="138.1" y="763.55" font-family="Liberation Sans, sans-serif" font-size="9.6" text-anchor="end" fill="#4d4d4d" stroke="#4d4d4d" stroke-width="0.1">0.2</text>
<line x1="140.7" y1="725.0" x2="143.5" y2="725.0" stroke="#1a1a1a" stroke-width="1"/>
<text x="138.1" y="728.45" font-family="Liberation Sans, sans-serif" font-size="9.6" text-anchor="end" fill="#4d4d4d" stroke="#4d4d4d" stroke-width="0.1">0.3</text>
<line x1="162.5" y1="835.9" x2="162.5" y2="838.7" stroke="#1a1a1a" stroke-width="1"/>
<line x1="194.4" y1="835.9" x2="194.4" y2="838.7" stroke="#1a1a1a" stroke-width="1"/>
<text x="162.5" y="850" font-family="Liberation Sans, sans-serif" font-size="12" font-style="italic" text-anchor="middle" fill="#111" stroke="#111" stroke-width="0.1">Aspi</text>
<text x="194.7" y="850" font-family="Liberation Sans, sans-serif" font-size="12" font-style="italic" text-anchor="middle" fill="#111" stroke="#111" stroke-width="0.1">Aqua</text>
<text x="178.3" y="702.2" font-family="Liberation Sans, sans-serif" font-size="9.6" text-anchor="middle" fill="#111" stroke="#111" stroke-width="0.1">p = 1.0</text>
<text transform="translate(120.7,769.8) rotate(-90)" font-family="Liberation Sans, sans-serif" font-size="11.65" text-anchor="middle" fill="#111" stroke="#111" stroke-width="0.1">Evo. rate (seq-based)</text>
<line x1="162.5" y1="706" x2="162.5" y2="830.1" stroke="#222" stroke-width="0.6"/>
<line x1="148.3" y1="830.1" x2="176.7" y2="830.1" stroke="#222" stroke-width="0.8"/>
<path d="M155.5 829.9 Q161.6 829.5 162.05 827.5 L162.25 823.1 L162.75 823.1 L162.95 827.5 Q163.4 829.5 169.5 829.9 Z" fill="#222"/>
<line x1="194.4" y1="739" x2="194.4" y2="830.1" stroke="#222" stroke-width="0.6"/>
<line x1="180.2" y1="830.1" x2="208.6" y2="830.1" stroke="#222" stroke-width="0.8"/>
<path d="M187.4 829.9 Q193.5 829.5 193.95 827.5 L194.15 823.1 L194.65 823.1 L194.85 827.5 Q195.3 829.5 201.4 829.9 Z" fill="#222"/>
<line x1="255.6" y1="700.3" x2="255.6" y2="836.3" stroke="#1a1a1a" stroke-width="1.1"/>
<line x1="255.1" y1="835.8" x2="290.9" y2="835.8" stroke="#1a1a1a" stroke-width="1.1"/>
<line x1="252.8" y1="829.7" x2="255.6" y2="829.7" stroke="#1a1a1a" stroke-width="1"/>
<text x="250" y="833.15" font-family="Liberation Sans, sans-serif" font-size="9.6" text-anchor="end" fill="#4d4d4d" stroke="#4d4d4d" stroke-width="0.1">0</text>
<line x1="252.8" y1="808.07" x2="255.6" y2="808.07" stroke="#1a1a1a" stroke-width="1"/>
<text x="250" y="811.52" font-family="Liberation Sans, sans-serif" font-size="9.6" text-anchor="end" fill="#4d4d4d" stroke="#4d4d4d" stroke-width="0.1">300</text>
<line x1="252.8" y1="786.44" x2="255.6" y2="786.44" stroke="#1a1a1a" stroke-width="1"/>
<text x="250" y="789.89" font-family="Liberation Sans, sans-serif" font-size="9.6" text-anchor="end" fill="#4d4d4d" stroke="#4d4d4d" stroke-width="0.1">600</text>
<line x1="252.8" y1="764.81" x2="255.6" y2="764.81" stroke="#1a1a1a" stroke-width="1"/>
<text x="250" y="768.26" font-family="Liberation Sans, sans-serif" font-size="9.6" text-anchor="end" fill="#4d4d4d" stroke="#4d4d4d" stroke-width="0.1">900</text>
<line x1="252.8" y1="743.18" x2="255.6" y2="743.18" stroke="#1a1a1a" stroke-width="1"/>
<text x="250" y="746.63" font-family="Liberation Sans, sans-serif" font-size="9.6" text-anchor="end" fill="#4d4d4d" stroke="#4d4d4d" stroke-width="0.1">1200</text>
<line x1="252.8" y1="721.55" x2="255.6" y2="721.55" stroke="#1a1a1a" stroke-width="1"/>
<text x="250" y="725" font-family="Liberation Sans, sans-serif" font-size="9.6" text-anchor="end" fill="#4d4d4d" stroke="#4d4d4d" stroke-width="0.1">1500</text>
<rect x="260.1" y="705.9" width="25.7" height="25" fill="#cb3414"/>
<rect x="260.1" y="730.8" width="25.7" height="21.5" fill="#0f74ba"/>
<rect x="260.1" y="752.1" width="25.7" height="77.6" fill="#595959"/>
<text x="273" y="724.1" font-family="Liberation Sans, sans-serif" font-size="9.8" text-anchor="middle" fill="#fff" stroke="#fff" stroke-width="0.1">342</text>
<text x="273" y="745.2" font-family="Liberation Sans, sans-serif" font-size="9.8" text-anchor="middle" fill="#fff" stroke="#fff" stroke-width="0.1">297</text>
<text x="273" y="794.7" font-family="Liberation Sans, sans-serif" font-size="9.8" text-anchor="middle" fill="#fff" stroke="#fff" stroke-width="0.1">1073</text>
<text transform="translate(226.5,768.2) rotate(-90)" font-family="Liberation Sans, sans-serif" font-size="11.85" text-anchor="middle" fill="#111" stroke="#111" stroke-width="0.1">Number of ohnolog pairs</text>
<line x1="419.8" y1="699.8" x2="419.8" y2="836.5" stroke="#1a1a1a" stroke-width="1.1"/>
<line x1="419.3" y1="836" x2="662.1" y2="836" stroke="#1a1a1a" stroke-width="1.1"/>
<line x1="417" y1="829.7" x2="419.8" y2="829.7" stroke="#1a1a1a" stroke-width="1"/>
<text x="414.2" y="833.15" font-family="Liberation Sans, sans-serif" font-size="9.6" text-anchor="end" fill="#4d4d4d" stroke="#4d4d4d" stroke-width="0.1">0</text>
<line x1="417" y1="800.45" x2="419.8" y2="800.45" stroke="#1a1a1a" stroke-width="1"/>
<text x="414.2" y="803.9" font-family="Liberation Sans, sans-serif" font-size="9.6" text-anchor="end" fill="#4d4d4d" stroke="#4d4d4d" stroke-width="0.1">250</text>
<line x1="417" y1="771.2" x2="419.8" y2="771.2" stroke="#1a1a1a" stroke-width="1"/>
<text x="414.2" y="774.65" font-family="Liberation Sans, sans-serif" font-size="9.6" text-anchor="end" fill="#4d4d4d" stroke="#4d4d4d" stroke-width="0.1">500</text>
<line x1="417" y1="741.95" x2="419.8" y2="741.95" stroke="#1a1a1a" stroke-width="1"/>
<text x="414.2" y="745.4" font-family="Liberation Sans, sans-serif" font-size="9.6" text-anchor="end" fill="#4d4d4d" stroke="#4d4d4d" stroke-width="0.1">750</text>
<line x1="417" y1="712.7" x2="419.8" y2="712.7" stroke="#1a1a1a" stroke-width="1"/>
<text x="414.2" y="716.15" font-family="Liberation Sans, sans-serif" font-size="9.6" text-anchor="end" fill="#4d4d4d" stroke="#4d4d4d" stroke-width="0.1">1000</text>
<line x1="443.8" y1="836" x2="443.8" y2="838.8" stroke="#1a1a1a" stroke-width="1"/>
<rect x="426.05" y="706.03" width="35.5" height="123.67" fill="#10207c"/>
<text x="443.8" y="704.33" font-family="Liberation Sans, sans-serif" font-size="9.6" text-anchor="middle" fill="#222" stroke="#222" stroke-width="0.1">1057</text>
<text x="443.8" y="857.6" font-family="Liberation Sans, sans-serif" font-size="12" text-anchor="middle" fill="#111" stroke="#111" stroke-width="0.1">1</text>
<line x1="483.5" y1="836" x2="483.5" y2="838.8" stroke="#1a1a1a" stroke-width="1"/>
<rect x="465.75" y="815.89" width="35.5" height="13.81" fill="#86bff5"/>
<text x="483.5" y="814.19" font-family="Liberation Sans, sans-serif" font-size="9.6" text-anchor="middle" fill="#222" stroke="#222" stroke-width="0.1">118</text>
<text x="483.5" y="857.6" font-family="Liberation Sans, sans-serif" font-size="12" text-anchor="middle" fill="#111" stroke="#111" stroke-width="0.1">2</text>
<line x1="523.2" y1="836" x2="523.2" y2="838.8" stroke="#1a1a1a" stroke-width="1"/>
<rect x="505.45" y="827.59" width="35.5" height="2.11" fill="#86bff5"/>
<text x="523.2" y="825.89" font-family="Liberation Sans, sans-serif" font-size="9.6" text-anchor="middle" fill="#222" stroke="#222" stroke-width="0.1">18</text>
<text x="523.2" y="857.6" font-family="Liberation Sans, sans-serif" font-size="12" text-anchor="middle" fill="#111" stroke="#111" stroke-width="0.1">3</text>
<line x1="562.9" y1="836" x2="562.9" y2="838.8" stroke="#1a1a1a" stroke-width="1"/>
<rect x="545.15" y="829.2" width="35.5" height="0.5" fill="#86bff5" fill-opacity="0.56"/>
<text x="562.9" y="827.65" font-family="Liberation Sans, sans-serif" font-size="9.6" text-anchor="middle" fill="#222" stroke="#222" stroke-width="0.1">3</text>
<text x="562.9" y="857.6" font-family="Liberation Sans, sans-serif" font-size="12" text-anchor="middle" fill="#111" stroke="#111" stroke-width="0.1">4</text>
<line x1="602.6" y1="836" x2="602.6" y2="838.8" stroke="#1a1a1a" stroke-width="1"/>
<text x="602.6" y="829.3" font-family="Liberation Sans, sans-serif" font-size="9.6" text-anchor="middle" fill="#222" stroke="#222" stroke-width="0.1">0</text>
<text x="602.6" y="857.6" font-family="Liberation Sans, sans-serif" font-size="12" text-anchor="middle" fill="#111" stroke="#111" stroke-width="0.1">5</text>
<line x1="642.3" y1="836" x2="642.3" y2="838.8" stroke="#1a1a1a" stroke-width="1"/>
<rect x="624.55" y="829.2" width="35.5" height="0.5" fill="#86bff5" fill-opacity="0.35"/>
<text x="642.3" y="827.88" font-family="Liberation Sans, sans-serif" font-size="9.6" text-anchor="middle" fill="#222" stroke="#222" stroke-width="0.1">1</text>
<text x="642.3" y="857.6" font-family="Liberation Sans, sans-serif" font-size="12" text-anchor="middle" fill="#111" stroke="#111" stroke-width="0.1">6</text>
<text transform="translate(385.3,768) rotate(-90)" font-family="Liberation Sans, sans-serif" font-size="11.8" text-anchor="middle" fill="#111" stroke="#111" stroke-width="0.1">Count</text>
<text x="504.2" y="728.5" font-family="Liberation Sans, sans-serif" font-size="9.6" text-anchor="middle" fill="#1f2d86" stroke="#1f2d86" stroke-width="0.1">1057 (88.30%)</text>
<text x="504.2" y="738.8" font-family="Liberation Sans, sans-serif" font-size="9.6" text-anchor="middle" fill="#1f2d86" stroke="#1f2d86" stroke-width="0.1">scaffolds have</text>
<text x="504.2" y="749.1" font-family="Liberation Sans, sans-serif" font-size="9.6" text-anchor="middle" fill="#1f2d86" stroke="#1f2d86" stroke-width="0.1">no evidence of</text>
<text x="504.2" y="759.4" font-family="Liberation Sans, sans-serif" font-size="9.6" text-anchor="middle" fill="#1f2d86" stroke="#1f2d86" stroke-width="0.1">recombination</text>
<text x="629" y="728.5" font-family="Liberation Sans, sans-serif" font-size="9.6" text-anchor="middle" fill="#5b82b0" stroke="#5b82b0" stroke-width="0.1">140 (11.70%)</text>
<text x="629" y="738.8" font-family="Liberation Sans, sans-serif" font-size="9.6" text-anchor="middle" fill="#5b82b0" stroke="#5b82b0" stroke-width="0.1">scaffolds have</text>
<text x="629" y="749.1" font-family="Liberation Sans, sans-serif" font-size="9.6" text-anchor="middle" fill="#5b82b0" stroke="#5b82b0" stroke-width="0.1">evidence of</text>
<text x="629" y="759.4" font-family="Liberation Sans, sans-serif" font-size="9.6" text-anchor="middle" fill="#5b82b0" stroke="#5b82b0" stroke-width="0.1">recombination</text>
<circle cx="567" cy="740.2" r="25.9" fill="#10207c"/>
<path d="M567 740.2 L567 714.3 A25.9 25.9 0 0 1 584.36 720.98 Z" fill="#86bff5" stroke="#fff" stroke-width="0.5"/>
<text x="409.2" y="849.5" font-family="Liberation Sans, sans-serif" font-size="12.1" text-anchor="end" fill="#111" stroke="#111" stroke-width="0.1"># of syntenic blocks</text>
<text x="409.2" y="861.8" font-family="Liberation Sans, sans-serif" font-size="12.1" text-anchor="end" fill="#111" stroke="#111" stroke-width="0.1">per parental genome</text>
<text x="409.2" y="878.7" font-family="Liberation Sans, sans-serif" font-size="12.1" text-anchor="end" fill="#111" stroke="#111" stroke-width="0.1">Representation</text>
<text x="409.2" y="891" font-family="Liberation Sans, sans-serif" font-size="12.1" text-anchor="end" fill="#111" stroke="#111" stroke-width="0.1">of syntenic blocks</text>
<text x="409.2" y="903.3" font-family="Liberation Sans, sans-serif" font-size="12.1" text-anchor="end" fill="#111" stroke="#111" stroke-width="0.1">across a scaffold</text>
<clipPath id="c4381"><rect x="434.6" y="870.6" width="7" height="33.2" rx="2.6" ry="2.6"/></clipPath>
<g clip-path="url(#c4381)">
<rect x="434.6" y="870.6" width="7" height="33.5" fill="#0f74ba"/>
</g>
<rect x="434.6" y="870.6" width="7" height="33.2" rx="2.6" ry="2.6" fill="none" stroke="#222" stroke-width="0.9"/>
<clipPath id="c4497"><rect x="446.2" y="870.6" width="7" height="33.2" rx="2.6" ry="2.6"/></clipPath>
<g clip-path="url(#c4497)">
<rect x="446.2" y="870.6" width="7" height="33.5" fill="#cb3414"/>
</g>
<rect x="446.2" y="870.6" width="7" height="33.2" rx="2.6" ry="2.6" fill="none" stroke="#222" stroke-width="0.9"/>
<clipPath id="c4836"><rect x="480.1" y="870.6" width="7" height="33.2" rx="2.6" ry="2.6"/></clipPath>
<g clip-path="url(#c4836)">
<rect x="480.1" y="870.6" width="7" height="16.9" fill="#0f74ba"/>
<rect x="480.1" y="887.2" width="7" height="16.9" fill="#cb3414"/>
</g>
<rect x="480.1" y="870.6" width="7" height="33.2" rx="2.6" ry="2.6" fill="none" stroke="#222" stroke-width="0.9"/>
<clipPath id="c5175"><rect x="514" y="870.6" width="7" height="33.2" rx="2.6" ry="2.6"/></clipPath>
<g clip-path="url(#c5175)">
<rect x="514" y="870.6" width="7" height="11.37" fill="#cb3414"/>
<rect x="514" y="881.67" width="7" height="11.37" fill="#0f74ba"/>
<rect x="514" y="892.73" width="7" height="11.37" fill="#cb3414"/>
</g>
<rect x="514" y="870.6" width="7" height="33.2" rx="2.6" ry="2.6" fill="none" stroke="#222" stroke-width="0.9"/>
<clipPath id="c5292"><rect x="525.7" y="870.6" width="7" height="33.2" rx="2.6" ry="2.6"/></clipPath>
<g clip-path="url(#c5292)">
<rect x="525.7" y="870.6" width="7" height="11.37" fill="#0f74ba"/>
<rect x="525.7" y="881.67" width="7" height="11.37" fill="#cb3414"/>
<rect x="525.7" y="892.73" width="7" height="11.37" fill="#0f74ba"/>
</g>
<rect x="525.7" y="870.6" width="7" height="33.2" rx="2.6" ry="2.6" fill="none" stroke="#222" stroke-width="0.9"/>
<clipPath id="c5630"><rect x="559.5" y="870.6" width="7" height="33.2" rx="2.6" ry="2.6"/></clipPath>
<g clip-path="url(#c5630)">
<rect x="559.5" y="870.6" width="7" height="8.6" fill="#0f74ba"/>
<rect x="559.5" y="878.9" width="7" height="8.6" fill="#cb3414"/>
<rect x="559.5" y="887.2" width="7" height="8.6" fill="#0f74ba"/>
<rect x="559.5" y="895.5" width="7" height="8.6" fill="#cb3414"/>
</g>
<rect x="559.5" y="870.6" width="7" height="33.2" rx="2.6" ry="2.6" fill="none" stroke="#222" stroke-width="0.9"/>
<clipPath id="c5970"><rect x="593.5" y="870.6" width="7" height="33.2" rx="2.6" ry="2.6"/></clipPath>
<g clip-path="url(#c5970)">
<rect x="593.5" y="870.6" width="7" height="6.94" fill="#cb3414"/>
<rect x="593.5" y="877.24" width="7" height="6.94" fill="#0f74ba"/>
<rect x="593.5" y="883.88" width="7" height="6.94" fill="#cb3414"/>
<rect x="593.5" y="890.52" width="7" height="6.94" fill="#0f74ba"/>
<rect x="593.5" y="897.16" width="7" height="6.94" fill="#cb3414"/>
</g>
<rect x="593.5" y="870.6" width="7" height="33.2" rx="2.6" ry="2.6" fill="none" stroke="#222" stroke-width="0.9"/>
<clipPath id="c6081"><rect x="604.6" y="870.6" width="7" height="33.2" rx="2.6" ry="2.6"/></clipPath>
<g clip-path="url(#c6081)">
<rect x="604.6" y="870.6" width="7" height="6.94" fill="#0f74ba"/>
<rect x="604.6" y="877.24" width="7" height="6.94" fill="#cb3414"/>
<rect x="604.6" y="883.88" width="7" height="6.94" fill="#0f74ba"/>
<rect x="604.6" y="890.52" width="7" height="6.94" fill="#cb3414"/>
<rect x="604.6" y="897.16" width="7" height="6.94" fill="#0f74ba"/>
</g>
<rect x="604.6" y="870.6" width="7" height="33.2" rx="2.6" ry="2.6" fill="none" stroke="#222" stroke-width="0.9"/>
<clipPath id="c6423"><rect x="638.8" y="870.6" width="7" height="33.2" rx="2.6" ry="2.6"/></clipPath>
<g clip-path="url(#c6423)">
<rect x="638.8" y="870.6" width="7" height="5.83" fill="#cb3414"/>
<rect x="638.8" y="876.13" width="7" height="5.83" fill="#0f74ba"/>
<rect x="638.8" y="881.67" width="7" height="5.83" fill="#cb3414"/>
<rect x="638.8" y="887.2" width="7" height="5.83" fill="#0f74ba"/>
<rect x="638.8" y="892.73" width="7" height="5.83" fill="#cb3414"/>
<rect x="638.8" y="898.27" width="7" height="5.83" fill="#0f74ba"/>
</g>
<rect x="638.8" y="870.6" width="7" height="33.2" rx="2.6" ry="2.6" fill="none" stroke="#222" stroke-width="0.9"/>
</svg>
</body></html>
